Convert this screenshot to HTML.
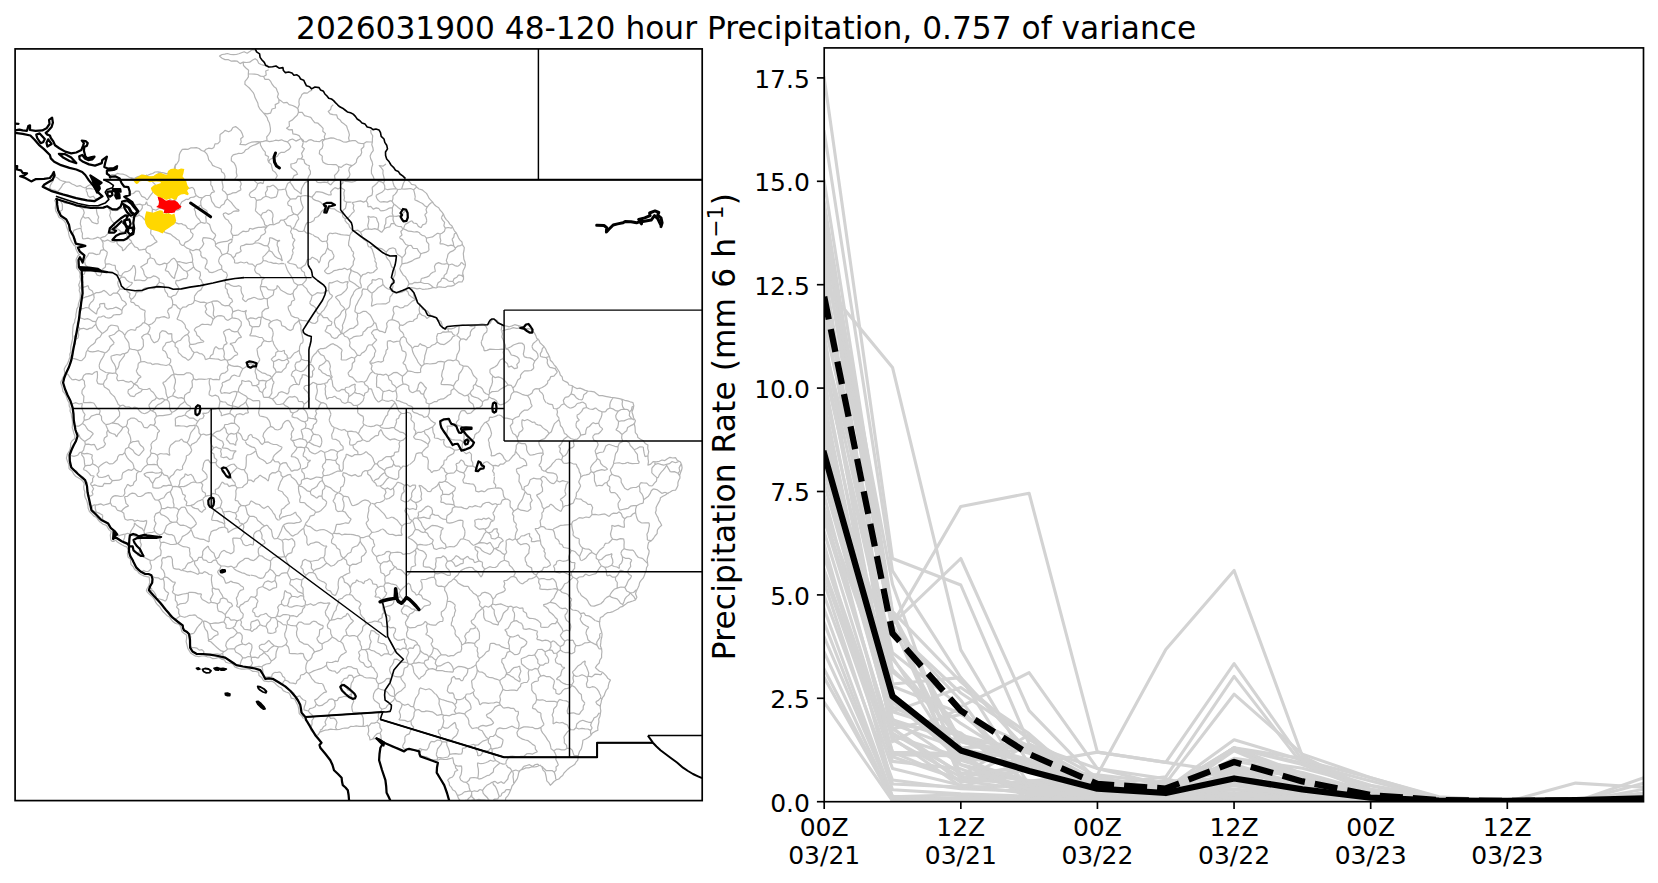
<!DOCTYPE html>
<html lang="en"><head><meta charset="utf-8"><title>Precipitation</title>
<style>html,body{margin:0;padding:0;background:#fff}body{width:1658px;height:883px;overflow:hidden}</style></head>
<body>
<svg width="1658" height="883" viewBox="0 0 1658 883" style="display:block;font-family:'DejaVu Sans','Liberation Sans',sans-serif">
<defs><clipPath id="cpL"><rect x="15.1" y="48.9" width="687.1" height="751.7"/></clipPath><clipPath id="cpR"><rect x="824.2" y="47.9" width="819.3" height="753.8"/></clipPath></defs>
<rect width="1658" height="883" fill="#fff"/>
<g clip-path="url(#cpL)">
<path d="M62.3 210.0 62.4 207.1 62.3 204.2 60.9 201.5 60.3 200.5M74.7 205.9 74.6 204.8M59.0 212.1 62.3 210.0M190.0 344.2 189.2 346.4M190.0 344.2 189.0 340.9 189.1 337.4 187.6 334.2M178.3 351.4 177.8 348.5 175.1 346.4 175.2 343.2M187.6 334.2 184.8 335.6 182.5 337.6 180.6 340.2 177.6 341.2 175.2 343.2M241.6 337.3 238.8 337.9 236.9 339.8 235.2 342.3 232.5 343.0 229.9 343.7M237.4 353.0 234.9 351.2 233.8 348.2 232.5 345.5 229.9 343.7M222.7 179.7 222.0 181.5 222.7 184.5 223.1 187.4 222.2 190.2M236.6 179.7 237.9 180.1 240.3 181.2M222.2 190.2 225.1 192.1 227.2 194.9M227.2 194.9 230.1 194.2 232.8 192.9 235.9 192.7 238.4 191.1 241.1 189.7M240.3 181.2 241.3 184.0 240.1 186.9 241.1 189.7M57.4 191.9 59.4 189.6 61.3 187.2 62.7 184.4 65.2 182.6 66.0 182.0M215.4 206.6 219.7 208.0M215.4 206.6 213.7 203.9 211.8 201.4 211.1 198.3 210.1 195.3M219.7 208.0 221.3 205.5 224.1 204.0 225.2 201.0 227.3 198.9M227.3 198.9 227.2 194.9M214.8 191.6 211.8 192.6 210.1 195.3M83.3 209.3 84.3 212.8 82.9 216.2M82.9 216.2 85.0 218.1 88.4 217.5 90.3 219.7 92.1 222.1 94.6 223.2 97.4 223.8M98.4 222.6 97.4 223.8M98.4 222.6 97.8 219.9 98.7 217.0 97.3 214.5 96.7 211.8 96.4 209.1M194.1 352.5 192.1 350.8 191.0 348.4 189.2 346.4M194.1 352.5 192.7 355.6 190.8 358.4 188.0 360.4M178.3 351.4 178.1 352.3M178.1 352.3 180.5 354.4 182.7 356.8 185.7 358.1 188.0 360.4M203.8 342.0 201.0 342.4 198.2 342.8 195.6 343.9 192.9 344.3 190.0 344.2M194.1 352.5 197.0 352.0 199.4 353.6 202.1 353.9M237.4 353.0 237.7 354.7M237.7 354.7 234.7 355.6 232.5 357.7 230.1 359.7 227.0 360.3M227.0 360.3 225.1 359.4M225.1 359.4 223.8 356.8 224.4 353.9 224.0 351.2 223.0 348.5M227.3 343.4 224.1 345.1 223.0 348.5M629.2 463.2 632.3 463.7 635.3 463.5 638.3 463.5M627.9 462.3 625.2 463.4 622.3 463.7 619.4 462.8 616.5 463.0 613.7 463.5M627.9 462.3 629.2 463.2M613.7 463.5 612.3 466.9 610.2 469.9M621.1 478.7 618.4 476.3 614.9 475.7 611.9 474.2M610.2 469.9 611.9 474.2M572.4 550.5 575.3 551.8 577.3 554.2 579.5 556.4M579.5 556.4 580.7 553.7 582.0 551.0 582.5 547.9M579.2 543.2 580.5 545.8 582.5 547.9M543.7 550.9 544.8 549.6M543.7 550.9 545.3 553.1 544.8 556.2 545.9 558.6 548.3 560.4 549.8 562.6 550.6 565.1M559.7 560.2 556.9 561.3 555.9 564.4 553.4 565.7M225.2 287.7 227.2 289.6 227.3 292.6 228.6 294.9 229.2 297.5 231.7 299.1 232.7 301.6M217.3 300.8 219.8 302.4 221.8 304.6 224.6 305.8M224.6 305.8 229.0 305.4M232.7 301.6 230.5 303.1 229.0 305.4M109.9 210.1 112.5 209.8 115.4 210.6 118.0 210.1 120.5 208.6 123.1 207.7 125.8 207.7M109.9 210.1 110.6 212.6 109.6 215.5 110.7 218.0 111.5 220.5M112.2 221.1 111.5 220.5M126.9 212.4 125.8 207.7M131.7 179.4 132.0 177.2M108.4 208.0 109.9 210.1M108.4 208.0 109.1 207.4M432.7 426.9 430.2 428.0 427.8 429.4 425.1 430.0M432.7 426.9 432.8 429.7 433.2 432.5 434.6 435.1 434.4 438.0M425.1 430.0 424.3 431.0M424.3 431.0 425.1 433.8 427.4 435.6 429.0 437.9 430.1 440.4M223.0 213.9 223.9 216.4 225.4 218.7 228.1 220.2 229.3 222.6 231.3 224.6 231.8 227.4M223.0 213.9 225.5 212.8 228.5 214.4 231.1 213.3 233.5 211.4 236.2 210.9 239.0 211.2M227.3 198.9 229.3 200.6 231.3 202.4 232.9 204.6 234.5 206.7 236.3 208.7 238.9 209.9M238.9 209.9 239.0 211.2M255.4 266.9 257.0 264.5 259.8 263.9 262.1 262.5M255.4 266.9 254.6 270.0 256.1 272.9M256.1 272.9 259.1 274.2 261.2 277.2 264.6 277.7M248.3 263.9 252.4 264.1 255.4 266.9M206.9 222.8 209.6 224.5 210.5 227.6 211.5 230.5 213.4 232.8 215.8 234.8M231.8 227.4 230.8 232.1M83.3 209.3 80.7 207.5 78.0 205.8 74.7 205.9M82.9 216.2 80.8 220.0M80.8 220.0 80.3 223.9 81.5 227.6M73.8 230.4 77.3 229.0 81.0 228.2M72.8 235.0 73.0 233.1 73.8 230.4M214.8 191.6 212.8 189.6 212.4 186.8 210.7 184.7 210.9 181.6 209.5 179.7M210.1 195.3 205.8 195.5M96.4 209.1 97.7 207.8M112.2 221.1 113.9 223.2 114.7 225.7 115.6 228.2M97.5 237.1 100.1 238.2M100.1 238.2 102.5 237.1 105.2 236.4 107.1 234.4 109.0 232.6 110.6 230.1 113.1 229.1 115.6 228.2M113.7 242.1 116.7 240.5M116.7 240.5 117.2 243.6 119.4 245.8 122.1 247.7 122.6 250.9M101.6 240.1 100.1 238.2M101.6 240.1 104.5 241.2 107.8 239.9 110.7 241.6 113.7 242.1M115.6 228.2 118.6 229.5 121.0 231.8M131.6 242.5 133.2 244.6 134.8 246.9 137.6 247.8 139.1 250.1M131.6 242.5 129.1 244.3 126.9 246.6 125.1 249.1 122.6 250.9M143.5 346.2 141.3 349.4 137.7 350.6M143.5 346.2 143.3 343.1 143.2 339.9 141.4 337.2M137.7 350.6 135.1 349.7 132.3 349.5 129.6 348.6M129.6 348.6 129.1 345.8 128.8 342.9M117.6 282.6 119.3 279.6 121.5 276.9M115.6 269.6 117.9 271.5 118.5 274.9 121.4 276.3M133.5 265.3 132.1 267.8 130.3 269.9 127.9 271.3 124.8 271.9 122.7 273.6 121.4 276.3M115.2 265.4 115.6 269.6M120.0 288.9 118.4 285.9 117.6 282.6M120.0 288.9 123.1 289.1 126.2 288.8M121.5 276.9 124.7 277.4 126.8 280.2 129.4 282.0 132.6 282.6M132.6 282.6 130.8 285.1 128.5 286.9 126.2 288.8M162.5 349.9 163.1 347.2 165.0 345.1 166.2 342.6M162.5 349.9 165.3 351.5 166.8 354.2 167.6 357.5 170.6 359.0M175.2 343.2 172.3 340.8M166.2 342.6 169.4 342.2 172.3 340.8M154.0 342.9 157.7 341.2 159.6 337.7M154.0 342.9 152.3 340.6 150.9 338.2 150.1 335.3 147.5 333.6M147.5 333.6 149.3 330.6M159.6 337.7 159.7 333.3M141.4 337.2 144.1 334.8 147.5 333.6M221.0 360.5 218.3 359.1 215.4 359.0 212.5 358.7 209.7 358.3M209.7 358.3 205.4 359.6M225.1 359.4 221.0 360.5M215.7 346.6 219.0 348.9 223.0 348.5M215.7 346.6 214.2 348.8 213.5 351.4 213.0 354.1 210.6 355.8 209.7 358.3M202.1 353.9 204.5 356.3 205.4 359.6M678.0 473.3 680.2 476.6M678.0 473.3 679.8 471.0 679.1 467.9 680.4 465.4 681.0 464.2M670.4 471.9 674.4 471.6 678.0 473.3M677.9 460.5 678.4 461.6M497.3 505.8 495.5 508.1 494.4 510.8 492.8 513.2M494.0 520.5 494.6 516.7 492.8 513.2M376.9 339.9 374.4 342.4 371.9 345.0M387.4 341.2 387.3 345.0 387.8 348.8M387.8 348.8 386.0 350.5M371.9 345.0 374.1 347.9 375.9 351.0M632.9 406.2 632.0 407.0 631.5 409.9 629.7 411.9M629.7 411.9 629.3 415.6 631.7 418.6M631.7 418.6 633.8 420.1M629.2 442.8 626.4 440.9 623.0 441.5M634.4 423.3 633.0 424.6 630.2 425.9 627.6 427.5 626.7 430.8 624.3 432.6 622.0 434.5M623.0 441.5 621.6 438.1 622.0 434.5M636.5 505.7 633.5 505.6 630.6 506.2 628.2 508.3 625.4 508.9 622.5 509.5 619.7 510.2M620.5 499.5 618.0 503.5M618.0 503.5 618.3 507.0 619.7 510.2M627.7 490.0 624.7 488.3 623.0 485.4M614.9 492.6 617.1 494.6 618.7 497.2 620.5 499.5M639.4 462.4 637.9 460.1 637.6 457.3 637.4 454.4 635.6 452.2 634.1 449.8M645.0 456.6 644.2 453.4 643.6 450.2 643.3 447.0M643.3 447.0 639.9 446.8 637.1 448.5 634.1 449.7M638.3 463.5 639.4 462.4M629.2 442.8 630.3 445.5 632.3 447.5 634.1 449.7M645.0 456.6 648.0 455.7M668.6 493.7 664.9 492.2M492.9 465.7 490.0 463.7 487.2 461.5M492.9 465.7 495.5 465.4 498.2 466.2 500.5 464.0 503.2 464.2M491.0 455.8 494.3 455.7 497.0 453.9 500.1 453.1M500.1 453.1 502.6 455.5 504.2 458.6 506.5 461.1M503.2 464.2 506.5 461.1M489.9 369.5 490.0 373.1M467.8 366.4 469.6 368.4 471.4 370.4 472.3 373.1 473.5 375.5 475.5 377.4 477.3 379.5M580.7 485.7 578.6 481.9M578.6 481.9 580.6 477.4M593.5 472.6 594.5 475.2 594.4 478.1 594.5 481.0 595.6 483.6 596.4 486.3M593.5 472.6 591.2 471.6M591.2 471.6 589.1 474.1 586.1 474.9 583.0 475.5 580.6 477.4M607.7 469.3 605.0 470.3 601.8 469.7 599.0 470.4 596.2 471.2 593.5 472.6M611.9 474.2 609.5 476.4 609.2 479.8 607.1 482.2M596.4 486.3 599.0 485.3 602.3 485.6 604.4 483.3 607.1 482.2M623.0 485.4 621.2 482.3 621.1 478.7M614.9 492.6 610.7 492.6M610.7 492.6 609.6 490.0 610.0 487.0 607.4 485.0 607.1 482.2M607.0 575.9 610.0 575.2 612.6 577.2 615.5 577.2M615.5 577.2 615.5 580.0 617.3 582.5 617.2 585.3 617.2 588.1M617.2 588.1 614.2 589.3 612.2 591.5 610.4 594.2M647.9 563.4 645.9 561.9M651.5 540.5 650.8 540.5 647.4 540.1M649.1 522.8 649.4 525.7 648.7 528.6 648.3 531.5 646.9 534.2 647.3 537.2 647.4 540.1M596.0 573.6 597.6 570.9 599.3 568.2 601.3 565.8M607.0 575.9 606.4 573.0 606.2 570.0 604.8 567.4M604.8 567.4 601.3 565.8M636.7 505.8 635.6 509.1 635.6 512.6M635.6 512.6 632.8 514.0 630.6 516.5 627.2 516.8 624.7 518.8M624.7 518.8 622.4 516.8 621.4 513.8 619.1 511.8M607.7 469.3 605.6 467.2 602.9 465.7 600.8 463.5 599.9 460.2 597.3 458.6M591.2 471.6 590.4 468.0M590.4 468.0 591.8 465.4 593.6 463.1 595.8 461.1 597.3 458.6M170.6 359.0 170.7 362.0 169.0 364.5M169.0 364.5 166.2 365.5 163.4 365.0 160.6 364.6 157.9 363.9 155.1 363.9 152.3 364.7M152.3 364.7 151.0 363.2M137.7 350.6 138.5 353.4 140.0 356.0 140.6 358.8 140.8 361.8M151.0 363.2 147.6 363.0 144.3 361.5 140.8 361.8M600.9 696.1 599.7 693.7 598.6 691.1 597.0 688.9 594.9 687.1M397.5 482.1 395.6 485.2 393.2 487.9M380.1 486.0 382.9 484.4 384.8 481.8 386.7 479.3 389.2 477.3M380.1 486.0 382.3 488.1 385.0 489.3M396.5 479.7 392.8 478.6 389.2 477.3M393.2 487.9 390.7 489.7 387.6 487.9 385.0 489.3M390.8 552.8 389.2 556.5 389.8 560.4M390.8 552.8 394.1 552.5 397.5 552.2 400.9 552.5M400.9 552.5 403.3 554.5M395.5 566.7 394.7 566.7M389.8 560.4 391.8 562.2 392.8 564.8 394.7 566.7M529.7 547.4 529.0 550.1 528.9 553.0 526.8 555.3 525.1 557.7 525.3 560.7M526.7 563.1 525.3 560.7M528.7 545.0 526.3 543.5 523.6 543.9 520.8 544.8 518.4 543.1M528.7 545.0 529.7 547.4M543.6 567.3 542.5 569.9 540.2 571.4 537.7 572.7 536.4 575.1M526.6 564.8 528.9 566.5 531.6 567.9 532.1 571.4 533.8 573.7 536.4 575.1M526.6 564.8 526.7 563.1M543.6 567.3 547.3 567.1 550.6 565.1M522.5 584.0 524.6 582.3 527.0 581.0 528.9 578.8 531.8 578.6 534.3 577.5 536.6 576.1M522.5 584.0 519.8 582.7 517.8 580.6 516.2 577.8 513.6 576.4M536.4 575.1 536.6 576.1M513.6 576.4 515.4 572.7M515.4 572.7 513.7 570.0 511.9 567.4 509.4 565.2 508.7 561.9M203.8 342.0 203.6 341.0M232.2 317.8 231.9 314.8 232.8 311.9M232.2 317.8 227.7 320.4M232.8 311.9 231.9 308.1 229.0 305.4M221.2 315.7 223.9 316.5 225.4 319.0 227.7 320.4M241.3 321.8 241.2 325.4 239.3 328.3 237.7 331.3M241.3 321.8 238.8 319.3 235.6 318.3 232.2 317.8M237.7 331.3 234.8 331.8 232.0 331.2 229.5 329.1 226.5 329.8M227.3 343.4 225.7 340.8 225.6 337.7 224.5 334.9 223.3 332.1M237.7 331.3 239.5 334.4 241.6 337.3M226.5 329.8 223.3 332.1M241.4 287.1 241.0 290.2 241.7 293.1 243.5 296.0 242.4 299.0M241.4 287.1 239.0 285.7 236.2 286.3 233.5 286.3 231.0 285.4 228.7 283.7 226.0 283.8M225.2 287.7 225.6 284.1M186.8 271.5 189.3 270.3 191.5 268.7 193.6 266.9M186.8 271.5 183.9 270.3 181.8 268.1 179.8 265.8 177.5 263.9M192.4 262.1 189.3 262.5 186.2 263.4 183.1 262.7 180.0 261.7 176.9 261.8M177.5 263.9 176.9 261.8M192.7 262.3 193.6 266.9M189.9 249.3 192.9 250.7 196.1 249.4 199.1 249.9M189.9 249.3 190.0 251.9 191.7 254.3 192.1 256.8 192.7 259.4 192.4 262.1M199.1 249.9 200.9 252.2 200.8 255.2 202.4 257.6M207.0 210.8 207.2 213.8 205.7 216.7 206.1 219.7 206.2 222.7M137.8 182.0 140.5 180.5 141.8 177.7 143.7 175.4 143.8 175.4M137.8 182.0 134.6 181.1 131.7 179.4M129.7 194.2 130.4 194.2 133.4 193.5 135.8 191.2 138.9 191.0M128.5 202.9 129.3 202.9 131.7 204.3 134.3 205.0 137.0 204.6 139.8 204.1 142.3 205.1M146.8 199.9 144.9 197.6 141.8 196.4 140.3 193.7 138.9 191.0M142.3 205.1 145.3 204.5 146.5 201.7M131.6 242.5 131.5 241.2M121.0 231.8 124.9 231.8M124.9 231.8 126.7 234.0 127.4 237.0 129.3 239.2 131.5 241.2M324.9 331.3 327.7 332.7 330.3 334.2 331.8 337.1 334.5 338.6M317.9 350.1 320.4 348.7 323.3 348.6 326.0 347.8 328.4 346.1 330.7 344.4 333.4 343.7M371.9 293.2 369.5 291.5 367.5 289.5M371.9 293.2 374.2 291.6 376.2 289.6 378.2 287.5 380.7 286.2 383.0 284.5M383.0 284.5 382.4 279.3M382.4 279.3 378.9 278.5 375.5 280.2 372.0 279.7M372.0 279.7 372.0 282.7 369.8 284.6 367.9 286.6 367.5 289.5M404.1 306.2 407.5 305.6 409.9 303.4 412.3 301.1 415.3 299.8M415.3 299.8 413.3 297.9 410.9 296.4 408.8 294.7 407.9 291.7 405.7 290.1M401.2 292.5 405.7 290.1M393.2 292.6 395.9 292.6 398.6 292.7 401.2 292.5M393.2 292.6 392.8 291.8M399.6 268.1 400.5 270.6 401.9 272.9 403.3 275.1 405.5 276.8 406.7 279.1 408.2 281.3 409.0 283.9M409.0 283.9 407.4 287.0 405.7 290.1M394.5 268.9 395.3 271.9 395.0 274.7 393.6 277.5 392.6 280.3 392.2 283.1 393.0 286.1 392.4 288.9 392.8 291.8M452.0 239.3 453.2 242.5 453.7 245.8M452.0 239.3 453.8 237.1 454.3 234.1 456.2 232.7M462.4 244.4 460.6 245.6 457.6 246.2 455.4 248.1M455.4 248.1 453.7 245.8M445.3 228.1 448.1 227.5 451.3 228.1 452.5 226.9M445.3 228.1 443.9 225.7 444.6 222.4 442.6 220.2 441.3 217.7M441.3 217.7 443.2 214.2M441.9 233.2 444.5 231.2 445.3 228.1M228.5 364.4 227.0 360.3M228.5 364.4 231.3 365.6 234.2 366.4 237.4 366.1 240.3 366.9 242.9 368.7M242.9 368.7 245.8 367.0 248.1 364.5M228.5 364.4 227.3 367.3 228.0 370.4M221.5 373.6 225.1 372.8 228.0 370.4M238.3 391.6 236.9 391.9M238.3 391.6 238.6 388.7 239.7 386.0 241.8 383.5 241.6 380.4M236.9 391.9 234.9 391.4M239.5 376.5 236.9 376.0 234.3 375.0 231.7 376.1M231.7 376.1 229.6 379.6M242.9 368.7 241.5 371.2 240.4 373.8 239.5 376.5M409.0 283.9 412.0 283.9 414.7 282.3 417.7 282.7 420.6 282.2M420.6 282.2 421.3 278.5M400.0 267.7 402.0 263.8M402.0 263.8 404.6 263.3 407.3 262.9 409.7 261.9 412.2 260.9 414.4 259.2 416.9 258.4 419.5 257.7M419.9 233.8 422.1 235.3 424.7 236.0 426.4 238.2M411.3 245.4 413.0 248.3 417.1 248.5 418.7 251.4 420.9 253.8M420.9 253.8 423.6 252.8 426.5 252.1 429.0 250.4M429.0 250.4 428.7 247.3 428.8 244.1 426.5 241.3 426.4 238.2M441.9 233.2 440.1 234.0M453.7 245.8 451.0 245.2 448.0 245.9 445.4 244.7 442.7 243.8 439.8 243.8M439.8 243.8 440.8 240.6 440.0 237.3 440.1 234.0M421.1 227.7 422.5 224.9 425.7 223.7 426.8 220.7M419.6 232.7 419.9 233.8M426.4 238.2 429.4 237.5 432.5 236.9 435.0 235.1 437.4 233.2M437.4 233.2 440.1 234.0M415.1 434.7 413.4 437.0M415.1 434.7 417.8 432.4 421.3 432.3 424.3 431.0M430.1 440.4 428.0 444.4M428.0 444.4 425.9 442.6 423.5 441.3 421.1 440.0 418.3 439.5 415.4 439.1 413.4 437.0M444.1 444.6 443.6 441.9 444.5 439.4M444.1 444.6 446.3 446.8 449.5 447.1 452.2 448.5 454.6 450.2M454.6 450.2 457.3 450.0 459.8 449.1 462.4 448.9M446.5 436.8 449.3 437.6 451.7 439.6 454.6 439.9 457.5 440.0 460.5 440.2 462.9 441.9M462.4 448.9 462.1 445.4 462.9 441.9M264.6 277.7 261.9 280.0 261.6 283.5 260.3 286.4M232.8 311.9 235.5 310.9 238.2 310.0 241.1 311.0 244.0 311.7 246.6 310.2M246.6 310.2 245.3 313.0 246.1 315.9 246.5 318.7M263.2 260.5 265.8 260.8 268.3 262.0 271.0 262.4 273.5 263.4 276.2 263.2 278.8 264.0 281.5 263.4 284.2 263.6M263.2 260.5 262.7 257.1M262.7 257.1 265.0 255.1 267.0 252.8 269.0 250.6M269.0 250.6 271.7 251.7 273.4 254.2 275.2 256.6 277.5 258.1 280.5 259.0 282.4 261.1M262.1 262.5 263.2 260.5M248.3 263.9 247.2 262.0M215.8 234.8 214.8 237.4 213.1 239.7M204.9 223.3 206.2 222.7M213.1 239.7 209.9 238.3 206.5 237.9 203.1 237.7M82.6 274.6 81.9 275.2M82.6 274.6 84.3 274.1M82.4 287.2 83.0 287.3 85.5 286.7 88.0 285.5M81.0 228.2 81.4 230.9 82.5 233.4 82.2 236.2 82.7 238.8M97.5 237.1 95.8 238.2M82.7 238.8 85.3 238.6 87.9 238.1 90.6 239.0 93.2 238.9 95.8 238.2M53.7 177.3 53.4 180.4 51.7 183.0 50.2 185.6 49.7 188.6M43.8 185.8 45.2 186.7 48.2 188.7M48.2 188.7 49.7 188.6M57.4 191.9 55.1 190.2 52.2 189.9 49.7 188.6M124.6 355.4 122.9 357.7 121.1 360.0 119.4 362.4 118.9 365.4 117.9 368.2 115.9 370.3M115.9 370.3 115.7 372.7M129.6 348.6 127.8 352.1 124.4 353.9M124.4 353.9 124.6 355.4M140.8 361.8 138.2 363.6M124.4 353.9 122.9 353.5M115.9 370.3 115.7 367.2 114.5 364.4 112.7 361.9 111.3 359.2 110.9 356.2M122.9 353.5 120.1 355.2 116.8 354.5 113.8 355.3 110.9 356.2M119.0 330.2 116.6 332.0 114.5 334.2 111.7 335.2 108.8 336.1M119.0 330.2 122.4 332.2 124.8 335.3M124.7 337.1 124.8 335.3M108.8 336.1 110.7 338.5 112.6 340.6 114.3 343.1M124.7 337.1 126.9 339.9 128.8 342.9M114.2 343.4 112.1 345.0 110.2 346.8 109.1 349.5 107.3 351.4 105.1 353.0M119.0 330.2 117.8 326.2M102.4 333.5 104.9 331.7 107.3 329.8 108.7 326.7 111.3 325.0M117.8 326.2 114.5 325.5 111.3 325.0M120.0 288.9 117.0 292.8M109.6 295.3 106.9 292.6 103.8 290.3M109.6 295.3 110.5 295.5M117.0 292.8 113.3 293.1 110.5 295.5M116.0 307.1 113.2 308.3 110.2 308.7 107.3 309.3M104.6 303.3 104.8 306.9 107.3 309.3M95.9 321.7 95.9 324.2M95.9 321.7 98.1 317.2M95.9 324.2 96.8 326.9 98.1 329.4 100.2 331.4 102.1 333.5M108.7 318.1 105.9 317.5 103.6 315.8M98.1 317.2 101.0 317.0 103.6 315.8M186.6 278.6 183.9 278.6 181.3 279.6 178.8 280.6 176.0 280.3M176.0 280.3 175.6 283.1 177.2 285.5 178.8 287.8 178.2 290.7M186.8 271.5 187.9 275.1 186.6 278.6M174.5 278.7 174.9 275.7 175.8 272.8 176.9 269.9 177.7 267.0 177.5 263.9M203.6 341.0 200.9 339.6 199.4 337.0 196.9 335.2 196.1 332.1 194.1 330.0M201.8 324.2 204.9 324.5 208.0 324.4 211.0 325.3M201.8 324.2 199.0 326.3 195.8 327.6M194.1 330.0 195.8 327.6M171.0 297.3 173.1 295.6 175.7 295.0M171.0 297.3 167.9 296.5M175.7 295.0 178.2 290.7M167.9 296.5 167.4 293.9 165.5 291.7 164.6 289.2 164.2 286.5 163.9 283.8M156.4 276.7 153.3 275.9 150.6 277.7 147.7 277.9M147.7 277.9 145.4 276.3 144.1 274.0 143.6 271.1 142.4 268.7 140.5 266.8M140.5 266.8 142.3 266.1M165.1 270.5 168.3 271.6 170.1 274.3 172.0 276.8 174.5 278.7M163.9 283.8 159.3 282.3M159.3 282.3 159.1 278.8 156.4 276.7M134.6 266.3 133.5 265.3M139.1 250.1 142.3 249.7 145.5 249.1M145.5 249.1 146.5 252.3 150.0 254.2 150.3 257.8M150.3 257.8 147.8 259.4 147.3 262.9 144.7 264.5 142.3 266.1M154.3 289.0 155.9 286.7 157.5 284.4 159.3 282.3M154.3 289.0 151.7 288.0 148.9 288.4 146.4 287.5M147.7 277.9 145.2 280.6M134.6 266.3 135.5 269.2 135.6 272.1 135.3 274.9 134.5 277.8 134.4 280.7M145.2 280.6 142.5 280.7 139.8 280.0 137.1 280.2 134.4 280.7M146.4 287.5 143.4 288.9 141.8 291.9M141.8 291.9 139.2 291.4M126.2 288.8 127.3 291.5 130.0 293.5 129.4 297.0 131.2 299.4M139.2 291.4 136.2 292.4 135.3 295.4 133.5 297.7 131.2 299.4M289.4 396.6 291.9 397.2M297.5 384.4 293.6 384.5 290.4 386.5M297.5 384.4 299.2 385.0M291.9 397.2 295.1 396.4M290.4 386.5 289.1 388.9 289.0 391.7 287.6 394.1M317.9 350.1 319.2 352.6 320.8 354.6 323.8 355.7 324.9 358.2 326.3 360.4M326.3 360.4 324.6 362.7 322.2 364.5 319.5 365.9 318.5 368.9M314.6 369.0 313.1 366.3 310.9 364.3M317.8 350.1 316.3 352.7 314.0 354.8 312.2 357.2 311.4 360.2 310.6 363.1M314.6 369.0 312.4 371.3 312.7 374.4 312.1 377.2M302.3 374.5 305.6 375.1 308.6 377.0 312.1 377.2M310.9 364.3 307.7 365.4 305.9 368.2 303.8 370.6 300.8 371.8M300.8 343.6 299.6 346.8 299.4 350.2M299.4 350.2 297.0 351.8 294.3 353.0 292.4 355.4 290.5 357.8 287.4 358.4M287.4 358.4 287.0 355.4 284.5 353.3 284.4 350.3M278.4 351.0 275.9 352.5 275.5 355.8 273.1 357.3 271.1 359.3M278.4 351.0 281.5 351.5 284.4 350.3M271.1 359.3 273.5 361.7M273.5 361.7 276.1 360.6 278.8 359.3 281.8 360.6 284.7 360.3 287.2 359.0M278.4 351.0 276.6 348.7 275.0 346.2 273.6 343.7 272.9 340.8M281.7 325.6 284.9 326.7 287.5 329.2 290.6 330.6M273.2 332.6 273.0 335.3 272.1 337.9 272.4 340.7M302.8 342.7 303.2 339.8 302.5 337.0 302.0 334.1 301.3 331.3 300.8 328.5 301.0 325.6 299.5 322.9 299.2 320.0M315.2 323.5 312.4 323.2 309.9 321.9 307.4 321.0 304.7 320.6 302.0 320.3 299.3 319.9M310.6 363.1 308.0 360.6 304.5 360.4 301.4 359.3M301.4 359.3 301.1 356.2 299.6 353.4 299.4 350.2M300.8 343.6 302.8 342.7M290.6 330.6 293.0 329.0 293.7 326.1 295.1 323.7 297.4 322.1 299.2 320.0M642.5 558.4 645.9 561.9M515.2 538.7 512.6 540.2 509.5 538.9 506.8 540.0M515.2 538.7 515.3 535.8 516.0 532.8 517.4 529.9 515.8 526.8 516.4 523.9M516.4 523.9 514.1 521.8M506.0 540.5 506.3 543.5 506.1 546.5 505.8 549.5 506.8 552.4M506.0 540.5 506.8 540.0M516.6 539.9 518.4 543.1M516.6 539.9 515.2 538.7M512.2 513.6 513.8 516.1 513.5 519.1 514.1 521.8M512.2 513.6 513.6 511.2M513.6 511.2 517.8 508.5M527.5 511.5 524.2 510.6 520.8 510.2 517.8 508.5M386.6 518.3 389.4 518.0 392.0 517.0M392.3 517.1 394.7 518.4 397.0 519.9 398.6 522.0 400.2 524.2 402.0 526.1M382.3 528.8 384.9 530.5 386.9 532.9 389.5 534.5M389.5 534.5 392.7 534.4 395.8 535.6 399.0 535.1 402.2 535.3M402.0 526.1 401.3 529.2 401.2 532.2 402.2 535.3M404.7 511.2 406.9 513.3 408.5 515.8 409.4 518.9 412.0 520.6M402.0 526.1 404.2 524.1 407.1 523.5 410.1 523.1 412.0 520.6M488.5 532.9 491.7 532.0 494.0 529.2 497.4 528.7M488.5 532.9 490.8 535.1 491.2 538.3M491.2 538.3 494.9 539.0 498.2 537.0M497.4 528.7 496.9 531.6 498.7 534.2 498.2 537.0M503.5 540.8 501.3 538.3 498.2 537.0M497.0 504.6 495.6 503.5M497.0 504.6 500.7 504.0 502.2 500.1 505.6 498.9M505.6 498.9 503.8 496.6 503.2 493.8 502.9 490.8 501.2 488.4M501.2 488.4 498.4 487.9 495.5 488.2M497.3 505.8 497.0 504.6M480.9 507.1 482.8 504.1 486.0 502.5M486.0 502.5 489.3 502.4 492.3 504.6 495.6 503.5M508.2 499.4 510.3 501.3 510.0 504.3 510.3 507.0 512.4 508.9 513.6 511.2M508.2 499.4 505.6 498.9M483.4 518.1 485.9 519.1 488.9 517.9 491.1 519.9 493.6 520.7M494.5 476.5 494.2 479.4 493.7 482.4 495.8 485.1 495.3 488.0M492.9 465.7 493.7 468.2 492.5 471.0 494.2 473.4 494.0 476.0M446.8 426.1 447.8 428.8 447.1 431.4 446.8 434.1 446.5 436.8M432.7 426.9 435.7 423.4M434.4 438.0 437.8 438.3 441.0 440.0 444.5 439.4M458.4 380.0 458.6 376.9 459.1 373.9 461.1 371.5 462.7 368.8 463.2 365.8M458.4 380.0 455.9 381.6M447.9 360.0 444.6 362.2M447.9 360.0 450.6 360.1 453.3 360.8 456.0 359.8M444.6 362.2 443.9 365.7 443.5 369.1M463.2 365.8 459.9 364.5 458.6 361.2M456.0 359.8 458.6 361.2M386.0 350.5 385.9 353.3 384.6 355.7 383.5 358.3 383.5 361.0M586.9 427.6 585.9 430.8 585.6 434.1M575.9 424.4 576.8 421.6 579.4 420.2M575.9 424.4 576.4 427.4 578.6 429.7 579.9 432.3 580.8 435.2M580.8 435.2 585.6 434.1M586.9 427.6 589.4 426.5 591.1 424.5 592.9 422.6M592.6 436.7 594.8 434.2 598.4 433.7 600.8 431.5 602.8 428.9M592.9 422.6 595.7 423.7 598.6 423.1M602.8 428.9 600.0 426.6 598.6 423.1M618.1 448.5 617.9 446.8M618.1 448.5 617.4 451.2 615.6 453.6 615.0 456.4 614.6 459.3 613.6 462.0M617.9 446.8 614.8 446.3 611.8 445.3 608.8 444.2M603.4 452.0 604.7 449.1 605.8 446.0 608.8 444.2M623.0 441.5 619.4 443.1 617.9 446.8M613.7 463.5 613.6 462.0M597.3 458.6 596.0 454.1M596.0 454.1 599.5 452.5 603.4 452.0M597.1 441.6 598.2 444.8 596.8 447.8 595.1 450.8 596.0 454.1M655.2 464.3 658.0 463.5 660.8 464.4 663.6 465.2 666.4 464.3M655.2 464.3 651.9 468.0M651.9 468.0 651.8 472.9M666.6 465.3 665.0 467.9 663.2 470.2 661.1 472.4 659.3 474.8 658.2 477.6M651.8 472.9 654.3 475.4 656.9 477.6M658.2 477.6 656.9 477.6M654.7 462.7 655.2 464.3M670.4 471.9 668.5 468.6 666.6 465.3M678.4 461.6 675.5 462.7 672.1 461.5 669.4 463.7 666.4 464.4M664.9 492.2 662.1 493.4M636.7 505.8 639.8 504.0 643.2 503.2M635.6 512.6 636.2 515.4 636.9 518.1 638.1 520.8M638.1 520.8 641.6 523.0M649.1 522.8 645.4 522.8 641.6 523.0M492.8 375.9 492.2 378.8 492.5 381.9 491.7 384.9 490.4 387.7 489.4 390.6 489.5 393.6M492.8 375.9 495.2 377.7 498.3 376.9 500.9 377.8 503.3 379.1M489.5 393.6 491.8 391.7 495.0 391.5 498.1 391.1 500.4 389.3 503.0 387.7 505.6 386.4 508.1 384.8M503.3 379.1 505.8 381.9 508.1 384.8M489.9 369.5 492.4 368.1 495.1 366.8 497.3 365.0 498.8 362.3 500.4 359.8 503.2 358.6M503.2 358.6 504.8 361.5 507.5 363.8 508.4 367.1M490.0 373.1 492.8 375.9M477.3 379.5 475.3 384.3M489.5 393.6 488.8 394.8M488.8 394.8 486.0 393.8 483.8 392.0 482.5 389.0 480.4 387.0 477.5 386.1 475.3 384.3M463.2 365.8 467.8 366.4M473.2 385.7 475.3 384.3M591.1 504.4 592.7 507.7 591.7 511.2 592.0 514.7M604.9 513.9 601.7 514.4 598.5 515.0 595.2 514.3 592.0 514.7M619.1 511.8 616.8 513.4 613.6 513.1 611.1 514.3 609.1 516.5M609.1 516.5 604.9 513.9M580.7 485.7 579.5 488.2 578.3 490.6 576.4 492.8 576.3 495.8 575.4 498.4M575.4 498.4 578.1 499.0 581.1 499.1 583.3 501.3 585.8 502.3 588.0 504.4 591.1 504.4M579.4 420.2 577.5 418.0 576.8 415.3M574.1 439.5 570.7 438.5 568.0 436.3M574.1 439.5 577.1 439.2 579.1 437.4 580.8 435.2M568.0 436.3 566.1 434.1M589.0 575.7 592.5 574.5 596.0 573.6M604.2 599.6 606.7 597.4 609.7 595.9M609.7 595.9 610.4 594.2M631.8 560.1 628.9 558.3 625.4 558.3 622.4 556.8M631.8 560.1 630.3 563.0 630.7 566.5 628.8 569.1 627.4 572.0M622.4 556.8 622.6 560.0 621.6 562.8 619.2 565.3 619.4 568.5M627.4 572.0 623.8 571.3 620.3 570.1M642.5 558.4 638.4 557.5M631.6 575.8 629.1 574.4 627.4 572.0M615.5 577.2 617.6 575.2 619.0 572.6 620.3 570.1M631.6 575.8 630.5 578.3 628.5 580.2 627.3 582.7 626.4 585.2 624.8 587.4M624.8 587.4 620.9 587.0 617.2 588.1M611.7 565.3 608.3 566.8 604.8 567.4M611.7 565.3 614.2 566.5 617.0 567.0 619.4 568.5M638.4 557.5 636.3 555.2 634.9 552.5 633.0 550.1M620.8 553.2 622.4 556.8M620.8 553.2 622.0 550.6 624.1 548.6M624.1 548.6 626.9 549.7 629.9 550.2 633.0 550.1M596.3 555.0 596.2 558.2 598.6 560.1M596.3 555.0 597.8 552.6 599.5 550.3 601.7 548.5 604.0 546.8M598.6 560.1 601.6 559.5 603.8 557.2 606.3 555.3 609.3 554.7 612.1 553.6M598.6 561.5 598.6 560.1M598.6 561.5 601.3 565.8M611.7 565.3 612.9 562.4 612.6 559.5 611.3 556.5 612.1 553.6M585.3 660.9 582.7 662.2 580.8 664.3 578.2 665.7 576.3 667.8 574.5 670.1 572.4 671.9M585.3 660.9 584.8 664.2 586.5 667.0 587.6 669.9 588.7 672.9 588.2 676.1M587.1 677.2 588.2 676.1M587.1 677.2 584.5 675.8 582.0 674.7 579.0 676.0 576.1 676.4 573.7 674.7M573.7 674.7 572.4 671.9M556.1 582.6 556.6 586.3 557.9 589.7M556.1 582.6 554.6 580.3 552.5 578.4M552.5 578.4 549.8 579.6 547.1 579.7 544.4 578.7 541.7 578.6 539.0 579.1M557.8 589.8 555.3 588.6 552.6 589.0 550.0 589.3 547.4 589.6 544.8 589.4 542.2 589.3 539.6 588.8M539.0 579.1 538.6 582.4 540.3 585.5 539.6 588.8M554.7 571.4 554.6 568.4 553.4 565.7M536.6 576.1 539.0 579.1M589.0 575.7 585.6 574.0M579.3 592.9 577.9 590.2 577.1 587.5 577.1 584.6 578.0 581.5 576.5 579.0M576.5 579.0 579.3 577.0 583.1 576.6 585.6 574.0M571.8 599.2 569.5 597.3 568.0 594.5 565.2 593.3 562.2 592.5 560.1 590.3M560.1 590.3 562.0 588.5 563.4 586.1 564.7 583.8 567.4 582.8 569.2 580.8 571.3 579.1 573.1 577.2M576.5 579.0 573.1 577.2M592.0 552.4 589.5 553.6 587.7 555.6 586.0 557.9 583.8 559.5 581.3 560.7M592.0 552.4 596.3 555.0M591.3 550.8 588.6 549.1 585.4 549.0 582.5 547.9M591.3 550.8 592.0 552.4M579.5 556.4 580.6 560.5M595.7 620.7 598.7 621.6 600.5 621.0M603.7 601.0 600.8 603.8 597.0 605.1M584.0 612.8 585.5 615.4 588.6 615.9 591.1 617.1 593.3 619.0 595.4 620.8M591.1 606.0 594.2 606.1 597.0 605.1M591.1 606.0 589.2 603.9 587.9 601.2 586.2 598.9 583.7 597.2 581.3 595.5 579.9 592.9M604.2 599.6 603.7 601.0M584.0 612.8 580.5 613.6M571.8 599.2 570.5 602.1 571.0 605.3 570.2 608.3M580.5 613.6 578.4 611.3 575.7 610.3 572.6 610.0 570.2 608.3M624.7 518.8 624.0 521.7 624.3 524.6 624.4 527.5M624.1 548.6 624.0 545.4 624.2 542.1 623.7 538.8M623.7 538.8 620.3 538.6 616.9 539.9 613.5 539.4M603.9 546.3 605.2 543.4 608.6 543.0 610.6 541.0 612.6 538.9M613.5 539.4 612.6 538.9M574.9 498.7 573.3 503.1M573.3 503.1 570.7 504.1 568.1 505.4 565.2 505.6 562.9 507.6M566.0 494.6 563.3 497.3 560.1 499.5M560.1 499.5 562.3 501.7 562.8 504.6 562.9 507.6M560.9 511.6 562.9 507.6M560.9 511.6 558.2 509.9 555.4 508.2 553.2 505.8 550.6 504.0M579.1 517.6 582.6 518.2 586.0 517.0 589.4 517.7M579.1 517.6 576.2 519.9 572.8 521.2M571.7 523.8 572.8 521.2M571.7 523.8 572.0 526.6 572.5 529.5 573.3 532.3 573.0 535.3M579.2 538.7 575.8 537.6 573.0 535.3M592.0 514.7 589.4 517.7M553.2 529.0 555.7 527.7 558.2 526.6 560.7 525.3 563.6 525.2 566.3 524.9 569.1 524.6 571.7 523.8M559.5 542.4 558.2 539.9 555.5 538.0 554.8 535.1 554.2 532.1 552.8 529.6M571.2 550.7 569.3 548.5 566.4 548.0 563.5 547.5 562.0 544.5 559.3 543.7M571.2 550.7 572.4 550.5M559.3 543.7 559.5 542.4M579.2 543.2 579.2 538.7M574.1 439.5 573.4 442.6 574.3 445.7M568.0 436.3 565.7 437.8 563.5 439.5 562.2 442.1 560.7 444.5 558.6 446.3M574.3 445.7 572.5 447.7 569.6 448.4 568.1 450.7 567.0 453.4 565.3 455.5 562.7 456.6M562.7 456.6 561.6 454.1 559.7 451.8 560.4 448.5 558.6 446.3M564.5 433.6 566.1 434.1M580.6 477.4 580.7 474.4 579.3 471.9 578.8 469.2 577.1 466.7 576.3 464.1M592.6 436.7 593.8 440.1 597.1 441.6M566.0 494.6 564.8 491.0M564.8 491.0 565.6 487.9 566.2 484.6 568.5 482.1M522.2 489.5 521.5 486.6 520.4 483.9 518.9 481.4 519.2 478.2 519.3 475.2 517.2 472.8 516.3 470.0M508.7 460.9 506.5 461.1M516.8 468.7 516.3 470.0M99.9 337.2 102.1 333.5M104.7 353.0 103.8 352.3M138.2 363.6 137.9 367.5 136.2 371.0M572.3 750.1 573.1 752.9 574.2 755.7M579.0 755.5 577.0 755.5 574.2 755.7M581.3 694.4 578.7 692.4 576.8 689.7 574.8 687.1 571.9 685.5M587.0 687.1 586.4 683.8 587.7 680.5 587.1 677.2M573.7 674.7 572.9 678.0 573.7 681.7 571.8 684.8M591.0 734.8 590.6 733.1 590.6 730.4M590.6 730.4 587.9 729.0 584.9 728.9 582.0 728.3 578.8 729.0 576.0 727.8M576.0 727.8 573.6 730.0M600.9 696.1 600.5 698.2M602.7 699.2 600.5 698.2M600.9 674.9 598.4 674.3M600.9 674.9 602.0 673.1M587.0 687.1 589.6 687.7 592.2 686.7 594.9 687.1M588.2 676.1 591.9 676.9 594.9 674.2 598.4 674.3M601.3 648.7 599.2 649.0M538.2 764.2 535.3 764.5 532.7 766.5 529.5 764.7 526.7 765.5 523.8 766.3M537.5 751.8 535.0 752.7 532.6 754.1 529.8 753.6 527.2 753.5M527.2 753.5 523.9 756.3M457.0 795.4 459.2 795.2 461.9 794.0 464.4 791.9 467.3 791.4 470.2 790.8M467.3 800.6 468.2 798.8 470.4 796.9 471.6 794.2M471.6 794.2 471.7 791.7M470.2 790.8 471.7 791.7M474.7 800.6 474.2 798.9 472.0 797.0 471.6 794.2M487.7 800.6 488.5 799.4M488.5 799.4 486.9 797.2 484.9 795.3 483.1 793.2 482.6 790.3M482.6 790.3 479.8 789.5M479.8 789.5 477.5 791.5 474.4 790.8 471.7 791.7M556.8 779.5 555.8 779.3M385.9 499.2 388.9 498.5 391.3 496.8 393.7 495.0M385.2 499.1 384.2 495.8 386.0 492.5 385.0 489.3M393.2 487.9 394.0 491.4 393.7 495.0M374.5 504.1 377.0 502.5 380.2 502.3 382.9 501.1 385.2 499.1M374.5 504.1 375.7 506.6 378.1 508.1 380.0 509.9 381.9 511.8 383.8 513.7 385.4 515.9 386.6 518.3M397.5 482.1 401.1 483.3 404.4 485.3M404.4 485.3 403.4 488.2 404.3 491.5 401.9 494.0 401.2 496.9 400.9 500.0M400.9 500.0 405.0 502.0M404.7 511.2 406.2 507.7M376.5 556.6 373.9 554.1 371.9 551.0M376.5 556.6 379.0 555.4 381.8 555.0 384.4 554.0 386.4 551.6 389.3 551.4M371.9 551.0 372.6 547.8 374.9 545.6M390.8 552.8 389.3 551.4M376.8 559.5 378.3 562.2 380.8 564.0M376.8 559.5 376.5 556.6M389.8 560.4 386.9 561.9 383.5 561.9 380.8 564.0M369.0 535.9 370.6 538.3 373.2 540.0 373.7 543.0 374.9 545.6M369.0 535.9 371.9 532.4M371.9 532.4 375.4 532.0 378.7 531.1 381.7 529.3M394.7 566.7 393.0 569.2 390.2 570.7 389.6 573.9M380.8 564.0 380.0 566.9 380.6 569.8 381.0 572.8M389.6 573.9 385.2 576.4M381.0 572.8 383.7 573.8 385.2 576.4M506.8 552.4 504.8 554.6M503.5 540.8 501.0 542.2 499.3 544.4 498.2 547.4 495.2 548.4M504.8 554.6 502.2 553.4 500.2 551.2 497.5 550.1 495.2 548.4M508.7 561.9 504.4 560.3M504.8 554.6 504.2 557.4 504.4 560.3M490.1 542.3 492.0 545.5 494.0 548.6M494.0 548.6 495.2 548.4M513.2 607.6 510.7 606.1M513.2 607.6 516.4 606.8 519.6 608.3 522.9 607.8M513.6 576.4 510.9 576.9 508.8 578.8 506.6 580.5 503.7 580.7M503.7 580.7 504.8 583.6 503.8 586.8 505.6 589.5M455.5 566.6 458.0 565.4 460.4 563.9 463.2 563.4M453.7 578.8 455.5 576.8 457.7 575.2 459.1 572.7 460.9 570.6 463.3 569.3 465.8 568.1M455.5 566.6 453.8 563.2 451.2 560.6M451.2 560.6 453.9 558.5 456.0 555.6M456.0 555.6 458.4 556.8 460.5 558.8 463.3 559.3M463.2 563.4 463.3 559.3M470.8 543.1 472.8 545.0M472.8 545.0 474.0 545.3M474.0 545.3 477.8 543.4M477.8 543.4 480.0 541.5 481.6 539.0 483.0 536.5 484.3 533.8 486.3 531.7M478.9 529.3 484.0 528.7M486.3 531.7 484.8 529.1M484.0 528.7 484.8 529.1M460.7 539.2 463.2 538.8M460.7 539.2 458.7 542.0 456.8 545.0 453.8 546.9M463.2 538.8 466.0 539.8 468.8 540.7 470.8 543.1M463.3 559.3 467.5 556.2M490.1 542.3 487.2 543.9 484.0 542.8 480.8 542.6 477.8 543.4M474.9 546.3 477.7 547.1 480.3 548.3 482.2 550.8 484.6 552.2 487.3 553.2 489.9 554.5M489.9 554.5 492.5 551.9 494.0 548.6M488.5 532.9 486.3 531.7M493.6 520.7 490.7 522.0 489.6 525.3 487.7 527.8 484.8 529.1M482.1 519.7 483.4 518.1M490.6 594.8 487.8 593.1 484.5 592.2M505.6 589.5 503.8 591.6 501.3 592.6 498.7 593.5 496.4 594.8 495.0 597.4 493.0 599.1M493.0 599.1 490.6 594.8M205.1 311.9 206.7 309.2 205.0 305.8 207.1 303.2M205.1 311.9 206.8 314.2 208.9 315.9 211.5 317.2 213.1 319.5M215.0 317.5 213.1 319.5M215.0 317.5 213.3 315.2 213.4 312.4 213.8 309.6 213.5 306.9 212.7 304.4 211.7 301.8M211.7 301.8 207.1 303.2M211.0 325.3 212.2 322.4 213.1 319.5M221.2 315.7 217.9 315.8 215.0 317.5M212.5 301.2 211.7 301.8M212.5 301.2 217.3 300.8M194.4 296.4 194.5 300.2M194.5 300.2 193.4 303.0 190.8 304.5M188.7 304.7 190.8 304.5M172.7 304.4 176.0 305.1 177.9 307.8 180.5 309.6M172.7 304.4 172.5 300.7 171.0 297.3M188.7 304.7 186.3 306.8 182.8 307.2 180.5 309.6M194.5 300.2 197.5 301.3 200.6 302.4 204.0 302.1 207.1 303.2M247.2 262.0 244.1 263.0 240.8 262.0 237.7 263.1 234.5 263.0M226.0 283.8 224.7 280.9 226.3 278.2 227.4 275.4 226.4 272.6M204.1 284.7 202.3 282.8 201.3 280.1 199.1 278.5M199.1 278.5 200.5 275.3 200.1 271.9M212.2 272.6 209.3 272.1 207.6 269.5 205.0 268.4M194.4 296.4 196.1 293.9 197.9 291.5 200.9 289.9 202.3 287.2 204.1 284.7M221.7 269.1 223.6 271.5 226.4 272.6M221.7 269.1 218.4 270.0 215.4 271.5 212.2 272.6M193.6 266.9 195.2 269.2 197.4 270.8 200.1 271.9M202.4 257.6 205.2 258.1 207.1 260.3M207.1 260.3 206.9 263.1 205.5 265.7 205.0 268.4M205.8 195.5 202.2 197.9M207.0 210.8 204.7 209.2 202.1 207.8 200.9 205.0M202.2 197.9 200.7 201.3 200.9 205.0M151.3 177.7 153.9 176.6 156.6 175.7 158.4 173.4 159.1 172.2M151.3 177.7 151.4 180.7 153.5 182.9M153.5 182.9 155.6 184.9M159.8 185.8 162.7 184.6 164.5 182.0 166.3 179.5 169.0 178.0M169.6 175.6 169.0 178.0M146.4 174.6 147.6 176.7 151.3 177.7M147.9 199.2 146.8 199.9M147.9 199.2 149.4 196.9 151.0 194.7 152.7 192.6 153.7 190.0 155.0 187.6 155.6 184.9M176.0 174.3 174.9 173.9 172.3 174.9 169.6 175.6M428.2 283.5 430.5 285.1 432.6 286.7 433.2 288.0M437.1 287.8 437.0 285.6 438.1 282.8 440.8 280.9 441.8 278.2M428.2 283.5 424.3 283.5 420.6 282.2M421.3 278.5 423.9 277.9 426.5 277.1 428.9 276.1 430.7 273.8 432.9 272.3 435.4 271.5M435.4 271.5 434.4 266.5M455.4 248.1 455.3 249.1M415.3 299.8 416.6 300.0M376.9 339.9 374.5 338.1 373.3 335.1 371.2 333.1M371.2 333.1 373.6 330.1 377.4 329.3M377.4 329.3 379.7 331.2 382.6 331.7 385.3 332.9M403.8 307.3 400.4 308.0 397.1 306.2 393.7 306.9M393.7 306.9 393.0 310.1 394.1 313.5 392.8 316.5 392.0 319.7M395.6 320.7 392.0 319.7M374.1 322.6 375.7 323.0M374.1 322.6 372.9 320.0 371.6 317.4 370.2 315.0 368.0 313.1 365.8 311.3M364.3 331.5 366.1 329.5 367.8 327.5 370.8 326.9 372.8 325.1 374.1 322.6M377.4 329.3 376.6 326.1 375.7 323.0M363.3 331.6 364.3 331.5M358.0 324.6 357.7 321.8 356.9 319.0 357.6 316.1 357.3 313.3M357.3 313.3 360.3 313.1 362.9 311.4 365.8 311.3M385.3 332.9 386.0 329.8 387.1 326.7 386.6 323.3 388.6 320.5M404.1 306.2 403.8 307.3M420.1 305.1 419.7 305.9M395.6 320.7 398.5 322.1 399.9 324.9M388.6 320.5 392.0 319.7M400.3 330.7 399.1 327.9 399.9 324.9M399.9 324.9 402.7 325.4 405.1 324.0 407.3 322.2 409.8 321.4 412.5 321.5M419.7 305.9 419.1 309.6 419.8 313.3M419.8 313.3 417.7 315.1 417.1 318.2 414.4 319.5 412.7 321.6M392.8 291.8 390.5 289.7 387.5 288.7 385.0 286.9 383.0 284.5M576.8 415.3 579.5 413.7 581.7 411.4 583.3 408.4 586.6 407.5M570.3 408.3 572.9 407.4 575.3 405.9 577.2 403.5 580.0 402.9 582.6 402.0M582.6 402.0 585.7 403.9 586.6 407.5M605.4 411.9 601.9 411.8M605.4 411.9 607.2 409.4 610.0 408.0M601.9 411.8 598.5 410.4 595.7 407.9M610.0 408.0 609.8 405.2 610.3 402.5 611.5 400.0 613.1 398.0M598.6 423.1 599.7 420.3 601.0 417.7 601.9 414.9 601.9 411.8M595.7 407.9 592.8 409.4 589.5 409.0M589.5 409.0 586.6 407.5M564.2 403.8 561.3 405.0 559.4 407.5 556.8 408.9M564.2 403.8 563.3 400.4 565.2 397.4M556.8 408.9 553.6 408.5 552.5 404.7 549.5 404.2 546.9 402.9M503.2 358.6 504.0 355.6 503.1 352.2 504.7 349.3M508.4 367.1 511.6 366.2 514.5 368.7 517.6 367.8M505.3 348.7 508.2 349.6 509.8 352.1 511.3 355.0 514.3 355.6 517.0 356.7 519.1 358.7M519.1 358.7 519.2 361.8 516.8 364.6 517.6 367.8M505.4 348.3 508.3 348.0 511.0 346.8 513.4 345.0 516.2 344.0 518.9 343.1 521.9 343.0M524.3 356.9 523.3 354.0 524.0 351.0 524.5 348.1 524.3 345.2M521.9 343.0 524.3 345.2M259.9 359.6 258.6 357.2 257.7 354.6 257.4 351.8 256.9 349.1M256.9 349.1 258.8 347.1 261.3 345.5 262.3 342.7 264.2 340.6M264.2 340.6 266.8 341.3 269.5 341.7M248.1 364.5 251.6 363.7 254.9 365.3M254.9 365.3 258.0 363.0 259.9 359.6M272.4 340.7 269.5 341.7M255.6 367.5 255.1 372.1M241.6 380.4 245.3 381.5 249.0 380.8M234.9 391.4 232.2 392.0 229.6 393.4 226.8 392.9 224.0 392.7 221.4 393.5M229.6 379.6 227.0 380.6 224.6 381.9 222.0 382.8M221.4 393.5 220.3 390.7 221.3 388.1 222.5 385.5 222.0 382.8M196.1 379.9 193.6 378.7M196.1 379.9 198.8 379.2 201.6 379.2 204.4 379.4 207.2 379.0 209.9 378.5M193.6 378.7 192.8 375.0 189.7 372.8M221.5 373.6 219.8 376.5 219.6 379.8M210.1 378.3 213.1 379.7 216.4 379.4 219.6 379.8M319.0 263.1 320.2 260.4 320.7 257.4 322.6 255.1 325.2 253.2 326.3 250.4 327.5 247.7M319.0 263.1 317.5 260.1 314.8 258.6 312.1 257.1M327.5 247.7 327.6 244.2 326.6 241.0M326.6 241.0 322.5 241.7M334.1 255.8 333.1 258.8 329.9 260.4 328.5 263.0 328.5 266.6 326.3 268.8 324.3 271.1M334.1 255.8 332.9 253.4 331.8 251.0 329.1 249.8 327.5 247.7M273.2 332.6 272.0 329.0 268.9 326.7M268.9 326.7 268.9 323.7 271.1 321.7M271.1 321.7 273.4 320.5M281.7 325.6 280.9 321.4M280.9 321.4 277.3 319.7 273.4 320.5M299.3 319.9 298.2 318.0M298.2 318.0 294.6 317.4 291.3 315.8M312.1 257.1 310.5 259.2 307.3 259.7 306.3 262.4 305.1 265.0 302.8 266.5 300.8 268.2M306.5 277.5 304.7 275.5 304.4 272.4 301.9 270.7 300.8 268.2M293.2 253.2 292.0 255.6 291.3 258.4 289.6 260.5 287.3 262.2M300.8 268.2 297.7 267.9 295.8 264.8 293.0 264.0 290.0 263.5 287.3 262.2M402.0 263.8 401.9 260.7 402.1 257.7M411.3 245.4 408.7 245.5M419.5 257.7 420.9 253.8M402.1 257.7 404.1 255.6 405.6 253.3 405.3 250.0 406.7 247.6 408.7 245.5M349.7 444.8 352.9 445.1M352.2 456.6 354.8 454.6 358.0 454.3M352.2 456.6 349.2 455.4 346.3 454.0M352.9 445.1 353.4 447.8 355.3 449.8 357.7 451.5 358.0 454.3M396.5 479.7 398.8 477.3 398.7 474.0 398.8 470.8 401.0 468.4M389.2 477.3 386.3 475.5 385.0 472.4M384.6 470.4 385.0 472.4M384.6 470.4 386.3 468.1 389.1 467.3 392.1 466.6 393.6 464.0M401.0 468.4 399.1 466.0 395.6 466.2 393.6 464.0M416.2 453.6 415.3 457.0 414.3 460.4 411.6 462.9M411.6 462.9 409.6 464.6M401.0 468.4 403.1 466.0 406.6 466.5 409.0 464.6M393.6 464.0 393.4 461.3 391.4 459.2 391.0 456.6M398.6 451.6 394.6 452.4M391.0 456.6 393.9 455.4 394.6 452.4M431.6 472.8 430.4 470.5 428.0 468.7 428.0 465.8M428.3 446.6 425.7 448.3 423.6 450.5 421.8 452.9M421.8 452.9 423.2 456.2 427.1 457.4 428.4 460.7M428.0 444.4 428.3 446.6M416.2 453.6 419.0 452.8 421.8 452.9M428.0 465.8 428.4 460.7M259.1 326.7 255.7 326.6 252.4 326.9M249.6 335.6 251.2 332.9 251.7 329.8 252.4 326.9M249.6 335.6 252.8 335.8 256.0 336.2 259.0 337.3 262.2 337.5M271.1 321.7 269.0 320.0 266.4 319.4 264.1 318.2 262.0 316.6M262.0 316.6 261.4 317.2M261.4 317.2 260.7 320.4 260.5 323.7 259.1 326.7M261.4 317.2 258.6 317.3 256.0 319.0 253.0 318.2 250.1 317.9 247.5 319.5M247.5 319.5 249.2 321.9 249.7 325.1 252.4 326.9M246.5 318.7 247.5 319.5M264.2 340.6 262.2 337.5M254.2 297.3 257.5 298.8 261.0 299.4M254.2 297.3 251.1 298.4 248.0 299.4 245.6 301.8M264.4 298.3 262.7 295.5 261.9 292.5 260.6 289.7 260.2 286.4M264.4 298.3 261.0 299.4M242.4 299.0 245.6 301.8M262.0 312.0 262.0 316.6M249.7 228.2 252.6 229.1 255.4 228.1 258.2 227.3 261.1 227.4 263.9 226.8 266.7 227.2M261.2 217.3 262.9 219.4 264.1 221.9 264.7 224.8 267.3 226.3M266.7 227.2 267.3 226.3M248.5 231.2 249.7 228.2M265.8 232.4 263.8 234.3 261.2 235.5 259.9 238.4 257.9 240.3 255.2 241.5M265.8 232.4 264.8 229.5 266.7 227.2M248.5 231.2 245.9 231.7 242.9 231.2 240.5 232.9 238.2 234.9 235.6 235.4 232.7 235.4M232.7 235.4 230.8 232.1M255.3 210.6 258.0 213.4 261.0 215.8M261.0 215.8 261.2 217.3M269.5 237.7 269.6 240.6 268.8 243.3 267.6 245.9M269.5 237.7 272.2 238.1 274.7 239.4 277.2 240.7 280.1 240.4M280.1 240.4 277.4 242.0 277.1 245.3M267.6 245.9 269.3 248.2M255.2 241.5 255.1 242.8M255.1 242.8 258.4 243.0 261.4 244.1 264.3 245.7 267.6 245.9M293.2 253.2 292.3 250.2M282.4 261.1 281.7 258.4 281.1 255.7 279.6 253.3 278.4 250.7 278.3 247.8 277.1 245.3M269.0 250.6 269.3 248.2M240.3 181.2 241.3 179.7M103.8 290.3 101.5 291.9 98.9 292.6 96.0 292.7 93.7 294.3M88.0 285.5 89.1 288.9 92.3 290.9 93.5 294.1M93.5 294.1 90.8 295.4 88.0 296.4 85.1 297.2 82.4 298.4 81.8 298.5M115.2 265.4 112.1 265.0 109.0 263.8 105.7 264.2M100.2 276.0 101.5 273.8 101.5 270.9 103.1 268.7 105.4 267.0 105.7 264.2M97.7 199.2 95.3 198.9 93.3 196.2 89.9 197.4 87.7 195.5M97.3 190.9 94.7 189.0 92.0 188.9 89.3 188.3 86.5 188.9M87.7 195.5 87.3 192.7 85.9 190.3M85.9 190.3 86.5 188.9M86.4 187.3 86.5 188.9M172.3 340.8 171.8 337.2 171.8 333.6M159.7 333.3 162.1 330.7M171.8 333.6 168.2 333.8 165.5 331.3 162.1 330.7M149.3 330.6 150.1 327.7 148.4 325.1M148.4 325.1 144.4 322.6M144.4 322.6 142.8 322.9M142.8 322.9 141.3 325.1 139.1 326.6 136.4 327.6 135.5 330.4M124.8 335.3 126.3 332.7 128.3 330.7 131.1 329.5M131.1 329.5 135.5 330.4M172.7 304.4 171.8 307.4 168.8 308.9 167.4 311.5M130.7 302.2 133.7 302.7 135.6 305.2 138.4 305.9M126.7 304.3 124.5 305.9 122.8 307.9 121.9 310.5M138.4 305.9 140.2 308.5M122.0 313.5 121.9 310.5M131.2 299.4 130.7 302.2M117.0 292.8 119.4 294.7 120.8 297.5 122.1 300.3 125.0 301.8 126.7 304.3M116.0 307.1 119.1 308.6 121.9 310.5M145.3 310.6 142.7 309.6 140.2 308.5M144.4 322.6 145.1 319.7 144.8 316.6 144.7 313.5 145.3 310.6M108.7 318.1 111.4 317.4 113.6 315.0 116.5 314.7 119.5 314.7 122.0 313.5M342.2 349.8 339.6 347.7 337.0 345.8 333.9 344.4M342.2 349.8 341.3 353.2 341.5 356.6 341.2 360.0M326.3 360.4 328.5 361.1M333.9 344.4 333.4 343.7M255.6 367.5 257.5 369.7 259.7 371.3 262.0 372.8 264.8 373.3 267.1 374.8 269.8 375.5 271.8 377.6M273.5 361.7 273.6 364.4 273.4 367.2 275.3 369.5 276.2 372.1M276.2 372.1 273.9 374.7 271.8 377.6M266.4 381.2 262.8 380.4 259.1 380.9M266.4 381.2 269.4 379.8 271.8 377.7M255.1 372.1 256.4 375.0 256.7 378.4 259.1 380.9M281.6 391.6 284.6 392.8 287.6 394.1M303.6 387.7 305.0 389.9 307.1 391.7 308.5 394.0 308.4 396.9 309.7 399.2M303.6 387.7 305.5 385.5 308.7 385.4 311.0 383.9 313.2 382.3M316.9 384.1 316.6 387.1 317.4 390.3 317.0 393.3 315.9 396.2 315.6 399.2M316.9 384.1 313.2 382.3M295.1 396.4 297.4 398.3 298.6 401.4 302.4 401.6 304.1 404.2M304.1 404.2 307.1 401.9 309.7 399.2M299.2 385.0 299.7 382.3 300.3 379.6 302.0 377.3 302.3 374.5M324.3 383.5 325.8 386.0 325.1 388.8 325.5 391.4 325.3 394.1 326.3 396.7 326.9 399.3M324.3 383.5 320.6 384.4 316.9 384.1M321.4 402.7 318.4 401.1 315.6 399.2M321.4 402.7 324.0 402.9M531.4 683.8 534.5 681.7 538.3 681.0M527.3 682.3 528.9 679.3 528.6 676.0 528.2 672.7 529.1 669.6M538.3 681.0 538.3 677.9 540.7 676.1M540.7 676.1 539.1 672.7 537.8 669.2M537.8 669.2 534.9 668.4 532.1 670.1 529.1 669.6M549.6 676.5 552.2 678.4 554.5 680.6M565.0 667.7 562.3 669.4 561.3 672.3 560.7 675.4 558.2 677.2 556.3 679.5M565.0 667.7 562.3 667.0 560.8 664.4 558.1 663.8 555.8 662.5M571.8 684.8 568.9 684.7 566.1 684.4 563.6 683.4 561.2 682.0 559.1 679.9 556.3 679.5M558.8 694.4 561.1 693.0 562.6 690.6 564.7 688.9 567.4 688.3 570.1 687.6 571.9 685.5M558.8 694.4 556.0 693.3 555.7 689.8 553.1 688.4M553.1 688.4 553.4 685.7 554.1 683.2 554.5 680.6M346.3 454.0 345.8 456.9 344.2 459.6 343.2 462.4 343.2 465.5 343.3 468.6 341.9 471.4M322.2 467.0 323.1 464.4 325.3 462.5 325.8 459.7M322.2 467.0 324.0 469.7 322.6 472.9 323.5 475.7M340.9 471.1 337.8 471.0 335.0 472.2 332.3 473.6 329.5 474.8 326.5 475.3 323.5 475.7M340.9 471.1 339.2 468.6 339.2 465.3 336.5 463.2 335.7 460.3M325.8 459.7 329.2 459.5 332.4 460.1 335.7 460.3M343.3 449.6 340.3 450.4 337.7 452.0M340.9 471.1 341.9 471.4M337.7 452.0 336.9 454.7 337.6 457.8 335.7 460.3M315.4 410.4 318.5 408.7 319.4 405.3 321.4 402.7M304.1 404.2 303.0 408.5M305.7 411.1 303.0 408.5M303.0 408.5 299.3 408.8 296.8 411.5 293.6 412.7M365.0 499.9 368.4 500.8 370.9 503.4M376.8 485.9 375.6 483.3 373.3 481.6M374.5 504.1 371.6 503.2M380.1 486.0 376.8 485.9M385.0 472.4 382.5 474.0 380.3 476.1 378.5 478.6 375.5 479.6 373.3 481.6M527.5 511.5 531.1 508.7M550.6 504.0 548.9 506.4 546.2 507.4 543.9 508.9M543.9 508.9 543.2 511.8M552.8 529.6 552.0 529.7M543.2 511.8 541.8 512.7M541.8 512.7 542.1 515.5 541.8 518.2 540.1 520.9 540.5 523.6 540.8 526.4M552.0 529.7 549.0 529.3 546.1 529.0 543.7 526.8 540.8 526.4M465.0 531.4 464.2 528.8 462.7 526.2 462.9 523.4 463.1 520.6M474.6 520.2 475.2 523.2 474.9 526.2M463.2 538.8 464.7 535.2 465.0 531.4M446.9 522.6 449.7 523.1 452.4 522.7 455.0 521.7 457.6 520.7 460.3 520.2 463.1 520.6M478.9 529.3 474.9 526.2M482.1 519.7 478.3 519.0 474.6 520.2M443.5 528.4 441.2 530.6 441.0 533.7 440.1 536.4M453.8 546.9 449.9 546.5 446.2 547.5M446.2 547.5 445.5 544.3 442.7 542.2 440.8 539.6 440.1 536.4M425.5 530.0 424.7 531.9M425.5 530.0 428.7 527.7 431.8 525.4M424.7 531.9 427.5 533.2 428.7 536.2 430.8 538.3 433.4 539.9M443.5 528.4 440.7 527.4 437.9 526.2 434.9 525.6 431.8 525.4M403.3 554.5 406.4 553.7 409.8 553.6 412.6 551.9 415.3 549.9M411.3 567.0 415.8 565.5M415.3 549.9 416.1 553.0 415.0 556.2 415.1 559.3 415.0 562.4 415.8 565.5M446.2 547.5 444.8 548.9M432.0 543.3 433.4 539.9M432.0 543.3 433.2 545.7 433.7 548.4M444.8 548.9 442.1 547.8 439.3 548.3 436.4 549.5 433.7 548.4M417.2 545.1 420.1 544.3 423.2 544.9 426.2 545.1 429.1 544.5 432.0 543.3M417.2 545.1 416.9 548.0M426.6 555.3 424.8 552.6 422.4 550.8 419.2 550.0 416.9 548.0M426.6 555.3 425.8 558.1 423.9 560.5 423.3 563.4 423.4 566.5M416.9 548.0 415.3 549.9M423.5 532.6 420.7 531.6 418.3 529.8 415.4 529.3M415.4 529.3 413.9 531.7 412.6 534.3 410.2 535.9 407.8 537.4M416.8 544.0 414.8 542.0 412.7 540.1 410.2 538.8 407.8 537.4M424.7 531.9 423.5 532.6M417.2 545.1 416.8 544.0M425.5 530.0 423.6 527.8 422.0 525.3 421.0 522.4 419.1 520.2 417.3 517.9M417.3 517.9 414.4 518.2 412.6 520.6M412.6 520.6 413.7 523.4 414.5 526.4 415.4 529.3M410.4 499.2 412.9 501.2 415.7 502.6M410.4 499.2 411.8 496.5 411.6 493.2 412.9 490.5 415.3 488.1 415.7 485.1M415.7 502.6 418.9 501.6 421.8 499.6M421.8 499.6 421.0 496.8 421.6 493.7 420.8 490.9 420.4 488.0 418.8 485.4M416.1 509.8 412.9 508.5 409.3 509.3 406.2 507.7M416.1 509.8 416.9 506.2 415.7 502.6M405.0 502.0 408.1 501.5 410.4 499.2M404.4 485.3 407.2 484.6 410.0 486.7 412.8 485.1 415.7 485.1M430.6 491.6 427.7 491.3 425.8 489.3 423.6 487.7 421.5 485.9 418.8 485.4M431.6 472.8 433.6 470.9 436.7 470.7 439.3 469.7 440.9 467.2M440.9 467.2 443.7 464.3 444.2 460.3M454.6 450.2 453.5 453.5 450.4 455.1 447.5 456.9 446.3 460.0M446.3 460.0 444.4 460.1M440.7 502.3 443.4 502.4 445.9 504.1 448.6 504.1 451.3 504.3 454.0 504.8M447.1 515.4 449.7 513.7 451.9 511.8 452.4 508.2 455.1 506.6M455.1 506.6 454.0 504.8M446.9 522.6 446.4 519.5M447.1 515.4 446.4 519.5M455.1 506.6 458.1 507.1 461.2 507.1 464.1 508.4 467.2 508.8M480.9 507.1 478.0 506.5 475.2 505.6 472.2 507.0 469.4 506.4M467.2 508.8 469.4 506.4M481.2 341.8 481.7 344.9 483.6 347.6 484.2 350.8M456.0 359.8 456.6 357.2 457.1 354.6 458.5 352.2 459.5 349.8 459.5 347.0 459.3 344.3 459.4 341.6 460.8 339.2M466.4 340.1 463.7 338.8 460.8 339.2M487.3 329.3 486.6 332.0 484.1 333.9 482.9 336.4 482.5 339.3 481.2 341.8M504.7 349.3 501.8 349.1 498.8 349.5 495.9 349.5 492.9 349.3 489.9 349.1 487.1 350.4 484.2 350.8M501.6 331.0 502.5 333.8 501.8 337.0 503.2 339.7 504.1 342.6 505.4 345.3 505.4 348.3M459.2 326.0 458.9 329.3 458.5 332.6 456.6 335.4M447.6 328.5 447.9 328.9 448.6 331.7M448.6 331.7 451.5 331.8 453.1 334.5 455.5 335.5M466.4 340.1 468.0 337.6 470.2 335.5 470.4 332.1 471.9 329.6 474.7 327.8 475.3 324.9M460.8 339.2 458.9 337.1 456.6 335.4M444.3 344.6 446.6 343.0 449.0 341.3 451.2 339.4 452.7 336.7 455.5 335.5M387.4 341.2 390.5 340.7 393.6 342.2 396.7 341.3 399.8 341.0M402.0 350.6 401.5 347.3 400.1 344.3 399.8 341.0M386.1 374.0 388.3 376.1M388.3 376.1 391.0 374.6 393.5 372.7 396.7 372.3M395.2 429.3 397.8 430.6 400.2 432.2 403.3 432.7 405.6 434.6M391.5 439.4 394.6 438.9 397.4 440.0 400.2 441.0M400.2 441.0 403.0 440.2 405.0 438.3 406.9 436.4M405.6 434.6 406.9 436.4M381.0 427.7 383.6 428.1 386.3 428.4 389.0 428.4 391.7 427.7 394.4 427.7M394.4 427.7 395.2 429.3M390.1 440.1 387.8 438.4 385.5 436.7 383.5 434.7 382.3 432.0 381.0 429.4M390.1 440.1 391.5 439.4M396.6 421.8 395.6 424.8 394.4 427.7M398.6 451.6 398.9 448.9 399.6 446.3 399.0 443.5 400.2 441.0M358.3 433.7 359.5 431.2 360.6 428.7 362.6 426.8 363.9 424.5M358.3 433.7 360.7 436.6 362.8 439.8M365.9 441.0 362.8 439.8M363.9 424.5 367.2 426.0 370.8 426.6M386.1 374.0 383.3 375.1 380.5 374.3 377.7 374.2M383.5 361.0 381.0 362.1 378.2 361.5 375.6 362.3 373.0 363.2 370.2 363.1M377.7 374.2 374.9 373.5 372.9 371.6M372.9 371.6 371.2 369.0 372.1 365.6 370.2 363.1M375.9 351.0 374.6 353.2 374.4 356.1 372.8 358.3 371.4 360.5 369.5 362.5M370.2 363.1 369.5 362.5M371.9 345.0 368.6 344.9M368.6 344.9 367.0 347.1 366.1 349.9 364.2 351.9 361.6 353.3 360.2 355.7M362.5 335.1 359.8 336.0 356.9 336.2 354.1 336.6 351.6 338.2 349.1 339.5M349.1 339.5 350.1 342.5 349.5 345.8 351.5 348.5M351.5 348.5 354.4 350.5M363.3 331.6 362.5 335.1M343.2 333.7 345.5 331.9 347.9 330.2 350.3 328.6 353.4 328.2 355.6 326.2 358.0 324.6M343.2 333.7 344.6 336.2 347.5 337.2 349.1 339.5M357.4 355.2 360.2 355.7M357.4 355.2 355.9 352.8 354.4 350.5M334.5 338.6 337.2 337.6 338.9 335.2 341.2 333.7M343.2 333.7 342.1 333.5M341.2 333.7 342.1 333.5M354.6 358.2 351.7 357.3 349.1 358.5 346.6 359.8 343.9 360.0 341.2 360.0M354.6 358.2 357.4 355.2M615.8 429.8 617.7 427.4 618.3 424.5 618.6 421.5M616.1 418.5 618.6 421.5M622.0 434.5 619.2 431.8 615.8 429.8M631.7 418.6 629.0 418.8 626.5 419.7 624.0 420.9 621.2 420.9 618.6 421.5M610.0 408.0 612.8 408.8 615.4 410.6 618.3 411.1M618.3 411.1 616.9 413.3 615.7 415.7 616.1 418.5M629.7 411.9 627.6 409.5 624.4 409.1M618.3 411.1 621.2 409.5 624.4 409.1M652.3 486.0 649.2 485.7 646.8 483.2 643.7 483.0 640.6 482.7M653.5 488.8 651.3 490.8 650.1 493.7 648.4 496.2 646.0 498.0 643.6 499.8M643.6 499.8 643.2 496.8 642.0 494.1 639.9 491.7 639.9 488.6 639.2 485.8M639.2 485.8 640.6 482.7M656.9 477.6 656.5 481.0 654.2 483.4 652.3 486.0M662.1 493.4 659.5 491.5 656.8 489.6 653.5 488.8M643.2 503.2 643.6 499.8M627.7 490.0 630.3 488.2 633.3 487.5 636.5 487.3 639.2 485.8M556.8 415.2 559.1 418.1M558.9 419.7 559.1 418.1M558.9 419.7 556.7 421.6 554.5 423.6 553.3 426.2 552.3 429.0 551.4 431.8 549.0 433.6M549.0 433.6 547.4 430.7M556.8 408.9 557.5 412.0 556.8 415.2M564.2 403.8 567.0 406.4 570.3 408.3M564.5 433.6 563.6 430.7 562.5 427.9 560.4 425.5 560.0 422.5 558.9 419.7M535.2 423.7 534.9 422.0M535.2 423.7 537.8 424.9 540.7 425.4 542.7 427.6 545.0 429.4 547.4 430.7M523.2 429.0 522.1 426.0 521.8 422.8 522.1 419.6M523.2 429.0 521.5 431.1 519.2 432.6 518.5 435.4 517.1 437.6M511.2 429.1 513.0 433.6M511.2 429.1 510.2 425.8 512.8 423.0 512.6 419.8M512.6 419.8 515.6 417.5 519.2 416.4M517.1 437.6 515.6 435.1 513.0 433.6M534.9 422.0 532.2 422.3 529.8 420.8 527.4 419.5 524.5 420.7 522.1 419.6M498.5 414.8 501.3 415.8 503.7 418.1 506.8 418.2 509.8 418.8 512.6 419.8M510.3 398.8 508.2 400.9 505.8 402.7 503.2 404.1 500.3 404.9M519.7 414.3 519.2 416.4M532.2 406.0 530.0 408.1 527.8 410.1 524.2 410.2 521.8 412.0 519.7 414.3M571.7 575.6 571.2 572.7 573.0 570.4 574.7 568.1 574.6 565.2 575.1 562.6M571.7 575.6 567.7 574.2M575.1 562.6 571.4 562.4 568.7 559.9M568.7 559.9 565.8 560.9 562.7 561.3M573.1 577.2 571.7 575.6M560.1 590.3 557.9 589.7M554.7 571.4 557.2 572.4 559.7 573.0 562.6 571.8 565.1 572.7 567.5 574.0M559.7 560.2 562.7 561.3M571.2 550.7 569.7 553.6 568.6 556.6 568.7 559.9M571.3 654.0 574.8 652.0M600.8 633.2 599.5 634.4M599.2 649.0 597.0 645.1M599.5 634.4 599.9 637.3 598.3 639.7 596.7 642.2 597.0 645.1M575.8 645.4 574.7 648.6 574.8 652.0M575.8 645.4 579.0 645.6 581.9 644.7 584.6 642.9 587.7 642.6 590.7 642.0M597.0 645.1 593.8 643.6 590.7 642.0M555.8 662.5 555.3 659.3 557.2 656.3 556.9 653.0M571.3 654.0 568.8 652.3 565.6 652.7 562.8 651.8 560.4 650.0M556.9 653.0 560.4 650.0M580.5 613.6 581.5 616.1 580.1 618.9 581.1 621.4M581.1 621.4 583.2 624.0 586.0 625.7 588.9 627.2M590.7 642.0 587.9 639.7 587.2 636.3 585.9 633.3M588.9 627.2 586.7 629.9 585.9 633.3M611.7 525.2 612.0 528.2 611.2 531.1 610.5 534.0 611.2 537.0M624.4 527.5 621.2 526.6 618.2 525.4 614.7 526.4 611.7 525.2M612.6 538.9 611.2 537.0M556.8 480.4 554.0 483.7M556.8 480.4 559.5 482.0 562.7 480.6 565.6 481.5 568.5 482.1M622.7 604.5 623.9 601.9 624.8 599.2 626.4 596.9 628.7 595.1 630.3 592.8M622.7 604.5 623.3 605.6M630.3 592.8 632.1 594.9 634.1 596.9 635.3 599.3 635.4 599.8M622.0 606.9 623.3 605.6M624.8 587.4 626.7 591.0 630.3 592.8M609.7 595.9 611.8 597.4 614.4 598.2 617.1 598.9 618.9 600.9 620.4 603.3 622.7 604.5M637.5 589.8 635.9 590.1 633.6 592.5 630.3 592.8M79.1 317.4 81.4 318.2 84.2 319.3 87.5 318.6 90.3 319.7 92.9 321.4 95.9 321.7M95.9 324.2 94.0 325.9 92.1 327.8 89.4 328.4 87.1 329.6M87.1 329.6 83.6 328.3 80.0 328.8M77.8 325.8 80.0 328.8M99.9 337.2 98.0 338.0M136.2 371.0 138.1 374.4 141.2 376.7M83.6 375.5 86.1 373.8 89.0 373.6 92.2 374.4 94.6 372.3 97.3 371.3M83.6 375.5 82.3 379.0M82.3 379.0 84.4 381.1 84.5 383.9 85.2 386.4M98.0 383.7 96.8 380.7 97.4 377.6 97.5 374.4 97.3 371.3M134.1 384.1 137.0 382.1 138.5 378.8 141.2 376.7M134.0 384.1 131.3 381.1M66.1 373.2 68.1 374.5 70.0 377.4 72.3 379.9M82.3 379.0 79.1 380.6 75.6 379.3 72.3 379.9M581.3 694.4 581.8 699.5M559.6 699.4 562.8 700.5 566.2 700.9 569.2 702.5M460.7 780.1 459.7 777.2 461.1 774.5 461.6 771.6 461.8 768.8 461.5 765.9M458.1 766.2 461.5 765.9M470.2 777.9 468.8 780.6 466.3 782.4M466.3 782.4 463.3 781.8 460.7 780.1M466.3 782.4 468.7 784.7 469.2 787.9 470.2 790.8M511.9 770.8 510.1 773.2 508.5 775.8 507.8 779.0 505.7 781.3 503.7 783.6M511.9 770.8 510.3 768.4 507.7 767.1 506.2 764.7M503.7 783.6 501.1 781.7 497.6 783.4 495.0 781.3M493.0 800.6 494.4 799.1 497.7 799.0 499.2 796.3M499.2 796.3 498.3 793.8 497.5 791.3 496.5 788.8 495.4 786.5 493.4 784.5 492.7 781.9M482.6 790.3 484.5 787.6 486.8 785.3 489.7 783.7 492.4 781.9M488.8 775.6 487.9 775.2M487.9 775.2 485.0 776.8 482.0 778.3 478.7 779.1M470.2 777.9 474.0 777.5 477.8 778.1M477.8 778.1 478.7 779.1M461.6 754.0 458.6 754.2 455.6 753.6 452.6 753.9 449.7 754.3M449.7 754.3 448.1 757.0M458.1 766.2 455.8 765.4M499.2 796.3 501.0 796.0M495.0 781.3 492.7 781.9M501.0 796.0 501.9 793.2 504.7 791.9 506.1 789.6M554.3 772.2 555.4 775.7 555.8 779.3M554.3 772.2 552.1 770.6 549.3 770.5 546.4 770.7 544.3 768.8 542.3 766.7 541.0 766.5M538.2 764.2 538.9 765.6M523.8 766.3 521.8 769.1 520.4 770.2M520.3 770.3 519.0 771.2M519.0 771.2 519.4 771.9M558.4 765.1 556.0 766.9 556.2 770.1 554.3 772.2M558.4 765.1 557.3 762.3 555.8 759.5 556.3 756.2 555.2 753.4 553.7 750.7M550.8 748.5 553.7 750.7M374.8 597.0 378.8 597.1 381.7 600.0M374.8 597.0 376.2 594.4 375.4 591.4 376.4 588.8M381.7 600.0 383.5 597.8 385.5 595.8 386.9 593.3M386.9 593.3 384.8 591.3 384.7 588.5 383.8 586.0M383.8 586.0 380.6 586.3 377.7 587.6M376.4 588.8 377.7 587.6M369.4 578.6 371.8 580.6 372.8 583.8 376.6 584.5 377.7 587.6M385.2 576.4 384.7 579.7 385.3 583.1M385.3 583.1 383.8 586.0M366.5 551.6 364.4 554.7 361.4 556.8M361.4 556.8 361.5 561.8M382.6 608.1 383.2 605.3 381.5 602.7 381.7 600.0M504.4 560.3 500.9 561.7 498.2 564.4M497.7 566.0 498.2 564.4M498.5 622.7 496.7 620.6 495.9 618.0 494.8 615.6 494.2 612.9 494.2 610.0 492.2 607.9 491.0 605.5M498.5 622.7 500.2 620.7 501.6 618.4 502.5 615.8 503.4 613.2 505.5 611.3 507.7 609.6 508.5 606.9M508.5 606.9 505.9 606.0 503.4 605.0 500.8 603.9 498.0 604.3 495.2 604.8 492.6 604.0M491.0 605.5 492.6 604.0M510.7 606.1 508.5 606.9M493.0 599.1 492.6 604.0M479.3 605.4 480.1 602.1 478.4 599.3 477.6 596.4M479.3 605.4 482.5 608.0M477.6 596.4 480.2 595.5 481.9 593.1 484.5 592.2M482.7 608.1 485.1 606.0 488.5 607.2 491.0 605.5M477.6 596.4 475.8 594.5 473.4 593.2 471.8 591.1 469.8 589.4M468.2 586.4 469.8 589.4M453.7 578.8 456.4 580.6 458.4 583.3 461.3 584.9 464.2 586.4M468.2 586.4 464.2 586.4M455.3 605.1 454.6 607.7 455.6 610.5 454.6 613.0 454.3 615.6 452.5 617.9 452.4 620.6 451.4 623.0 451.3 625.7M453.1 626.1 451.3 625.7M466.4 633.1 468.9 631.7 470.5 628.9 473.6 628.6 476.2 627.4M471.0 620.7 472.0 623.5 474.4 625.2 476.2 627.4M482.5 608.0 480.4 610.0 478.2 611.8 476.2 613.8 475.2 616.8 473.7 619.3 471.0 620.7M452.5 602.5 455.3 605.1M479.3 632.3 476.9 627.7M485.5 620.5 488.1 621.3 490.7 622.2 492.9 623.9 495.6 624.3 498.2 625.1M482.7 608.1 483.8 611.1 483.6 614.4 484.0 617.6 485.5 620.5M498.5 622.7 498.2 625.1M513.2 607.6 512.7 610.3 514.4 613.0 514.6 615.7 514.2 618.4 513.8 621.1M504.7 629.7 507.9 628.5 509.6 625.7 511.1 622.7 513.8 621.1M233.1 257.8 230.7 254.7 226.9 253.3M233.1 257.8 235.1 256.2 236.2 253.4 239.0 252.6 241.3 251.2M226.9 253.3 228.3 250.6 228.4 247.3 228.7 244.1 231.7 242.0 232.3 238.9M240.7 246.0 240.4 248.7 241.3 251.2M234.5 263.0 234.6 260.2 233.1 257.8M255.0 242.9 252.3 244.2 249.4 244.4 246.3 244.1 243.6 245.4 240.7 246.0M232.7 235.4 232.6 238.5M213.1 239.7 215.1 241.7 215.6 244.6M215.6 244.6 218.1 242.8 221.0 242.2 223.9 241.7 226.9 241.4 229.5 239.9 232.3 238.9M218.5 260.9 219.7 257.4 222.3 254.9M222.3 254.9 221.0 252.3 219.8 249.6 217.5 247.8 215.3 245.9M221.7 269.1 221.7 265.9 219.5 263.6 218.5 260.9M226.9 253.3 222.3 254.9M215.6 244.6 215.3 245.9M199.1 249.9 202.1 246.6M203.1 237.7 202.4 240.6 203.8 243.8 202.1 246.6M159.8 185.8 161.4 188.7 163.7 191.3 164.4 194.7M169.0 178.0 171.1 179.9 171.3 182.9 172.4 185.4 174.7 187.1 176.2 189.4M176.2 189.4 173.8 191.9 170.7 192.9 167.4 193.5 164.4 194.7M162.3 198.2 164.3 195.5M186.6 199.0 188.2 199.6M188.2 199.6 190.5 197.5 193.7 197.2 196.2 195.4M182.3 189.2 185.7 188.4 189.2 188.4 192.5 187.3M192.5 187.3 194.4 189.7 195.0 192.7 196.2 195.4M202.2 197.9 198.9 197.3 196.2 195.4M200.9 205.0 198.8 206.6 196.1 207.4 194.0 209.0M183.9 179.7 184.0 180.8 183.4 183.6 181.7 186.3 182.3 189.2M176.2 189.4 178.7 190.2M174.1 258.0 171.4 259.5 169.4 262.0 167.0 263.9M167.0 263.9 164.4 263.1 161.7 264.4 159.0 264.8 156.4 263.6M156.4 263.6 154.2 259.0M165.1 270.5 166.5 267.3 167.0 263.9M176.9 261.8 174.1 258.0M150.3 257.8 154.2 259.0M145.5 249.1 147.6 246.4M169.2 212.0 171.9 211.2 174.7 210.4 177.6 210.2 180.3 208.9M169.2 212.0 169.3 209.1 171.2 206.7 172.5 204.0 172.5 201.1M172.5 201.1 175.7 200.2M180.4 204.2 180.3 208.9M178.7 190.2 178.0 192.7 177.0 195.1 176.3 197.7 175.7 200.2M164.3 195.5 167.6 196.5 169.7 199.3 172.5 201.1M186.6 199.0 184.3 200.4 181.9 201.8 180.4 204.2M194.0 209.0 195.4 211.5 195.7 214.7 197.1 217.3 199.2 219.5 200.8 222.0M204.9 223.3 201.3 222.3M162.3 198.2 163.3 200.8 162.9 203.4 162.6 206.1 162.7 208.7M146.5 201.7 147.5 205.0 150.9 206.2 152.4 209.0M152.4 209.0 155.9 210.2 159.3 208.2 162.7 208.7M168.2 212.8 169.2 212.0M162.7 208.7 165.2 210.3 166.8 212.8M487.3 329.3 485.9 326.2 483.9 324.8M501.1 330.5 501.9 326.3M501.9 326.3 501.2 323.8M372.1 293.8 371.8 296.9 372.3 300.1 371.7 303.3 371.4 306.4M371.4 306.4 374.1 305.0 376.9 304.0 380.0 304.0 383.0 303.8 386.0 303.8 388.7 302.2M389.9 297.2 389.5 301.6M389.5 301.6 388.7 302.2M393.2 292.6 391.7 295.1 389.9 297.2M345.8 290.4 347.4 287.7 347.1 284.4 348.3 281.6M345.8 290.4 343.4 292.5 341.1 294.6 337.9 295.5 335.3 297.2M348.3 281.6 345.6 281.8 342.9 283.0 340.1 282.3 337.2 280.7 334.5 281.8 331.8 282.9 329.0 282.7M329.0 282.7 328.9 286.6 328.7 290.4M328.7 290.4 329.8 293.7 332.7 295.7M362.9 288.8 362.0 291.3 362.1 294.2 360.9 296.7 359.5 299.0 358.1 301.4 357.0 303.9 355.6 306.2 355.3 309.0 354.7 311.6M361.2 287.9 360.0 287.9M360.0 287.9 356.5 289.2 353.9 291.9M353.9 291.9 353.1 294.4 351.6 296.7 350.5 299.1 350.2 301.8 350.0 304.6 349.2 307.1 347.2 309.2M357.3 313.3 354.7 311.6M367.5 289.5 362.9 288.8M361.0 276.8 360.1 279.6 360.1 282.3 361.2 285.1 361.2 287.9M361.0 276.8 359.4 274.4 357.3 272.8 354.6 271.9 352.0 270.8 350.3 268.7M350.3 268.7 351.0 271.8 349.6 274.8 349.0 277.8 349.4 280.9M349.4 280.9 352.2 282.3 355.0 284.0 357.4 286.1 360.0 287.9M346.1 309.1 347.2 309.2M345.0 308.8 343.0 306.6 340.6 304.6 339.4 301.7 337.4 299.4 335.3 297.2M342.1 333.5 341.8 330.7 342.8 328.1 342.4 325.2 343.7 322.6 344.6 320.0 345.5 317.4 346.0 314.7 345.5 311.8 346.1 309.1M448.6 281.1 452.9 281.5M454.6 284.0 452.9 281.5M441.8 278.2 443.8 278.3M443.8 278.3 446.5 279.3 448.6 281.1M435.8 263.9 438.6 262.6 441.6 263.9 444.5 264.1 447.4 263.5M447.9 254.4 447.4 257.4 446.3 260.4 447.4 263.5M443.8 278.3 444.2 275.4 446.6 273.3 447.3 270.5 448.3 267.9 448.8 265.0M434.4 266.5 435.8 263.9M448.8 265.0 447.4 263.5M455.3 249.1 452.8 250.9 450.0 252.1 447.9 254.4M437.6 319.3 437.0 319.1 435.2 316.9M434.3 316.3 431.4 315.8M431.4 315.8 429.0 316.9 427.0 318.6M437.8 333.5 440.6 333.5 443.1 331.8 445.9 332.2 448.6 331.7M419.8 313.3 422.1 315.3 425.1 316.2 427.0 318.6M402.1 257.7 400.1 255.9 397.6 254.5 396.2 252.2 395.5 249.0 393.0 247.7M408.7 245.5 405.8 244.5 404.1 242.2 402.6 239.6 400.0 238.4M377.5 268.6 376.1 266.2 376.3 263.2 374.7 260.9M377.5 268.6 375.3 270.5 373.2 272.5 370.1 273.1M368.1 272.2 370.1 273.1M361.0 276.8 362.9 274.5 365.8 273.8 368.1 272.2M375.3 259.4 374.3 256.9 373.8 254.2 372.9 251.7 372.1 249.2 370.3 247.0M370.3 247.0 373.0 245.8M373.0 245.8 375.3 247.7 378.5 248.0 381.4 248.6 383.9 250.3 386.2 252.1M386.2 252.1 386.0 256.4M393.9 268.8 391.6 266.8 390.6 263.9 389.6 261.1 387.5 258.9 386.0 256.4M374.7 260.9 375.3 259.4M389.0 248.9 386.2 252.1M389.0 248.9 393.0 247.7M421.1 227.7 418.4 226.4 416.8 223.7 413.6 223.0 411.6 220.7M419.6 232.7 417.0 231.6 414.1 232.0 411.4 231.4 408.5 231.2 406.0 229.9 403.4 228.9M403.4 228.9 405.1 224.4M411.6 220.7 408.4 222.6 405.1 224.4M624.4 409.1 622.7 406.8 622.1 404.1 622.5 401.1 621.7 400.0M535.3 388.7 533.2 390.2 532.1 392.9 530.0 394.5 527.5 395.6M527.5 395.6 524.7 395.1 522.0 394.3 519.4 393.0 516.8 391.9 513.9 391.7M520.5 378.1 517.8 380.0 516.5 382.9 515.2 385.8 512.9 388.0M512.9 388.0 513.9 391.7M532.2 406.0 530.9 403.5 530.4 400.6 529.2 398.0 527.5 395.6M546.3 403.0 544.8 400.8 543.6 398.4 543.4 395.5 542.1 393.2 539.8 391.4 539.0 388.8M539.0 388.8 535.3 388.7M510.3 398.8 510.7 396.0 511.8 393.6 513.9 391.7M508.1 384.8 511.2 385.3 512.9 388.0M522.0 373.1 520.5 375.4 520.5 378.1M500.3 404.9 497.9 403.5 496.4 400.8 494.2 399.1 491.4 398.3 489.0 396.9M488.8 394.8 489.0 396.9M539.0 388.8 542.2 387.5 545.1 385.7 547.7 383.3M519.5 328.1 516.5 328.3 513.3 327.6 510.4 328.8 507.4 329.3 504.5 330.3 501.6 331.0M175.4 391.0 174.0 388.3 174.5 385.4 175.4 382.5 175.4 379.6 174.3 376.9 173.7 374.2M181.1 374.5 177.5 374.7 173.9 373.9M193.6 378.7 191.9 381.1 192.3 384.1 192.3 387.0 190.4 389.3 189.9 392.1M189.7 372.8 186.7 372.8 184.1 374.6 181.1 374.5M189.9 392.1 187.6 392.9M169.0 364.5 171.4 366.2 172.2 368.8 173.2 371.3 173.9 373.9M173.7 374.2 171.2 375.4 169.3 377.5 167.3 379.4 165.4 381.5 162.7 382.6M273.2 224.7 270.0 224.6 267.3 226.3M273.2 224.7 274.1 224.8M288.0 306.5 288.6 309.8 290.2 312.7 291.3 315.8M288.0 306.5 290.9 304.9 291.8 301.2 294.9 299.8M328.7 290.4 325.9 291.1 323.4 293.0 320.4 293.1 317.2 292.7 314.7 294.5 312.1 295.8M326.9 273.7 324.3 271.1M306.5 277.5 306.0 280.4 304.2 282.4 302.2 284.4M302.2 284.4 304.3 286.6 306.6 288.6 307.9 291.5 309.9 293.7 312.1 295.8M320.2 314.4 321.7 312.0 323.8 310.1 325.2 307.7 326.8 305.3 327.5 302.4 329.0 300.1 331.2 298.1 332.7 295.7M320.2 314.4 317.7 313.1 316.3 310.8 315.6 307.9 313.7 306.1 311.1 304.9 309.6 302.8M312.1 295.8 311.2 299.4 309.6 302.8M315.2 323.5 317.7 321.0 317.8 317.1 320.2 314.5M268.8 308.2 267.6 305.2 267.4 302.0 267.3 298.8M267.3 298.8 270.2 296.9 273.2 295.1M264.4 298.3 267.3 298.8M262.0 312.0 264.9 309.2 268.8 308.2M260.3 286.4 263.2 286.6 266.1 286.8 268.3 289.6 271.1 290.0 274.0 290.1M274.0 290.1 273.2 295.1M381.0 427.7 379.7 425.9M379.7 425.9 376.7 424.7M365.9 441.0 366.5 441.6M381.0 429.4 378.9 432.1 378.4 435.4M370.8 426.6 373.9 426.1 376.7 424.7M366.5 441.6 369.2 441.1 371.2 439.0 373.4 437.4 375.5 435.8 378.4 435.4M99.6 303.9 99.9 306.8 97.9 309.0 96.9 311.6 96.6 314.3M94.2 298.2 93.0 300.7 90.7 302.7 89.3 305.1 88.8 308.0M96.6 314.3 93.9 312.3 91.3 310.3 88.8 308.0M104.6 303.3 99.6 303.9M93.7 294.3 94.2 298.2M80.5 308.3 83.0 308.7 85.9 307.5 88.8 308.0M105.7 264.2 105.2 263.5M105.2 263.5 105.0 260.5 105.9 257.7 106.9 254.9 107.3 251.9M101.6 240.1 103.1 243.1 102.9 246.5 103.8 249.6M107.3 251.9 103.8 249.6M88.8 253.2 87.6 255.9 85.7 258.2 84.5 261.0M88.8 253.2 92.7 253.1 96.4 254.6M84.5 261.0 85.4 265.0 88.5 267.7M103.8 249.6 100.8 250.4 99.6 254.0 96.4 254.6M100.2 276.0 97.2 275.2 95.7 272.6 93.5 270.7 91.2 269.1 88.8 267.7M84.3 274.1 85.4 270.3 88.5 267.7M169.4 318.1 166.8 317.8 164.2 316.6 161.6 317.0 158.9 317.8 156.3 317.7M155.0 321.1 156.3 317.7M167.4 311.5 168.9 314.6 169.4 318.1M148.4 325.1 152.0 323.7 155.0 321.1M187.7 334.1 189.4 331.8M189.4 331.8 187.5 329.8 185.6 327.9 185.1 325.0 183.5 322.9 181.6 321.0M181.6 321.0 176.9 319.2M180.5 309.6 179.5 312.9 178.4 316.1 176.9 319.2M281.4 372.4 283.3 369.9 285.8 367.8 286.7 364.5 289.1 362.2M291.1 375.5 292.6 371.8 295.9 369.7M295.9 369.7 294.9 365.5M276.2 372.1 278.8 371.8 281.4 372.4M274.2 382.4 272.6 380.3 271.8 377.7M297.5 384.4 295.7 382.3 294.7 379.6 293.6 377.1 291.1 375.5M287.2 359.0 289.1 362.2M300.8 371.8 298.3 370.8 295.9 369.7M301.4 359.3 299.6 361.7 296.2 362.4 294.9 365.5M305.9 700.7 303.1 699.8 301.2 698.0 299.5 695.7M316.3 704.1 315.1 706.8 312.6 708.0 309.8 708.7 308.3 711.0M316.3 704.1 314.4 700.1M308.3 711.0 303.9 709.9M303.9 709.9 304.3 706.8 305.5 703.8 305.9 700.7M314.4 700.1 317.2 698.9 319.3 696.7 321.4 694.6 323.8 692.7 326.8 691.9M315.4 682.5 318.8 683.4 322.3 683.5M322.5 683.7 323.9 686.4 324.9 689.4 326.8 691.9M316.3 704.1 318.8 705.9M332.4 698.9 329.2 699.3 327.1 701.9 324.5 703.5 322.0 705.4 318.8 705.9M315.4 682.5 313.5 680.4 311.6 678.3 310.3 675.8 308.6 673.5M308.6 673.5 311.1 672.2 313.6 670.9 316.3 670.0 319.0 669.1 321.7 668.3 324.1 666.9 326.5 665.2M327.4 667.6 326.5 665.2M313.9 717.9 312.4 715.2 310.1 713.3 308.3 711.0M466.4 694.0 465.3 696.5M465.3 696.5 462.8 698.7 459.8 699.7 456.5 699.7M452.8 692.8 454.0 695.1 454.4 697.9 456.5 699.7M540.7 676.1 543.7 675.4 546.6 676.7 549.6 676.5M537.8 669.2 540.2 665.1M548.4 663.0 545.5 663.3 543.1 665.2 540.2 665.1M529.1 669.6 526.4 667.9 523.9 665.8 521.5 663.7M521.2 658.8 521.5 663.7M521.2 658.8 523.8 657.8 526.4 656.8 528.9 655.3 531.9 655.5 534.6 654.8M540.2 665.1 537.8 663.1 537.8 659.8 536.1 657.3 534.6 654.8M535.1 745.7 532.5 744.4 530.4 742.4 528.1 740.7 525.3 740.0 522.5 739.1 520.0 737.8 517.7 736.1M535.1 745.7 535.4 749.1 537.5 751.8M488.5 739.5 485.6 740.2 482.8 741.1 480.4 743.0 478.1 745.0 475.0 745.2M488.5 739.5 488.3 742.6 490.5 745.0 490.9 748.0M475.0 745.2 475.0 748.1 476.6 750.6 477.6 753.2 477.8 756.0M490.9 748.0 488.7 750.3 485.6 751.1 482.7 752.3 480.8 755.1 477.8 756.0M477.8 778.1 478.3 775.0 478.5 772.0 478.3 768.9 477.6 765.9 477.5 762.8M480.5 763.7 477.5 762.8M502.0 658.9 504.9 658.0 506.3 655.4 507.2 652.4 510.0 651.3M509.2 648.6 510.0 651.3M509.2 648.6 506.4 648.5 503.9 647.6 501.3 646.6 499.1 644.8 496.3 644.6 493.9 643.3 491.1 643.3M489.1 650.6 489.6 647.3 490.1 643.9M491.1 643.3 490.1 643.9M504.7 629.7 506.6 632.0 507.4 635.1 510.2 636.7M510.2 636.7 509.1 639.6 508.3 642.5 509.3 645.6 509.2 648.6M479.3 632.3 479.5 635.8 479.3 639.2M473.5 744.3 470.6 745.2 467.9 746.3 465.2 747.8 462.3 748.4M477.4 727.6 474.8 728.0 472.2 728.6M477.8 727.8 479.4 729.8 482.2 730.8 483.5 733.1 484.9 735.4 486.4 737.6 488.6 739.1M475.0 745.2 473.5 744.3M461.6 754.0 462.5 751.3 462.3 748.4M458.4 729.9 457.6 732.9 456.3 735.6 453.8 737.4 451.9 739.6M493.8 722.8 491.5 724.7 488.8 725.4 486.1 726.2 482.9 725.4 480.2 726.2 477.8 727.8M493.8 722.8 492.1 720.6 490.3 718.5 487.5 717.4 486.2 714.8M464.6 713.9 466.1 716.2 468.0 718.3 468.8 721.0 468.9 724.0 470.4 726.4 472.2 728.6M464.6 713.9 466.4 711.7 468.9 710.3 471.2 708.7M471.2 708.7 470.8 705.9 469.9 703.3 468.2 701.2 465.8 699.3 465.3 696.5M473.2 692.3 473.8 695.2 475.5 697.5 478.0 699.4 479.1 702.0 479.8 704.9M473.2 692.3 470.0 694.0 466.4 694.0M517.5 654.5 514.5 654.6 512.4 652.7 510.0 651.3M502.0 658.9 501.7 662.1 503.5 664.7 504.3 667.6 505.8 670.3 506.6 673.2M519.7 666.0 516.9 667.2 513.8 667.7 511.5 669.8 509.5 672.3 506.6 673.2M517.7 736.1 516.9 732.5 518.7 729.2M518.7 729.2 521.2 727.9 523.8 726.9 526.7 726.8M526.7 726.8 529.6 727.2 532.5 727.3 535.1 728.7 538.1 728.6M316.3 419.7 317.1 420.5M316.3 419.7 313.6 418.6 310.7 418.4 307.9 417.6M317.1 420.5 315.9 423.0 313.5 424.9 313.0 427.9 311.3 430.2M307.9 417.6 307.5 420.5 304.9 421.8M304.9 421.8 306.1 424.8 305.3 428.0M305.3 428.0 308.5 428.6 311.3 430.2M315.4 410.4 316.7 413.4 314.9 416.7 316.3 419.7M305.7 411.1 307.3 414.2 307.9 417.6M313.5 434.1 316.2 434.6 319.0 435.0M313.5 434.1 311.3 430.2M293.6 412.7 293.1 413.3M304.9 421.8 302.1 421.2 299.5 419.8 297.2 418.0 294.4 417.6 291.7 416.6M293.1 413.3 291.7 416.6M289.4 396.6 287.1 398.7 285.2 401.2 283.2 403.6M293.1 413.3 290.5 411.9 289.7 408.8 287.8 406.8 285.1 405.6 283.2 403.6M370.9 503.4 368.7 507.5M368.7 507.5 368.8 510.7 368.0 513.8 367.5 517.0 368.6 520.2M371.9 532.4 370.4 530.0 368.3 528.0 367.1 525.5 366.0 522.9M368.6 520.2 366.0 522.9M534.9 528.5 536.4 530.8 537.8 533.1 539.5 535.3 539.7 538.1 540.6 540.7M529.7 533.3 529.5 536.2 531.8 538.7 531.2 541.7M531.2 541.7 534.3 541.7 537.4 540.8 540.5 540.8M540.8 526.4 538.2 528.4 534.9 528.5M516.6 539.9 519.2 538.5 521.2 536.0 524.3 535.6 526.9 534.2 529.7 533.3M544.8 549.6 542.6 547.0 540.9 544.3 540.5 540.8M428.4 505.9 425.5 507.1 423.4 509.3 421.1 511.4 418.1 512.3M428.4 505.9 431.5 507.9M431.5 507.9 432.5 510.8 432.2 513.9M417.5 517.6 418.6 515.1 418.1 512.3M417.5 517.6 420.6 517.9 423.8 517.1 426.8 518.1 429.9 518.7M429.9 518.7 430.2 515.9 432.2 513.9M440.7 502.3 441.4 499.2 440.8 496.1M446.4 519.5 443.3 519.2 440.5 517.8 438.2 515.3 435.0 515.1 432.2 513.9M443.3 555.7 441.1 557.6 438.4 557.6 435.8 558.1M443.3 555.7 446.0 558.0 447.4 561.3M445.6 564.7 447.4 561.3M435.9 567.1 435.5 564.1 436.2 561.1 435.8 558.1M451.2 560.6 447.4 561.3M450.5 575.4 447.3 575.3 444.4 573.8 441.4 572.8 438.1 573.8 435.0 573.4M450.5 575.4 450.2 572.3 448.8 569.7 446.5 567.6 445.6 564.7M435.0 573.4 434.0 569.8M434.0 569.8 435.9 567.1M434.0 569.8 431.4 568.5 429.0 567.0 426.0 567.2 423.4 566.5M440.9 467.2 443.9 468.5 445.0 471.8 447.6 473.5M447.6 473.5 450.9 473.2 454.1 472.9M454.1 472.9 456.6 469.9M456.6 469.9 456.8 466.8 455.9 463.9M464.0 452.1 462.4 448.9M461.0 459.8 459.1 462.7 455.9 463.9M473.5 484.2 475.6 487.4 475.7 491.2M475.7 491.2 478.6 491.9 481.6 490.9 484.5 491.9M484.5 491.9 487.6 489.2M463.6 482.8 466.9 483.4 470.2 483.9 473.5 484.2M495.3 488.0 491.4 488.5 487.6 489.2M400.3 330.7 402.6 332.4 403.9 335.1M402.0 350.6 405.7 352.0M399.8 341.0 401.1 338.1 403.7 336.5M412.3 348.6 410.9 346.0 408.5 344.0 406.7 341.7 406.1 338.4 403.7 336.5M403.9 335.1 403.7 336.5M405.7 352.0 406.2 354.9 405.5 357.7 404.8 360.4M402.8 363.2 404.8 360.4M412.1 348.9 412.7 351.8 413.9 354.5 415.3 357.0 416.8 359.5 418.0 362.1 419.8 364.5M388.9 379.4 391.4 381.0 392.2 384.1 394.7 385.7 396.5 388.0M379.3 387.6 381.2 389.6 383.2 391.6M383.2 391.6 386.3 391.0 389.4 390.2 392.7 391.8 395.8 390.5M395.8 390.5 396.5 388.0M388.3 376.1 388.9 379.4M377.7 374.2 376.6 377.4 376.7 380.6 376.5 383.9 376.7 387.1M376.7 387.1 379.3 387.6M378.4 402.2 376.3 399.9 374.6 397.4 373.5 394.6 372.4 391.8 371.5 388.9M378.4 402.2 382.2 399.7M382.2 399.7 382.3 397.0 382.6 394.3 383.2 391.6M394.9 402.4 396.5 405.1 397.5 408.2 398.8 411.1 401.4 413.3M394.9 402.4 393.1 405.0 391.0 407.5 389.2 410.1 387.6 412.9M387.6 412.9 387.9 414.5M396.1 419.6 398.6 418.2 399.5 415.3 401.4 413.3M396.6 421.8 396.1 419.6M379.7 425.9 382.4 424.4 383.3 421.6 384.5 419.0 385.8 416.5 387.9 414.5M395.0 402.0 392.0 400.2 388.5 401.3 385.3 400.8 382.2 399.7M395.8 390.5 396.7 393.7 397.0 397.0M397.0 397.0 396.1 400.4M440.9 384.3 441.6 381.6 443.0 378.9 441.6 375.9 442.0 373.2 442.6 370.4M443.5 369.1 442.6 370.4M455.9 381.6 453.5 385.9M453.5 385.9 450.5 384.9 447.3 384.7 444.1 384.6 440.9 384.3M498.2 415.0 495.5 416.4 492.7 417.3 489.6 417.2M489.6 417.2 488.9 420.4 486.0 422.1M486.0 422.1 488.0 424.1 489.2 426.4 490.3 428.8 491.0 431.4 491.6 434.0M491.0 455.8 491.5 453.0 490.8 450.2 489.8 447.6 489.2 444.9 489.2 442.0M454.0 388.4 451.1 390.5 450.9 394.1M454.0 388.4 456.5 390.6 458.8 392.9 461.8 394.2 464.5 396.0M446.8 426.1 449.9 426.2 452.9 425.8 455.8 424.3M455.8 424.3 456.9 421.6 458.9 419.4 458.8 416.2 459.8 413.5 461.1 410.9M455.8 424.3 458.5 425.6 461.6 426.3 463.5 428.9M463.0 441.9 464.0 438.7 464.1 435.4 463.6 432.2 463.5 428.9M470.8 413.1 467.3 413.6 464.6 410.5 461.1 410.9M559.6 699.4 557.4 702.4M557.4 702.4 554.6 701.3 551.7 701.4 548.8 701.3 545.9 701.5M545.9 701.5 545.3 700.7M510.2 636.7 513.1 637.0 515.7 636.0 518.3 634.9M517.5 654.5 519.6 652.9 520.4 650.2 521.4 647.6 524.1 646.4 526.0 644.5 527.1 642.0M527.1 642.0 525.1 640.1 522.6 638.6 519.9 637.5 518.3 634.9M508.7 460.9 510.7 458.7 512.5 456.3 514.8 454.3 515.5 451.2M516.8 468.7 519.3 468.2 521.7 467.0 524.0 465.5 526.8 465.7M526.8 465.7 526.5 463.0M526.5 463.0 525.2 460.5 523.1 458.7 520.2 457.8 518.9 455.3 517.1 453.4 515.5 451.2M515.5 451.2 516.2 448.3 516.2 445.3M517.1 437.6 518.4 442.6M516.2 445.3 518.4 442.6M556.8 480.4 557.4 477.3 556.3 474.4M576.3 464.1 573.1 463.8 570.0 462.5 566.7 463.4 563.5 463.1M562.7 456.6 561.6 460.0M561.6 460.0 563.5 463.1M557.4 702.4 556.7 705.8M569.2 702.5 568.9 705.3 567.9 708.1 567.2 710.9 567.7 713.9M556.7 705.8 553.6 709.0M579.7 721.4 576.8 724.0 576.0 727.8M573.6 730.0 570.8 729.5M579.3 714.3 576.4 713.9 573.6 712.8 570.7 713.1 567.7 713.9M570.8 729.5 568.6 727.9 567.5 725.0 564.9 723.9 562.7 722.4M572.3 750.1 569.9 748.3 566.9 748.4M566.9 748.4 566.6 745.4 564.3 742.9 564.4 739.8 563.8 736.8M570.8 729.5 567.8 731.4 565.8 734.1 563.8 736.8M553.6 709.0 553.5 712.0 552.1 714.9 553.2 717.9 553.1 720.9 553.1 723.9M562.7 722.4 559.5 723.0 556.1 722.2 553.1 723.9M187.6 392.9 184.7 395.2 184.2 398.9M175.4 391.0 173.6 393.1 172.6 395.8M184.2 398.9 181.5 397.6 178.2 398.1 175.4 396.9 172.6 395.8M162.7 382.6 164.0 385.1 165.1 387.6 165.8 390.2 166.0 393.0 166.7 395.7 167.8 398.1M172.6 395.8 170.1 396.7 167.8 398.1M99.1 365.6 99.8 369.0M85.1 357.2 81.7 360.6M81.7 360.6 79.2 360.3 76.7 359.4 74.2 358.6 71.7 358.2M98.0 383.7 100.6 384.1 103.3 384.2M99.8 369.0 102.8 370.7 105.9 372.5 109.5 372.8M103.3 384.2 104.5 381.1 106.7 378.6 107.1 375.1 109.5 372.8M131.3 381.1 128.6 382.2 125.9 381.7 123.2 380.3 120.5 380.5 117.8 380.8M117.8 380.8 116.7 378.2 117.6 375.1 115.6 372.8M99.1 365.6 99.8 362.9 100.9 360.4 102.4 358.1 103.8 355.7 104.7 353.0M115.6 372.8 112.5 373.4 109.5 372.8M85.2 386.4 82.1 390.3M593.7 718.1 596.9 716.5 598.8 713.4 599.6 713.0M600.2 706.9 600.1 706.0 597.1 704.3 595.7 701.7M600.5 698.2 598.4 700.4 595.7 701.7M581.8 699.5 584.9 703.2M579.3 714.3 581.0 711.7 583.1 709.4 583.3 706.1 584.9 703.4M591.7 722.1 593.7 719.2M591.7 722.1 590.6 725.2 592.2 728.0M579.7 721.4 582.8 720.3 585.7 721.4 588.7 722.3 591.7 722.1M593.7 718.1 593.7 719.2M590.6 730.4 592.2 728.0M512.5 771.1 513.4 773.9 513.0 776.9 513.5 779.8 513.6 782.8 513.7 782.9M506.1 789.6 508.8 789.7 510.3 789.8M519.0 771.2 515.8 770.0 512.5 771.1M415.1 610.1 414.7 609.0M415.1 610.1 412.8 612.6 409.5 614.2 408.2 617.6M414.7 609.0 411.8 609.1 409.6 607.3 407.3 605.9 404.5 605.7M408.2 617.6 406.2 614.8 402.7 613.7 401.1 610.6M401.1 610.6 402.7 608.1 404.5 605.7M404.5 605.7 402.9 602.7 402.6 599.1 400.5 596.3M396.3 585.0 398.2 588.0 400.6 590.6M400.6 590.6 402.4 588.6 404.4 586.8 406.6 585.2 408.2 583.0M385.3 583.1 388.1 582.9 390.8 583.8 393.6 584.3 396.3 585.0M395.5 598.3 398.2 598.0 400.5 596.3M400.5 596.3 399.0 593.4 400.6 590.6M416.3 595.2 414.9 592.7 412.2 590.9 411.0 588.2 410.4 585.0 408.2 583.0M395.5 566.7 397.2 569.1 400.5 569.6 402.8 571.3 404.7 573.5 406.7 575.6M411.3 567.0 410.7 570.2 409.6 573.3 407.1 575.6M361.5 561.8 358.7 563.0 355.9 564.4 352.5 564.2 349.9 566.1M349.9 566.1 349.3 569.5 350.0 572.8M349.9 566.1 347.1 564.1 346.4 560.2 343.4 558.3M340.8 576.8 342.2 576.7M342.2 576.7 344.7 575.1 347.2 573.8 350.0 572.8M331.0 566.2 333.9 565.3 336.1 563.4 338.1 561.0 341.0 560.0 343.4 558.3M351.1 552.2 348.0 553.5 345.9 556.2 343.4 558.2M366.5 551.6 365.1 548.9 363.7 546.3 361.7 544.0 360.2 541.3M351.1 552.2 351.2 550.8M351.2 550.8 352.2 548.1 354.5 546.7 357.4 545.8 358.9 543.6 360.2 541.3M369.0 535.9 366.1 536.5 363.2 537.7 360.2 537.3M360.2 541.3 360.2 537.3M360.2 537.3 358.5 535.8M343.4 558.2 341.2 556.0 340.3 553.0 339.7 549.7 336.9 547.9 335.5 545.1M358.5 535.8 355.8 535.3 353.1 534.7 350.4 534.4M292.0 538.5 288.8 539.8 285.2 539.0 281.9 540.2M292.0 538.5 294.6 541.6 294.9 545.6M281.9 540.2 283.0 542.8 283.0 545.6 283.0 548.4 283.2 551.2 284.0 553.9 284.6 556.6M284.6 556.6 285.6 557.0M285.6 557.0 288.1 553.9 291.8 552.6M294.9 545.6 292.6 548.7 291.8 552.6M292.7 536.2 295.0 534.7 297.7 533.7 299.5 531.6 301.6 529.8 303.7 528.1M303.7 528.1 304.2 531.0 304.6 533.9 306.6 536.5 307.0 539.5 306.8 542.6 307.9 545.4M305.0 559.2 302.5 561.3 302.1 564.6 300.5 567.2M285.6 557.0 286.2 559.7 287.2 562.4 288.8 564.8 289.5 567.5M250.1 575.6 247.2 574.9 244.7 573.4 241.8 572.8 239.1 571.6 236.4 570.5 234.0 568.7M230.7 581.1 233.1 582.4 236.0 582.8 238.7 583.6 240.8 585.7 243.3 587.0M557.8 619.8 555.6 617.8 553.8 615.5 551.7 613.5 549.3 611.8 548.1 608.9 545.7 607.1 543.1 605.6M550.1 602.3 552.9 602.9 555.6 603.6 557.7 605.6 559.8 607.7 562.4 608.6 565.6 608.2 567.8 610.1M550.1 602.3 546.7 603.9 543.1 604.8M567.8 610.1 566.8 613.0 564.8 615.4M557.8 589.8 556.5 592.4 555.1 595.0 553.9 597.8 551.8 599.9 550.1 602.3M575.8 645.4 574.1 642.9 573.1 640.1M560.4 650.0 560.2 646.6M560.2 646.6 563.6 644.8 564.8 641.1M564.8 641.1 567.4 639.8 570.3 640.4 573.1 640.1M481.0 577.1 479.2 574.4 477.5 571.6 474.5 569.9 472.4 567.5M481.0 577.1 482.6 574.6 483.2 571.6 484.7 569.1M484.7 569.1 482.3 566.1 482.5 562.2M474.6 562.7 479.1 560.9M479.1 560.9 482.5 562.2M466.0 568.2 469.1 567.3 472.4 567.5M497.7 566.0 495.3 567.5 492.6 567.5 489.7 566.7 487.2 568.0 484.7 569.1M467.5 556.2 469.5 558.7 473.1 559.6 474.6 562.7M474.9 546.3 475.3 549.4 477.9 551.8 477.1 555.2 477.6 558.2 479.1 560.9M447.2 601.5 446.6 604.5 446.0 607.5 444.2 610.0 441.3 612.0 441.3 615.3M430.8 602.8 430.0 604.8M452.5 602.5 450.0 601.4 447.2 601.5M442.9 621.3 443.1 618.0 441.3 615.3M453.6 578.8 451.5 580.9 448.8 582.5 447.0 585.0 444.8 587.1M444.8 587.1 444.6 590.1 446.3 592.8 447.2 595.6 447.7 598.4 447.1 601.5M442.9 621.3 440.1 621.5 437.8 622.9 435.8 625.1 433.0 625.2M433.0 625.2 430.1 624.6 427.5 623.5M427.5 623.5 425.2 621.3M416.7 610.7 419.8 610.6 422.1 608.6 424.3 606.2 427.1 605.5 430.0 604.8M416.7 610.7 415.1 610.1M418.5 594.3 416.3 595.2M418.5 594.3 421.4 595.4 422.8 598.6 425.7 599.6 428.4 601.0 430.8 602.8M434.1 577.1 431.4 577.4 428.8 578.1 426.2 579.3 423.5 579.5 420.8 579.9M434.1 577.1 435.9 580.6 435.9 584.4M422.3 588.5 422.1 585.7 421.8 583.0 420.4 580.5M435.0 573.4 434.1 577.1M444.8 587.1 441.9 586.2 438.6 586.4 435.9 584.4M418.5 594.3 419.9 591.1 422.3 588.5M152.4 209.0 152.2 212.0 151.9 215.0 150.9 217.9 150.0 220.7M166.8 212.8 165.3 214.6M165.3 214.6 162.4 215.5 160.7 218.8 157.4 219.2 154.1 219.5 152.0 221.9M150.0 220.7 152.0 221.9M168.2 212.8 169.1 216.0 171.2 218.2 173.6 220.2 175.5 222.6M175.5 222.6 178.7 223.9 182.1 223.5M501.9 326.3 502.9 325.0M519.5 328.1 518.8 326.0M321.4 314.8 323.4 317.6 327.3 317.6 329.3 320.4 332.1 322.1M341.6 311.5 340.3 314.5 338.0 316.7 335.2 318.6 334.3 321.8M320.2 314.5 321.4 314.8M345.0 308.8 341.6 311.5M324.9 331.3 326.4 328.7 327.4 325.8 331.2 325.1 332.1 322.1M341.2 333.7 340.1 331.2 338.5 328.9 336.0 327.2 335.0 324.6 334.3 321.8M458.6 274.8 461.6 275.5M461.6 275.5 463.1 274.5M464.6 264.9 463.7 264.4 461.4 262.3M461.4 262.3 459.9 264.7 457.7 266.4M452.9 281.5 454.1 278.6 456.9 277.2 458.6 274.8M462.8 277.0 461.6 275.5M448.8 265.0 452.0 264.0 454.8 265.6 457.7 266.4M394.0 204.3 392.1 201.4M392.1 201.4 392.9 198.9 393.0 196.0 395.1 194.1 396.8 192.0 397.7 189.5M401.5 189.1 397.7 189.5M394.3 204.3 396.4 205.9 398.4 207.7 400.5 209.3 403.1 210.0 405.6 210.9M394.0 204.3 392.4 207.7M405.6 210.9 402.9 212.9 402.5 216.3M402.5 216.3 399.4 215.7 396.3 216.4 393.2 216.0M393.2 216.0 392.2 213.3 392.5 210.5 392.4 207.7M368.6 228.8 365.5 229.1 363.0 230.7 360.5 232.3M368.6 228.8 367.7 225.7 368.5 222.4 368.9 219.2 367.7 216.1M354.6 230.6 357.9 230.2 360.5 232.3M370.3 247.0 368.5 246.9M385.8 179.7 384.7 180.3 383.5 183.2M383.5 183.2 381.2 181.8 378.7 181.2M378.7 181.2 377.6 179.7M384.8 188.8 384.7 185.8 383.5 183.2M384.8 188.8 387.7 189.7 390.6 189.1 393.5 188.9 396.3 188.7M392.5 179.7 392.5 180.2 393.2 183.3 394.2 186.2 396.3 188.7M414.6 199.7 417.3 200.9 419.9 202.3 422.5 203.5 424.6 205.7 427.2 207.1M424.7 214.7 426.9 212.6 426.0 209.5 427.2 207.1M413.6 189.7 414.6 193.4 415.3 197.2M413.6 189.7 410.7 188.5 407.6 188.8 404.6 189.2 401.6 189.0M415.3 197.2 414.6 199.7M433.3 202.2 430.8 203.0 428.9 204.8 427.2 207.1M426.8 220.7 426.1 217.6 424.7 214.7M405.0 179.7 404.8 180.7 403.4 183.3 402.5 186.2 401.6 189.0M397.7 189.5 396.3 188.7M582.2 399.9 583.2 397.4 583.8 394.7 586.3 393.1 587.7 390.9M582.2 399.9 578.9 399.5 576.2 397.7 574.1 394.8 571.0 393.9M571.0 393.9 572.0 390.3 572.4 386.4M565.2 397.4 568.6 396.6 571.0 393.9M531.9 346.5 533.2 343.5 535.8 341.4 538.1 339.1 538.4 338.7M156.5 397.4 155.0 395.0 153.4 392.5 151.0 390.7 149.5 388.2M156.5 397.4 154.9 399.6 152.2 400.8 150.5 402.9 148.8 405.1M147.3 389.5 149.5 388.2M134.1 384.1 137.2 385.4 139.2 388.3 142.5 389.3M142.5 389.3 147.3 389.5M273.2 224.7 272.7 221.9 272.3 219.2 273.0 216.4 272.9 213.7M274.1 224.8 276.4 223.5 279.0 222.6 280.8 220.2 283.7 220.2M287.5 202.6 288.2 205.2 291.3 206.5 291.7 209.3 292.3 211.9 294.1 213.9M283.8 219.9 286.6 218.7 288.5 216.2 291.4 215.2 294.1 213.9M302.5 231.5 299.0 231.4 296.0 229.3 292.6 228.7M295.1 239.8 292.6 237.8 292.2 234.5 290.4 232.1M290.4 232.1 291.8 229.0M292.3 250.2 294.0 247.9 292.7 244.7 293.5 242.1 295.1 239.8M283.7 220.2 285.3 222.8 287.0 225.3 290.5 226.1 291.8 229.0M298.9 218.9 297.1 221.2 295.8 223.8 294.7 226.6 292.6 228.7M298.9 218.9 297.5 215.1M297.5 215.1 294.1 213.9M304.0 230.5 306.2 232.8 309.3 233.2 312.0 234.5M304.0 230.5 304.7 227.8 305.6 225.1 307.0 222.6M307.0 222.6 310.8 222.3 314.1 220.4M302.5 231.5 304.0 230.5M322.5 241.7 320.0 239.9 317.9 237.5 314.8 236.4 312.5 234.4M277.2 285.4 279.1 287.3 280.5 289.8 282.9 291.2 285.3 292.5 287.6 293.9M293.9 282.4 297.8 285.1M297.8 285.1 296.6 288.0 294.1 290.2 293.0 293.3M287.6 293.9 290.4 294.5 293.0 293.3M284.9 263.6 286.0 266.4 287.0 269.2 288.3 271.9 290.0 274.4 291.6 276.9 293.0 279.5 293.9 282.4M274.0 290.1 276.7 288.5 277.2 285.4M302.2 284.4 297.8 285.1M294.9 299.8 293.6 296.6 293.0 293.3M352.9 445.1 355.5 444.0 357.4 441.6 360.4 441.2 362.8 439.8M358.0 454.3 360.6 454.7M360.6 454.7 363.6 453.5 366.3 451.6M343.1 472.6 346.1 473.3 348.8 474.9 351.6 475.9 355.1 474.6 357.8 476.6M357.8 476.6 361.2 475.7 362.6 472.3 365.3 470.6M372.7 481.3 371.6 478.6 370.2 476.0 367.7 474.0 367.7 470.8M365.3 470.6 367.7 470.8M272.9 213.7 271.1 211.1 268.1 209.8M261.0 215.8 262.6 213.0 266.0 212.2 267.9 209.8M317.3 182.3 315.4 179.7M317.3 182.3 320.8 182.6 324.2 182.2 327.7 182.6M328.2 179.7 328.2 179.8 327.7 182.6M342.9 179.9 343.0 182.7 340.7 184.7 340.6 187.5M340.6 187.5 338.1 188.9 335.0 187.6 332.7 189.5M337.1 179.7 337.1 179.8 334.3 181.0 332.4 182.9 330.6 185.0M331.4 194.8 330.6 191.8 332.7 189.5M331.4 194.8 328.2 194.8 325.3 193.6 322.4 192.4 319.3 191.9 316.2 191.6M330.6 185.0 327.7 182.6M363.9 424.5 362.9 422.9M363.2 416.4 363.6 419.7 362.9 422.9M324.0 402.9 326.4 404.6 327.2 407.3 329.0 409.3 330.1 411.7 331.0 414.3M329.1 420.2 329.9 417.2 331.0 414.3M327.4 667.6 329.2 669.9 331.9 670.9 335.0 671.2 336.8 673.5M338.1 661.7 335.2 661.2 332.4 662.4 329.6 662.5 326.7 662.0M326.7 662.0 326.5 665.2M336.8 673.5 339.0 671.8 340.7 669.6 343.1 668.2M427.5 623.5 426.4 626.1 427.1 629.1 427.4 632.0 425.6 634.5M425.6 634.5 428.2 635.5 430.3 637.3 432.5 638.9M425.2 621.3 423.3 623.8 420.7 625.2 417.5 625.6 415.2 627.5M408.2 617.6 406.8 619.9 405.4 622.3 405.9 625.2M405.9 625.2 407.1 626.4M415.2 627.5 412.4 627.6 409.7 627.8 407.1 626.4M464.6 713.9 461.8 713.3 459.0 712.8 456.1 713.6M456.5 699.7 456.6 702.6 454.7 704.7M454.7 704.7 456.1 707.5 454.3 710.9 456.1 713.6M458.4 729.9 456.2 727.9 455.9 725.0 454.9 722.3M455.1 714.4 456.1 713.6M452.8 692.8 449.6 693.2 447.2 691.1M438.8 698.3 441.4 699.5 444.2 700.2 446.9 701.1 449.7 701.9 452.5 702.5 454.7 704.7M438.8 698.3 436.2 694.3M436.0 669.9 436.4 670.6M436.0 669.9 432.5 668.6 428.8 669.2M419.2 679.3 421.0 677.1 423.5 675.7 425.3 673.6 426.4 670.8 428.8 669.2M420.0 687.9 422.9 688.8 425.8 689.8 429.1 688.8 431.9 690.3M436.2 694.3 434.8 693.7M447.2 691.1 447.7 688.5 448.3 685.9 450.3 683.7 451.4 681.3 451.3 678.5M434.8 693.7 431.9 690.3M405.4 686.7 405.0 683.9 403.1 681.7 401.4 679.5 400.7 676.8M419.2 679.3 417.4 677.0 415.5 674.9 413.9 672.5 413.4 669.5 412.9 666.6 411.2 664.3M411.2 664.3 408.6 663.9M400.7 676.8 403.1 674.7 403.7 671.5 404.3 668.3 407.5 666.7 408.6 663.9M332.4 698.9 334.6 700.8M334.6 700.8 335.3 705.4M329.0 712.9 331.0 710.3 333.9 708.4 335.3 705.4M334.6 700.8 337.3 700.3 339.0 697.7 341.7 697.2 344.3 696.3 347.3 696.7 349.4 694.9 351.7 693.5M351.7 693.5 351.0 696.2 352.9 698.8 353.7 701.5 352.4 704.2 351.8 707.0 352.1 709.7 352.8 712.4M319.1 733.2 320.2 730.9M321.7 731.9 320.2 730.9M509.6 756.4 507.8 758.6 506.2 761.0 505.8 764.0M505.8 764.0 502.9 764.1 500.1 763.0M500.1 763.0 495.7 760.5M495.7 760.5 494.0 757.9 493.3 755.0 492.2 752.2 492.0 749.1M501.1 746.9 498.1 747.8 495.0 748.4 492.0 749.1M523.9 756.3 521.0 756.4 518.2 757.2 515.3 756.5 512.5 756.1 509.6 756.4M503.1 739.7 502.5 743.5 501.1 746.9M488.8 775.6 491.0 773.8 493.3 772.0 493.7 768.6 495.7 766.6 497.8 764.7 500.1 763.0M480.5 763.7 483.1 763.5 485.6 762.7 488.0 761.8 490.4 760.2 493.3 761.3 495.7 760.5M490.9 748.0 492.0 749.1M495.4 734.4 493.4 736.3 490.2 736.5 488.6 739.1M495.4 734.4 497.7 736.6 500.5 738.0 503.1 739.7M479.3 639.2 476.7 641.0 474.6 643.3M489.1 650.6 486.2 652.0 484.3 654.6 482.0 656.7 479.4 658.4M474.6 643.3 475.1 645.9 477.6 647.9 477.1 650.8 478.0 653.3 477.7 656.2 479.4 658.4M466.4 633.1 464.7 636.3 466.2 640.0 464.9 643.3M474.6 643.3 471.4 642.8 468.2 642.6 464.9 643.3M446.3 654.9 448.4 656.4M448.4 656.4 450.9 655.6 453.7 655.6 455.8 653.7 458.1 652.3 460.7 651.9M460.7 651.9 461.7 648.8 461.4 645.5M453.1 626.1 454.2 628.4 455.3 630.8 455.0 633.8 456.3 636.1 458.7 637.9 459.8 640.3 461.3 642.5 461.6 645.3M464.9 643.3 461.6 645.3M474.6 690.5 472.4 687.6 472.0 684.2 471.5 680.7M471.5 680.7 474.5 678.5M499.5 703.0 496.7 702.0 493.9 702.9 491.1 703.0 488.3 703.4 485.5 702.8 482.7 702.8M499.5 703.0 500.5 699.6 499.7 696.2M500.4 704.9 499.5 703.0M500.4 704.9 497.5 705.7 494.9 707.1 493.2 709.8 491.2 711.9 488.7 713.4 486.2 714.8M479.8 704.9 482.7 702.8M474.6 690.5 473.2 692.3M502.9 689.4 502.1 686.3 500.4 683.5 499.7 680.5M502.9 689.4 505.7 690.5 508.6 690.3 511.5 690.0 514.3 690.2 517.2 690.7M517.2 690.7 518.5 688.4 520.5 686.5 521.0 683.7M499.7 680.5 502.1 678.6 504.8 677.0 506.3 674.1M506.3 674.1 508.9 674.8 511.1 676.2 513.4 677.4 515.3 679.3 517.6 680.5 519.8 681.9M494.2 678.7 497.0 679.3 499.7 680.5M499.7 696.2 501.3 692.8 502.9 689.4M500.4 704.9 503.5 708.1M503.5 708.1 508.3 707.4M519.7 666.0 520.0 668.7 520.9 671.3 519.8 674.0 518.8 676.6 520.2 679.2 519.8 681.9M506.6 673.2 506.3 674.1M527.3 682.3 524.1 682.5 521.0 683.7M512.0 726.1 509.1 727.2 506.2 728.5 503.1 728.7 499.7 727.9 496.9 729.4M518.3 728.7 519.1 725.9 518.9 723.0 517.3 720.0 517.0 717.1 518.3 714.3 518.5 711.4M518.3 728.7 515.0 727.7 512.0 726.1M518.5 711.4 515.7 711.1 513.8 708.4 510.9 708.4 508.3 707.4M495.4 734.4 496.9 729.4M343.5 496.2 341.3 494.1 338.5 492.7M343.5 496.2 348.4 496.9M338.5 492.7 340.5 490.7 340.6 487.6 343.1 486.0 344.1 483.4M323.5 475.7 322.1 477.8M322.1 477.8 322.4 480.5M338.1 492.8 335.2 491.8 332.7 489.9 330.4 487.8 327.6 486.6 324.9 485.2M343.1 472.6 342.6 475.4 344.6 477.9 344.6 480.6 344.1 483.4M324.9 485.2 323.5 482.9 322.4 480.5M334.2 427.5 331.7 425.7 330.3 423.0 329.1 420.2M334.2 427.5 333.3 431.2 331.6 434.7M324.6 452.5 328.0 451.2 331.1 449.6M324.6 452.5 320.9 450.5M320.1 447.1 321.2 444.7 321.9 442.1M325.8 459.7 325.0 456.1 324.6 452.5M337.7 452.0 334.6 450.2 331.1 449.6M314.9 454.0 318.0 452.5 320.9 450.5M313.5 434.1 311.6 436.6 311.1 439.8 308.8 441.9M308.8 441.9 311.4 443.6 314.2 445.1 317.2 446.0 320.1 447.1M319.3 435.2 321.4 438.4 321.9 442.1M332.2 439.0 331.6 434.7M339.4 441.4 340.6 444.2 343.0 446.4 343.3 449.6M339.4 441.4 336.1 439.4 332.2 439.0M332.9 501.1 335.0 503.3 335.6 506.3 335.9 509.3 337.7 511.7M323.3 508.2 325.7 505.6 326.8 502.2M338.1 492.8 335.4 495.0 334.7 498.3 332.9 501.1M324.9 485.2 324.8 488.1 322.5 490.4 322.4 493.3 321.9 496.0M326.8 502.2 325.1 500.2 322.6 498.8 321.9 496.0M322.4 480.5 319.8 481.8 318.2 484.0 316.8 486.6 314.5 488.1 311.8 489.2 310.3 491.6M310.9 494.5 310.3 491.6M310.9 494.5 314.0 496.1 316.7 498.2M316.7 498.2 318.9 496.2 321.9 496.0M281.6 391.6 278.8 392.7 277.3 395.6 275.0 397.4 272.4 399.0M283.2 403.6 279.9 404.5 276.4 404.4M276.4 404.4 274.5 401.6 272.4 399.0M274.2 382.4 272.9 384.8 272.4 387.4 271.7 390.0 271.9 392.9 270.6 395.3 268.7 397.4M272.4 399.0 268.7 397.4M238.4 407.6 240.7 405.5 243.5 404.0 245.8 401.9M240.1 413.6 243.4 414.9M245.8 401.9 246.8 404.6 248.2 407.2 247.6 410.3 248.5 413.0M243.4 414.9 245.6 413.1 248.5 413.0M304.5 502.6 306.6 505.0 309.2 506.9 311.7 509.0 314.5 510.5M323.3 508.2 321.1 510.4 318.5 511.9 315.5 512.3M314.5 510.5 315.5 512.3M298.7 485.8 301.9 486.6 304.6 488.5 307.1 490.8 310.3 491.6M304.5 502.6 299.9 502.4M298.5 486.0 298.5 488.8 298.8 491.5 299.5 494.2 300.7 496.8 299.7 499.6 299.9 502.4M298.7 485.5 297.4 483.1 296.0 480.6 293.9 478.8 291.5 477.1 290.5 474.4M290.5 474.4 287.9 474.9 285.5 476.1 283.1 477.2M282.4 491.7 278.1 490.2M278.1 490.2 278.5 487.4 279.6 484.8 280.4 482.1 281.8 479.7 283.1 477.2M82.1 390.3 81.9 393.5 83.9 396.4 83.7 399.5 83.4 402.7M72.3 404.0 70.9 401.5M72.3 404.0 75.6 402.6 79.1 404.0 82.5 403.4M452.1 492.5 454.6 490.6 455.6 487.6M452.1 492.5 449.2 494.6 445.9 494.3 442.6 494.3M455.6 487.6 453.0 486.0 450.3 484.4 447.8 482.4 444.9 481.3M442.6 494.3 442.5 491.2 440.5 488.8 439.5 486.0 438.8 483.1M444.9 481.3 442.0 482.4 438.9 482.2M438.9 482.2 438.8 483.1M454.0 504.8 453.7 501.7 452.5 498.7 453.3 495.5 452.1 492.5M440.8 496.1 442.6 494.3M447.6 473.5 445.6 475.7 446.2 478.9 444.9 481.3M430.6 491.6 432.2 489.0 434.9 487.5 437.2 485.7 438.8 483.1M464.9 474.8 463.6 472.8M463.6 472.8 465.4 470.7 466.4 468.2 468.0 466.1M468.0 466.1 472.8 465.9M472.8 465.9 475.6 467.8 478.5 469.8M463.6 482.8 462.8 480.0 464.3 477.5 464.9 474.8M456.6 469.9 459.9 471.9 463.6 472.8M461.0 459.8 463.6 461.6 464.9 464.8 468.0 466.1M464.0 452.1 466.2 453.8 469.4 452.2 471.5 454.3M471.5 454.3 471.4 457.2 471.4 460.2 472.8 462.9 472.8 465.9M486.8 461.5 483.9 462.8 482.1 465.2 481.0 468.1 478.5 469.8M420.0 343.5 422.2 345.2 425.0 345.9 427.2 347.6M427.2 347.6 429.7 347.4M429.7 347.4 432.0 345.3 434.9 344.2 437.2 342.1M437.2 342.1 436.5 337.3M412.3 348.6 414.5 346.3 418.2 346.3 420.0 343.5M424.1 364.2 421.7 366.3M424.1 364.2 423.8 361.3 424.6 358.6 424.8 355.8 425.7 353.1 426.4 350.4 427.2 347.6M421.7 366.3 419.8 364.5M437.8 333.5 436.5 337.3M424.1 364.2 426.9 363.5 429.9 364.0 432.8 363.6 435.7 363.4 438.3 361.6 441.1 361.3M444.6 362.2 441.1 361.3M444.3 344.6 440.5 344.2 437.2 342.1M402.8 363.2 405.5 365.1 406.4 368.2 407.8 370.9M421.7 366.3 420.5 369.3 420.7 372.5M407.8 370.9 411.0 371.3 414.2 372.3 417.4 372.6 420.7 372.5M396.7 372.3 399.6 374.3 402.5 376.2M407.8 370.9 405.4 373.8 402.5 376.2M396.5 388.0 399.7 385.8 403.1 383.9M402.5 376.2 402.3 380.1 403.1 383.9M396.1 400.4 398.8 400.8 401.2 401.9 403.6 402.8 406.2 403.5 408.2 405.4 410.8 406.1 413.0 407.5M488.5 441.3 488.5 439.0M472.4 440.2 474.2 437.9 474.9 434.8 477.2 432.8M478.2 432.7 477.2 432.8M491.6 434.0 490.5 436.8 488.5 439.0M489.2 442.0 488.5 441.3M486.0 422.1 484.7 422.6M484.7 422.6 482.9 425.0 481.1 427.4 480.0 430.3 478.2 432.7M463.0 441.9 466.2 441.7 469.3 440.8 472.4 440.2M479.8 407.5 476.8 407.8 474.4 409.5M479.8 407.5 482.2 405.2 482.6 401.9M474.4 409.5 473.8 406.9 473.1 404.3 470.6 402.6 468.8 400.5 469.0 397.4 467.7 395.1M482.6 401.9 480.3 399.8 477.8 398.0 474.6 397.2 471.8 395.9 470.0 393.1M470.0 393.1 467.7 395.1M470.8 413.1 474.4 409.5M489.0 396.9 487.7 399.7 484.7 400.1 482.6 401.9M464.5 396.0 467.7 395.1M473.2 385.7 473.5 388.7 471.4 390.8 470.0 393.1M454.0 388.4 453.5 385.9M536.6 699.6 535.8 694.5M536.6 699.6 535.6 702.7 533.1 705.1 532.4 708.3M533.5 692.8 535.8 694.5M545.3 700.7 542.5 699.8 539.5 700.1 536.6 699.6M540.9 713.0 537.8 711.9 535.5 709.2 532.4 708.3M531.4 683.8 531.8 686.9 531.8 690.1 533.5 692.8M538.2 620.6 540.8 623.3 540.7 627.1M538.2 620.6 535.6 619.2 532.7 618.5 529.6 618.4 527.0 616.6M537.7 631.3 534.9 630.4 532.0 629.5 529.2 628.7 526.1 629.4 523.2 628.9M521.6 623.4 522.9 626.0 523.2 628.9M522.9 607.8 523.3 611.2 526.5 613.3 527.0 616.6M513.8 621.1 516.8 620.7 519.1 622.5 521.6 623.4M557.0 621.1 558.7 623.6 560.4 626.1 562.1 628.6 563.1 631.5M557.0 621.1 555.5 623.6 552.2 623.5 550.0 625.0 548.3 627.2M560.2 635.4 563.1 631.5M557.8 619.8 557.0 621.1M540.7 627.1 544.5 627.4 548.3 627.2M560.2 646.6 557.9 644.8 555.8 642.5 553.3 640.8M564.8 641.1 562.2 638.5 560.2 635.4M550.8 642.5 548.2 640.7 545.4 640.2 542.2 640.9 539.5 639.9 536.7 639.3M550.8 642.5 551.0 646.4 549.3 649.9M549.3 649.9 545.1 651.7M545.1 651.7 541.9 649.3 537.8 649.5M553.3 640.8 550.8 642.5M537.7 631.3 536.7 633.9 537.6 636.7 536.7 639.3M556.9 653.0 553.8 653.4 552.1 650.4 549.3 649.9M548.4 663.0 548.7 659.9 547.5 657.1 545.3 654.7 545.1 651.7M534.6 654.8 536.3 652.2 537.8 649.5M525.2 443.6 526.6 446.4 526.6 449.7 527.8 452.5 529.8 455.1M529.8 455.1 532.5 454.8 535.1 454.3 537.7 453.5 540.3 453.2 543.0 453.2M543.0 453.2 542.7 450.0 540.9 447.3 539.3 444.6 538.7 441.4M518.4 442.6 521.7 443.6 525.2 443.6M549.0 433.6 546.8 436.0 544.7 438.6 541.4 439.7 538.7 441.4M538.8 465.4 540.9 467.0 541.8 469.8 544.2 471.2M538.8 465.4 540.7 462.8 541.5 459.8 541.5 456.4 543.6 453.9M556.1 459.5 554.5 461.6 552.6 463.4 551.1 465.7 549.2 467.5 547.1 469.1 545.3 471.0M544.2 471.2 545.3 471.0M543.0 453.2 543.6 453.9M556.3 474.4 553.6 473.2 550.7 472.8 547.7 472.7 545.3 471.0M561.6 460.0 558.9 459.0 556.1 459.5M554.0 483.7 552.0 483.4M552.0 483.4 549.5 481.9 547.5 479.9 545.7 477.5 543.0 476.2M550.9 747.6 550.3 744.8 549.3 742.1 547.5 739.9 546.1 737.4 544.5 735.1 542.6 732.9 541.2 730.4 540.9 727.4M540.9 727.4 544.1 724.5M566.9 748.4 564.5 749.9 561.7 749.9 558.9 749.1 556.2 749.2 553.7 750.7M550.8 748.5 550.9 747.6M538.1 728.6 540.9 727.4M540.9 713.0 540.9 716.1 541.6 719.0 542.8 721.8 544.1 724.5M103.8 352.3 101.1 351.7 98.4 350.7 95.6 351.4 92.7 351.9 90.0 351.7 87.4 350.3M85.1 357.2 85.8 354.6 86.2 352.0M86.2 352.0 87.4 350.3M98.0 338.0 96.0 339.8 95.1 342.5 93.1 344.3 90.8 345.8 88.9 347.7 87.4 349.9M80.0 328.8 78.1 331.7 78.7 335.1 78.0 338.2M74.0 456.4 70.4 455.5 69.6 455.6M103.3 384.2 104.4 387.0 106.9 388.5 109.2 390.3 110.4 392.9M311.2 726.8 310.5 727.3M313.9 717.9 311.9 720.5 312.1 723.8 311.2 726.8M424.7 711.6 426.2 710.9M426.2 710.9 429.3 711.3 432.3 711.8 434.8 713.6 437.3 715.4M438.8 698.3 439.3 700.9 438.9 703.8 439.9 706.4 440.8 709.0 441.6 711.6 441.9 714.3M437.3 715.4 441.9 714.3M455.1 714.4 452.2 714.4 449.4 715.8 446.4 715.3 443.5 715.1M443.5 715.1 441.9 714.3M390.0 616.4 386.8 614.7 384.0 612.4M393.3 603.6 390.9 605.4 388.1 606.1 385.3 607.0 382.6 608.1M382.6 608.1 384.0 612.4M395.5 598.3 394.0 600.8 393.3 603.6M377.8 621.6 374.6 621.0 371.6 622.1 368.5 622.7M377.8 621.6 379.2 619.2 382.1 617.8 382.2 614.5 384.0 612.4M342.2 576.7 343.8 579.1 344.4 582.1 347.3 583.5 349.2 585.5 350.3 588.2M350.3 588.2 351.1 585.5 352.6 583.4 355.6 582.3 356.6 579.8M369.4 578.6 367.4 580.2 364.7 581.2 363.7 583.9M356.6 579.8 358.8 581.5 361.6 582.0 363.7 583.9M305.4 524.6 307.5 526.1 310.3 526.6 312.3 528.2 314.3 529.9 316.7 531.0M305.4 524.6 305.3 523.7M305.3 523.7 307.3 521.5 309.0 519.0 310.3 516.1 313.9 515.2 315.4 512.5M323.7 529.5 320.1 529.8 316.7 531.0M305.0 559.2 307.4 560.6 310.1 561.4M310.1 561.4 311.5 564.5 311.3 568.1 313.7 570.8M300.5 567.2 303.0 569.4 303.6 572.9 305.9 575.3M313.7 570.8 312.9 572.4M312.9 572.4 308.9 572.7 305.9 575.3M313.7 570.8 316.2 569.1 319.3 568.4 321.9 566.9 324.4 565.0 326.7 563.0M331.0 566.2 328.9 564.5 326.7 563.0M324.0 582.0 322.7 581.7M312.9 572.4 315.2 573.9 316.4 576.6 317.8 579.1 320.2 580.5 322.7 581.7M277.0 556.6 273.1 557.8 270.5 560.9M270.5 560.9 267.6 559.8 264.8 558.2 262.3 556.2 259.1 555.5M265.1 543.2 262.5 544.5 260.4 546.6 258.4 548.6M258.4 548.6 258.2 552.1 259.1 555.5M281.9 540.2 277.3 538.3M284.6 556.6 280.8 557.1 277.0 556.6M277.3 538.3 274.3 539.0M289.5 567.5 288.4 570.2 287.3 572.8M287.3 572.8 284.4 572.9 281.6 573.4 279.1 575.8 276.1 575.3M270.5 560.9 270.7 563.7 270.4 566.4 270.0 569.2M270.0 569.2 272.5 570.7 274.4 573.0 276.1 575.3M307.7 644.4 310.2 646.7 312.9 648.9 314.5 652.0M317.2 639.6 319.0 642.4 322.0 644.0M314.5 652.0 317.2 651.1 319.9 650.3 322.4 649.0M322.4 649.0 322.0 644.0M309.6 660.0 311.7 657.6 312.5 654.4 314.5 652.0M217.4 571.6 218.8 574.2 221.0 576.1 223.6 577.8 224.7 580.5 225.7 583.3M218.6 589.0 215.7 589.1 212.9 587.9M212.9 587.9 212.2 585.3 211.7 582.7 211.4 580.1 211.5 577.4 212.2 574.8M217.4 603.9 214.4 602.8 211.3 602.3M217.4 603.9 219.8 602.2 220.4 599.0 223.3 597.9M218.6 589.0 220.1 592.0 222.0 594.8 223.3 597.9M211.3 602.3 210.3 599.4 211.8 596.6 213.1 593.9 212.2 591.0 212.3 588.1M570.9 627.0 569.8 631.0M564.8 615.4 565.4 618.1 566.6 620.4 568.9 622.1 570.4 624.3 570.9 627.0M563.1 631.5 566.4 630.1 569.8 631.0M147.8 220.9 144.5 219.6 142.2 216.8 139.1 215.3M139.1 215.3 136.7 216.4 134.1 217.1 131.5 217.3M142.3 205.1 142.3 207.9 140.9 210.2 138.7 212.4 139.1 215.3M150.0 220.7 147.8 220.9M126.9 212.4 129.3 214.8 131.5 217.3M152.4 222.6 151.5 225.4 151.3 228.3 150.8 231.2 150.7 234.1M165.0 232.7 163.3 230.2M150.7 234.1 153.2 236.3 154.8 239.4 157.3 241.6M152.0 221.9 152.4 222.6M165.3 214.6 164.8 217.2 164.7 219.8 165.2 222.5 165.2 225.1 163.8 227.6 163.3 230.2M147.6 246.4 150.3 245.9 152.6 244.4 154.9 242.9 157.3 241.6M190.5 229.3 187.5 228.2 185.6 225.3 182.4 224.5M190.5 229.3 190.7 231.9 193.1 234.1 192.5 236.9M192.5 236.9 190.5 239.2 188.1 241.1 185.1 242.4 183.7 245.4M179.2 240.5 179.9 243.3 181.9 245.4M183.7 245.4 181.9 245.4M201.3 222.3 198.3 223.7 196.0 225.9 193.9 228.6 190.5 229.3M182.1 223.5 182.4 224.5M165.4 232.7 168.1 233.4 170.7 234.1 172.7 236.0 174.9 237.5 176.9 239.3 179.2 240.5M189.9 249.3 186.5 247.9 183.7 245.4M375.9 195.6 376.8 198.2 378.2 200.4 380.4 202.1M375.9 195.6 378.8 193.8 381.9 192.3 384.4 189.8M380.4 202.1 383.8 201.6 387.3 202.1 390.5 200.6M392.1 201.4 390.5 200.6M380.4 210.8 383.6 210.7 386.5 209.8 389.3 208.1 392.4 207.7M380.4 210.8 379.1 208.7M384.8 188.8 384.4 189.8M328.1 207.7 331.0 208.6 334.3 208.8 336.8 210.7 339.6 212.2 342.4 213.4M342.4 213.4 342.8 216.7 345.2 218.9M345.2 218.9 345.0 220.7M345.2 218.9 348.2 217.8 350.3 215.5 352.2 213.1 354.5 211.2M354.6 230.6 353.5 230.8M345.0 220.7 346.7 222.7 348.8 224.4 349.6 227.2 351.5 229.1 353.5 230.8M327.9 207.9 326.8 208.0M314.7 217.8 317.8 216.7 320.1 214.5 321.5 211.4 324.0 209.5 326.8 208.0M314.7 217.8 314.1 220.4M353.8 252.5 352.9 255.6 354.7 258.8 353.3 261.8 353.2 264.9M353.2 264.9 350.2 268.6M326.9 273.7 329.6 273.6 332.0 272.2 334.2 270.6 336.8 270.1 339.4 269.4 342.1 269.3 344.5 268.1M350.2 268.6 347.3 269.8 344.5 268.1M372.8 458.0 373.7 460.9 375.0 463.7M386.5 456.6 384.0 458.3 381.8 460.2 378.8 461.2 377.1 463.9M377.1 463.9 375.0 463.7M366.3 451.6 368.3 453.8 370.9 455.5 372.8 458.0M367.7 470.8 371.0 469.4 373.0 466.5 375.0 463.7M391.0 456.6 386.5 456.6M384.6 470.4 381.9 468.4 379.0 466.7 377.1 463.9M378.7 181.2 376.7 183.5 374.5 185.5 372.1 187.5M372.1 187.5 372.6 191.3 372.1 195.1M340.6 187.5 344.8 190.0M344.8 190.0 343.9 192.5 344.0 195.2 344.5 197.9 343.8 200.4M342.9 179.9 345.6 181.4 348.7 181.6 351.7 182.1M342.4 213.4 343.0 210.4 345.5 208.2 346.1 205.2 346.7 202.2M346.7 202.2 343.8 200.4M351.7 182.1 354.6 181.5 357.2 180.0M276.3 196.9 273.6 197.6 270.9 198.2M285.4 189.0 286.6 186.3 287.6 183.5M285.4 189.0 281.7 189.6 278.1 189.9M278.1 189.9 275.7 187.2 273.0 184.9M287.5 202.6 290.5 199.2M290.5 199.2 288.5 197.0 286.9 194.6 286.4 191.7 285.4 189.0M276.3 196.9 277.5 193.4 278.1 189.9M313.1 199.1 311.9 197.1M311.9 197.1 308.5 196.1 305.2 195.5 301.6 196.0M302.2 209.9 303.2 207.2 301.9 204.6 301.2 202.0 300.5 199.4 300.8 196.7M300.8 196.7 301.6 196.0M326.8 208.0 325.0 205.7 322.7 204.4 320.8 202.3 318.4 201.1 315.6 200.4 313.1 199.1M316.2 191.6 314.2 194.5 311.9 197.1M290.5 199.2 293.1 198.9 295.8 198.9 297.9 196.1 300.8 196.7M297.5 215.1 299.9 212.5 302.2 209.9M303.3 185.5 301.8 188.2 301.1 191.1 301.4 194.2M301.4 194.2 299.3 192.4 297.1 190.7 294.6 189.1 293.2 186.7 291.6 184.3 290.0 182.0M291.3 179.7 290.0 182.0M310.0 179.7 308.0 181.1 305.0 182.6 303.3 185.5M287.6 183.5 290.0 182.0M360.1 403.7 363.0 400.9 364.2 397.1M357.6 412.6 360.1 414.9 363.2 416.4M357.6 412.6 357.8 409.0 357.2 405.4M357.2 405.4 360.1 403.7M326.9 399.3 329.2 397.5 332.2 397.5 334.7 396.1M345.1 403.5 342.1 402.3 340.2 399.3 337.1 398.2 334.7 396.1M347.7 431.6 346.2 431.0M347.7 431.6 350.8 431.1M346.2 431.0 344.5 429.4M357.2 405.4 353.6 405.5 351.0 402.9 347.9 402.0M345.1 403.5 347.9 402.0M334.2 427.5 336.8 428.3 339.2 429.5 341.7 430.3 344.5 429.4M358.3 433.7 356.1 431.9 353.4 431.7 350.8 431.1M349.7 444.8 349.6 442.1 350.2 439.3 348.7 436.9 347.7 434.3 347.7 431.6M338.1 661.7 339.0 658.1 341.1 655.1M347.9 666.5 345.9 668.2M343.1 668.2 345.9 668.2M341.1 655.1 344.0 653.5 346.6 651.7M340.9 683.3 343.5 685.1 346.2 686.7 347.6 690.0 350.8 691.2M340.7 682.8 342.6 680.8 344.3 678.5 347.5 677.9 348.7 675.1M350.8 691.2 350.6 688.4 350.9 685.7 351.4 683.1 353.1 680.7 353.7 678.1M353.7 678.1 351.9 675.4 348.7 675.1M351.7 693.4 350.8 691.2M360.1 675.1 356.7 676.2 353.7 678.1M360.1 675.1 362.7 675.8M362.7 675.8 363.6 677.0M347.9 666.5 351.1 666.8 353.9 668.4 357.1 668.9M357.1 668.9 357.9 672.3 360.1 675.1M420.2 650.1 421.9 652.3 424.1 653.8 426.9 654.6 428.7 656.7M420.2 650.1 419.9 653.2 418.2 655.6 416.6 658.1 414.5 660.3 413.6 663.1M428.7 656.7 428.3 659.7 425.0 660.6 424.0 663.1M413.6 663.1 416.2 663.1 418.8 662.4 421.4 663.0 424.0 663.1M428.8 669.2 426.2 666.3 424.0 663.1M411.2 664.3 413.6 663.1M432.5 638.9 432.6 641.7 430.9 644.0M419.7 646.5 417.6 644.5M417.6 644.5 417.2 643.0M419.7 646.5 420.2 650.1M408.6 663.9 407.9 663.2M407.9 663.2 407.2 660.5 406.3 657.9 407.5 655.2 408.7 652.4 407.5 649.8M417.6 644.5 414.8 645.4 413.1 648.4 409.7 647.9 407.5 649.8M407.1 626.4 407.9 629.9 406.5 633.3 406.8 636.7M417.2 643.0 415.0 640.8 412.0 639.9 409.1 638.8 406.8 636.7M429.1 656.6 431.5 654.2 432.8 651.2 433.4 647.9M429.1 656.6 431.9 656.9 433.9 658.7 436.0 660.3M436.0 660.3 438.1 657.0 441.2 654.6M441.2 654.6 439.4 651.8 437.3 649.2M437.3 649.2 433.4 647.9M430.9 644.0 433.4 647.9M436.0 669.9 437.1 666.2M437.1 666.2 435.2 663.5 436.0 660.3M448.5 662.1 445.6 663.0 442.9 664.4 440.2 665.9 437.1 666.2M446.3 654.9 441.2 654.6M367.7 667.6 370.9 666.3M367.7 667.6 365.1 665.9 363.4 662.9 360.3 661.8M360.3 661.8 358.7 658.8 359.8 655.2 358.4 652.1M371.6 664.7 370.6 662.2 368.4 660.2 367.9 657.5 367.7 654.6 367.0 652.0 365.3 649.7M371.6 664.7 370.9 666.3M358.4 652.1 361.4 649.6M361.4 649.6 365.3 649.7M363.6 677.0 366.6 678.0 369.8 677.9 372.9 678.2 376.0 679.0M370.9 666.3 373.7 668.1 375.2 671.0 377.2 673.5M376.0 679.0 377.4 676.4 377.2 673.5M378.1 688.3 378.4 683.8M378.1 688.3 375.3 690.5M376.0 679.0 376.7 681.6 378.4 683.8M378.1 688.3 380.5 689.3 383.2 690.0 385.8 690.7 387.8 692.6 389.6 695.0 392.0 696.2 394.7 696.7M394.9 696.4 394.4 693.7 394.5 690.9 393.7 688.4 392.0 686.1 390.5 683.7 390.1 681.1 389.9 678.3M378.4 683.8 381.5 682.9 384.3 681.3 386.6 678.7 389.9 678.3M405.4 686.7 403.3 688.6 401.3 690.7 398.8 692.1 396.5 693.8 394.9 696.4M400.7 676.8 397.7 676.9 394.8 676.3 391.9 675.3M373.2 697.9 374.5 700.5 377.0 702.2 379.3 704.0 379.7 707.3 382.0 709.2M382.0 709.2 380.6 711.7 378.5 713.6M352.8 712.4 356.0 712.3 359.2 712.5M375.3 690.5 373.6 694.0 373.2 697.9M394.8 697.8 393.6 700.3 391.5 702.1 389.3 703.7 387.3 705.6 385.9 708.0M394.8 697.8 394.7 696.7M385.9 708.0 382.0 709.2M363.0 725.8 363.4 723.7 363.3 720.8 363.2 717.9M367.9 726.8 369.2 725.6 371.3 723.1 374.5 723.1 377.1 722.0M359.2 712.5 361.9 714.7 363.2 717.9M378.5 713.6 378.2 716.2 378.9 719.0 377.0 721.4M326.4 718.9 328.8 715.7M326.4 718.9 325.0 722.0 326.1 725.3M328.8 715.7 330.5 718.3 333.8 718.0 335.9 719.8M335.9 719.8 337.0 722.5 336.2 725.2 335.5 727.9M329.0 712.9 328.8 715.7M319.9 730.2 322.2 728.9 323.6 726.5 326.1 725.3M336.7 728.9 335.5 727.9M448.5 662.1 450.9 664.2 452.6 666.9 453.5 669.9M436.4 670.6 439.2 670.7 442.0 670.5 444.7 671.4 447.5 671.7 450.3 671.8 453.1 672.1M453.5 669.9 453.1 672.1M451.3 678.5 454.0 676.2M454.0 676.2 455.7 678.9 459.4 678.6 461.3 680.9M461.3 680.9 462.9 680.4M479.4 658.4 478.6 660.7M474.5 678.5 475.8 675.7 477.0 672.8 477.2 669.7M477.2 669.7 479.1 671.9 482.3 672.2 484.7 673.7 486.4 676.2 489.0 677.4M494.2 678.7 493.3 677.9M493.3 677.9 489.0 677.4M333.7 533.1 336.5 533.6 339.3 533.4 341.9 535.0 344.8 534.2 347.5 534.4 350.3 534.4M333.7 533.1 335.2 530.3 335.7 527.2 336.6 524.3M336.6 524.3 339.7 524.3 342.7 523.7 345.6 522.8 348.7 523.3M335.5 545.1 331.5 543.0M331.5 543.0 331.6 540.0 333.3 537.3 332.4 534.3M332.4 534.3 333.7 533.1M332.4 534.3 329.6 532.4 326.8 530.7 323.7 529.5M343.4 509.1 342.2 511.0M342.2 511.0 345.2 512.1 346.9 514.7 348.7 517.2 351.2 518.9M351.9 505.2 353.2 505.7M343.5 496.2 342.6 499.4 343.8 502.7 344.1 505.9 343.4 509.1M337.7 511.7 342.2 511.0M348.4 496.9 349.6 499.7 350.6 502.5 351.9 505.2M348.7 523.3 351.2 518.9M365.0 499.9 362.5 500.7 360.3 502.2 358.2 503.9 355.7 504.9 353.2 505.7M319.5 477.4 316.4 477.0 313.5 478.4 310.6 479.4 307.4 478.2 304.4 478.9M304.4 478.9 304.5 476.2 304.0 473.6 301.9 471.5 301.7 468.8M307.5 466.4 304.9 468.3 301.7 468.8M322.1 477.8 319.5 477.4M298.7 485.5 301.2 483.8 301.5 480.3 304.4 478.9M310.7 460.3 307.9 462.8 307.5 466.4M300.4 468.2 297.8 470.1 294.4 470.1 291.5 471.4M259.6 400.7 256.5 400.6 253.3 400.9 250.5 399.3 247.6 398.1M262.5 392.8 259.5 391.1 258.6 387.7 256.3 385.6M262.5 392.8 263.7 397.4M252.2 385.6 256.3 385.6M246.2 396.1 247.6 398.1M266.4 381.2 265.4 384.1 265.8 387.5 263.5 389.9 262.5 392.8M259.1 380.9 258.8 383.9 256.3 385.6M268.7 397.4 263.7 397.4M249.0 380.8 251.5 382.6 252.2 385.6M238.3 391.6 240.9 393.2 243.5 394.7 246.2 396.1M236.9 391.9 236.5 394.8 235.4 397.6 234.4 400.3 232.5 402.8 232.6 405.9M232.6 405.9 235.5 406.5 238.4 407.6M245.8 401.9 247.6 398.1M259.6 400.7 259.8 403.7 259.6 406.8 259.1 409.9 258.6 412.9 259.7 416.0M266.6 417.5 263.1 416.7 259.7 416.0M292.7 536.2 290.3 534.4 288.4 532.2 286.2 530.2 284.6 527.8 283.5 524.9M303.7 528.1 305.4 524.6M301.6 521.2 299.1 522.4 296.5 522.7 294.0 523.4 291.2 523.1 288.5 523.1 286.0 523.7 283.5 524.9M277.3 538.3 278.9 535.8 280.1 533.1 281.3 530.4 282.2 527.6 283.5 524.9M105.8 424.6 103.4 422.5 101.6 420.0 101.5 416.4 99.3 414.2M99.3 414.2 96.5 414.4 93.9 415.2 91.3 416.1 89.4 418.7 86.9 419.7 84.2 420.3M82.5 423.6 84.0 420.5M82.5 423.6 85.0 425.2 86.6 427.8 88.4 430.3 91.1 431.8 93.4 433.7M424.2 417.5 422.3 415.4 419.5 414.7 417.2 413.3 414.3 412.7 412.2 410.9M414.3 423.1 410.8 419.6M410.8 419.6 411.6 416.4 410.4 413.3M415.1 434.7 415.9 431.7 414.0 428.9 414.3 426.0 414.3 423.1M435.7 423.4 433.2 422.1 431.0 420.5 429.4 418.3 427.7 416.2M427.7 416.2 424.2 417.5M401.4 413.3 404.4 413.5 407.4 412.3 410.4 413.3M413.0 407.5 412.2 410.9M530.1 479.8 533.4 478.2 536.9 478.8 540.4 478.6M530.1 479.8 529.2 482.7 527.8 485.3 524.3 486.8 524.0 490.0M540.4 478.6 542.3 481.6 541.3 485.2 542.5 488.3M525.2 491.7 527.3 494.2 530.5 494.7M525.2 491.7 524.0 490.0M536.4 495.1 540.1 493.4M540.1 493.4 542.5 491.4 542.5 488.3M543.0 476.2 540.4 478.6M522.2 489.5 524.0 490.0M517.8 508.5 518.1 505.8 519.3 503.4 520.9 501.3 522.5 499.1 523.3 496.6 524.2 494.2 525.2 491.7M531.1 508.7 530.4 505.9 530.2 503.1 532.2 500.3 530.6 497.5 530.5 494.7M543.9 508.9 542.2 506.9 541.8 504.1 540.8 501.7 539.6 499.3 538.0 497.3 536.4 495.1M212.2 574.8 209.3 574.5 207.1 572.7 204.6 571.6M198.1 574.5 199.3 572.8M204.6 571.6 202.2 573.4 199.3 572.8M233.6 567.8 231.4 566.1M233.6 567.8 234.0 568.7M217.4 571.6 219.8 569.2 221.1 566.0M230.7 581.1 229.0 582.4M225.7 583.3 229.0 582.4M221.1 566.0 224.5 566.0 227.9 566.8 231.4 566.1M245.1 558.3 248.1 558.3 250.6 559.9 253.4 560.7M253.4 560.7 256.6 558.4 259.1 555.5M253.3 545.2 250.6 544.3 248.0 545.3 245.4 545.6M245.1 558.3 242.9 560.3 240.2 561.7 238.0 563.8 236.5 566.7 233.6 567.8M231.2 553.9 234.0 551.5M116.6 436.9 117.8 434.4 119.8 432.2 121.6 430.0 122.9 427.4M116.6 436.9 115.0 434.4 112.1 433.5 109.4 432.4 107.9 429.7M107.9 429.7 105.8 425.1M105.8 424.6 108.8 424.2 111.6 423.0M122.9 427.4 120.3 425.8 117.8 423.8 114.7 423.3 111.6 423.0M209.9 378.5 209.2 381.2 209.3 383.9 210.1 386.7 210.3 389.4 209.3 392.0 209.0 394.7M209.0 394.7 212.0 396.2 215.4 395.1 218.3 396.5M232.5 405.9 229.9 405.4 227.4 404.4 225.5 402.0 222.7 401.8 220.1 401.2M218.3 396.5 220.1 401.2M220.1 401.2 219.4 404.6 218.9 407.9M218.9 407.9 216.2 408.8 213.4 409.3 210.5 409.6 208.4 412.5 205.7 413.3 202.6 413.1M184.2 398.9 184.8 401.4M184.8 401.4 187.1 404.5 190.5 406.5M78.0 338.2 75.3 339.2M79.1 426.1 82.5 423.6M93.4 433.7 91.5 435.9 89.7 438.3 87.2 439.7 84.8 441.4M77.6 432.5 79.1 435.0 80.2 437.8 82.4 439.7 84.8 441.4M72.3 404.0 72.0 405.7M82.5 403.4 81.8 406.3 82.1 409.1 83.2 411.8 85.0 414.5 84.0 417.5 84.2 420.3M134.0 384.1 133.0 386.6 131.1 388.5 128.4 389.8 127.8 392.6M142.5 389.3 140.9 391.7 138.3 392.9 135.8 394.3 134.3 396.7M127.8 392.6 130.3 395.9 134.3 396.7M299.5 695.7 297.1 696.9 296.3 698.0M296.0 683.9 293.1 683.1 290.1 683.0 287.7 681.0 285.0 680.2M282.6 684.8 283.1 682.1 285.0 680.2M442.4 726.6 440.9 729.2 438.1 730.4M442.4 726.6 444.9 728.2 447.8 728.1M438.1 730.4 438.6 733.0 440.5 735.2 440.4 737.9 440.6 740.5M451.6 739.7 449.0 740.7 446.6 742.1M446.6 742.1 442.1 741.7M442.1 741.7 440.6 740.5M443.5 715.1 442.9 717.9 443.8 720.9 443.2 723.8 442.4 726.6M454.9 722.3 452.5 724.2 450.1 726.1 447.8 728.1M431.3 741.3 434.4 741.8 437.4 740.0 440.6 740.5M449.7 754.3 449.3 751.2 448.3 748.2 446.9 745.2 446.6 742.1M404.8 737.2 406.4 735.0 409.2 733.9 410.3 731.3 411.7 728.9 413.9 727.4M404.8 737.2 405.0 741.8M431.3 741.3 429.4 744.1 428.6 747.5 426.6 750.2M420.1 748.3 421.5 749.4M426.6 750.2 421.5 749.4M327.0 546.2 324.0 546.0 321.5 544.6 319.2 542.7 316.4 541.9M327.0 546.2 325.2 548.7 325.1 551.8 324.9 554.8 323.8 557.6M316.4 541.9 313.6 542.9 310.6 543.5 308.2 545.6M326.7 563.0 324.8 560.5 323.8 557.6M310.1 561.4 312.8 561.0 315.6 560.5 318.3 560.1 320.6 558.0 323.3 557.5M290.8 579.7 288.9 576.4 287.3 572.8M290.8 579.7 293.6 579.7 296.4 578.5 299.1 579.4 301.9 580.0M305.9 575.3 305.6 576.3M301.9 580.0 305.6 576.3M365.8 624.5 365.1 621.6 364.3 618.7 362.0 616.4 360.3 613.8 360.3 610.6 358.8 607.9M368.5 622.7 366.5 624.4M358.8 607.9 361.2 603.8M361.2 603.8 359.0 601.5 356.0 600.1 353.9 597.7 352.0 595.1M350.3 588.2 350.9 591.5 349.4 594.5M349.4 594.5 352.0 595.1M340.8 576.8 338.9 579.1 338.3 581.9 338.1 584.7 338.5 587.8 337.7 590.4 336.7 593.1 335.3 595.6M324.0 582.0 326.4 584.1 325.7 587.5 327.3 590.0M327.3 590.0 330.5 591.1 332.3 594.2 335.3 595.6M267.8 632.8 270.7 633.4 273.5 633.0 276.2 631.6M267.8 632.8 267.6 629.5 265.9 626.5M276.2 631.6 275.6 628.8 277.7 626.3 277.5 623.6 277.4 620.8M265.9 626.5 267.2 623.2 269.9 620.9 271.4 617.7M271.4 617.7 275.5 617.7M275.5 617.7 277.4 620.8M284.9 636.8 284.7 633.7 285.8 630.9 286.6 628.0 286.6 625.0M286.6 625.0 283.1 624.6 280.5 622.2 277.4 620.8M266.0 613.2 263.5 614.5 260.5 615.0 258.3 617.0M266.0 613.2 268.3 615.9 271.4 617.7M260.1 624.7 259.3 622.0 257.7 619.6M260.1 624.7 262.9 625.9 265.9 626.5M290.8 579.7 289.6 584.4M301.9 580.0 301.6 582.8 301.2 585.7 303.1 588.3 303.1 591.1 303.1 594.0M289.6 584.4 292.0 585.7 294.1 587.6 296.2 589.4 298.0 591.6 300.7 592.6 303.1 594.0M263.3 577.8 264.9 575.6 265.9 573.0 268.2 571.4 269.9 569.2M263.3 577.8 260.5 578.4 258.1 577.6 255.7 576.1 253.2 575.5 250.6 575.1M226.7 599.1 228.1 601.9 231.4 603.2 232.7 606.2M236.4 606.3 237.5 603.8 237.0 601.0 236.3 598.1 237.8 595.7 238.5 593.0M223.3 597.9 226.7 599.1M225.2 614.6 226.8 612.2 228.5 610.0 230.0 607.5 232.7 606.2M225.2 614.6 222.1 612.2 218.3 611.2M218.3 611.2 217.4 607.6 217.4 603.9M243.6 589.5 243.3 587.0M243.6 589.5 240.4 590.3 238.5 593.0M308.6 673.5 306.5 672.1M296.0 683.9 297.0 680.7 300.0 678.5 300.6 675.0M306.5 672.1 303.9 674.3 300.6 675.0M271.6 677.0 268.5 676.8 265.4 677.1 264.1 676.7M279.8 671.8 281.6 673.7 282.6 676.2 284.8 677.8M274.6 672.4 272.3 674.2 271.6 677.0M274.6 672.4 277.2 672.5 279.8 671.8M285.0 680.2 284.8 677.8M273.8 659.5 271.3 660.9M271.3 660.9 270.2 663.3M260.1 624.7 258.1 626.4 256.4 628.5 253.9 629.6 252.2 631.7M251.3 621.8 254.6 620.9 257.7 619.6M251.3 621.8 250.6 624.6 251.1 627.5 250.1 630.1M250.1 630.1 252.2 631.7M274.3 645.8 271.4 643.3 268.9 640.3M274.3 645.8 271.7 647.1 269.4 649.1 267.4 651.5 264.1 651.9M268.9 640.3 266.8 642.3 264.6 644.1 261.5 644.4 259.1 645.8M264.1 651.9 262.2 650.1 259.7 648.7 259.1 645.8M273.8 659.5 275.9 657.4 275.9 654.5 276.3 651.8 277.3 649.3 278.4 646.8M278.4 646.8 274.3 645.8M264.1 652.5 266.1 654.4 268.4 656.2 269.7 658.7 271.3 660.9M393.2 216.0 393.0 219.8 394.3 223.4M394.3 223.4 396.0 225.5 398.5 226.5 401.5 226.7 402.9 229.3M400.0 238.4 399.6 237.1M402.9 229.3 400.8 231.5 402.0 235.0 399.6 237.1M386.0 218.0 385.8 220.7 385.8 223.5 384.5 226.1 384.3 228.8M376.4 217.8 377.3 220.7 378.6 223.5 378.5 226.5 377.8 229.6M377.8 229.6 381.7 232.4M381.7 232.4 384.3 228.8M393.2 216.0 389.4 216.2 386.0 218.0M394.3 223.4 391.2 223.7 389.7 226.9 386.8 227.5 384.3 228.8M368.6 228.8 371.6 229.4 374.8 228.6 377.8 229.6M367.7 216.1 370.5 217.2 373.6 216.8 376.4 217.8M379.1 208.7 376.3 207.9 373.2 209.1 370.7 206.4 367.7 206.9M360.5 232.3 361.7 234.8 362.1 237.7 364.1 239.8 367.0 241.4 367.6 244.2 368.5 246.9M353.5 230.8 351.2 232.8 349.8 235.6M349.8 235.6 346.9 235.2 344.0 235.0 341.1 234.7 338.3 233.9 335.5 233.0 332.5 233.7 329.6 233.0M326.6 241.0 327.6 239.9M327.6 239.9 327.5 236.1 329.6 233.0M547.7 383.3 547.6 381.3M547.6 381.3 549.6 379.5 550.7 376.7 553.9 376.2 555.6 374.2 557.4 372.2M555.4 367.7 555.1 368.7M557.4 372.2 555.1 368.7M352.1 202.7 354.9 202.0 357.7 201.4 360.5 200.9 363.6 202.1 366.3 200.8M366.3 200.8 367.8 197.2M346.7 202.2 351.5 202.2M372.1 195.1 367.8 197.2M354.5 211.2 353.2 208.5 353.8 205.2 352.1 202.7M367.7 206.9 367.9 203.7 366.3 200.8M266.0 196.3 265.4 192.9 267.4 189.7 266.8 186.3M266.0 196.3 263.2 197.5 261.0 199.6M261.0 199.6 256.4 200.3M257.7 183.6 260.5 182.6 263.2 183.6M257.7 183.6 256.8 186.5 255.4 189.0 252.9 190.7 250.3 192.4 249.1 195.1M256.4 200.3 254.7 197.5 251.1 197.4 249.1 195.1M270.9 198.2 268.5 197.0 266.0 196.3M273.0 184.9 270.1 186.6 266.8 186.3M255.3 210.6 256.0 207.2 256.1 203.7 256.4 200.3M254.5 179.7 255.0 181.4 257.7 183.6M264.6 179.7 263.7 181.0 263.2 183.6M324.3 383.5 327.1 382.6 328.7 379.8 331.2 378.4M336.6 390.8 335.0 388.5 333.0 386.4 332.5 383.7 332.2 380.9 331.2 378.4M318.5 368.9 320.7 370.3 322.3 372.7 324.7 373.8 326.9 375.3 329.7 375.9 331.3 378.2M328.5 361.1 329.7 363.7 330.4 366.4 329.7 369.4 330.6 372.0 330.9 374.8 332.4 377.3M332.4 377.3 331.3 378.2M407.5 649.8 405.8 648.6M404.7 638.9 404.5 642.2 406.3 645.2 405.8 648.6M390.0 616.4 389.9 619.8 387.3 622.7 387.9 626.2M395.7 628.7 393.3 627.3 390.2 627.9 387.9 626.2M377.8 621.6 381.2 622.5 382.7 626.2 386.2 626.9M387.9 626.2 386.2 626.9M371.0 630.4 374.2 631.1 376.5 633.5 379.3 635.0M371.0 630.4 370.5 633.2 369.4 636.0 370.0 638.9 371.2 641.8 370.0 644.6 369.7 647.4M379.3 635.0 378.4 638.6 377.8 642.3M364.4 625.1 362.7 627.2 362.5 630.3 361.0 632.6 359.1 634.6 357.4 636.7M364.4 625.1 365.8 624.5M357.4 636.7 358.2 639.3 360.1 641.5 360.2 644.3 361.6 646.7 361.4 649.6M368.5 648.8 369.7 647.4M368.5 648.8 365.3 649.7M410.9 720.8 407.8 721.8 404.9 720.4 401.9 720.1 398.8 720.0M410.9 720.8 413.0 718.5 414.0 715.8 414.1 712.7 415.4 710.1M398.8 720.0 400.4 717.5 400.4 714.8 399.2 711.8 400.3 709.3 401.6 706.8 402.0 704.1M402.0 704.1 404.8 705.3 408.1 704.1 410.6 706.3 413.5 706.8M415.4 710.1 413.5 706.8M413.9 727.4 411.4 724.6 410.9 720.8M424.7 711.6 421.5 711.6 418.6 709.5 415.4 710.1M394.8 697.8 396.4 700.8 399.8 701.8 402.0 704.1M420.0 687.9 419.0 690.5 418.9 693.5 417.3 696.0 415.6 698.4 414.8 701.2 414.1 704.0 413.5 706.8M391.9 675.3 390.5 672.9 389.5 670.3M407.9 663.2 405.2 662.2 402.2 662.4 399.6 660.7 397.1 659.2 394.0 659.4M389.5 670.3 390.2 667.4 392.1 665.0 393.6 662.4 394.0 659.4M368.5 648.8 371.1 650.3 374.1 651.0 376.5 652.7 379.2 653.9 381.4 656.1M476.0 664.6 476.6 662.2M476.0 664.6 473.5 666.6 470.9 668.0 467.9 668.9M467.9 668.9 464.8 667.4 461.5 666.6 458.1 666.4M478.6 660.7 476.6 662.2M477.2 669.7 476.0 664.6M462.9 680.4 464.0 677.4 466.3 675.0 467.6 672.2 467.9 668.9M453.5 669.9 455.7 667.9 458.1 666.4M211.3 602.3 208.8 603.3M201.5 593.9 200.7 596.8 202.2 599.5M202.2 599.5 205.6 601.3 208.8 603.3M310.7 460.3 307.5 460.1 305.7 457.5 303.1 456.2M300.4 468.2 300.5 464.9 299.1 462.0 297.9 459.1M295.6 512.0 293.2 513.7 290.7 515.1 287.7 515.5 285.0 516.4 282.2 517.1 280.1 519.3M289.7 503.3 287.4 504.6 285.4 506.3 283.6 508.3 281.3 509.6M281.3 509.6 281.3 512.9 279.4 516.0 280.1 519.3M282.4 491.7 283.7 494.1 285.8 496.1 287.7 498.1 288.4 500.9 289.7 503.3M301.6 521.2 300.3 518.7 298.5 516.7 296.5 514.6 295.6 512.0M105.6 444.1 103.7 441.0M105.6 444.1 103.5 446.9 100.2 448.2 97.4 450.1M97.4 450.1 95.8 447.2 94.3 444.3M84.8 441.4 85.3 444.4M85.3 444.4 88.3 444.2 91.3 444.8 94.3 444.3M107.9 429.7 106.7 432.5 107.2 435.9 104.4 438.0 103.7 441.0M420.6 382.0 418.5 384.6 417.9 387.8 416.6 390.7M406.4 384.4 408.8 385.9 408.8 389.1 410.1 391.4 412.6 392.8M412.6 392.8 416.6 390.7M403.1 383.9 406.4 384.4M423.6 394.3 424.7 391.1 426.6 388.2M423.6 394.3 424.3 397.2 426.2 399.7 426.0 402.8M437.6 400.4 437.2 401.6M437.2 401.6 434.3 401.7 431.9 403.1 429.2 404.0M429.2 404.0 426.0 402.8M420.6 382.0 422.8 383.8 424.5 386.2 426.6 388.2M416.6 390.7 419.5 390.9 421.1 393.6 423.6 394.3M450.9 394.1 448.2 395.2 445.9 397.3 443.4 398.9 440.3 399.2 437.6 400.4M427.7 416.2 429.1 413.3 429.5 410.2 428.9 407.1 429.2 404.0M193.4 560.8 191.9 558.1 189.7 555.9M193.4 560.8 191.0 562.3 188.1 563.1 186.4 565.5 185.0 568.2 182.5 569.5M198.1 574.5 195.6 573.3 193.0 572.2 190.4 571.4 187.5 571.9 184.9 571.0 182.2 570.3M194.4 561.2 194.8 564.4 196.7 567.0 198.6 569.7 199.3 572.8M194.4 561.2 193.4 560.8M182.2 570.3 182.5 569.5M267.2 525.2 269.0 527.7 271.4 530.0 272.0 533.2 272.5 536.4 274.3 539.0M267.2 525.2 264.6 525.9M265.1 543.2 264.3 540.6 261.8 538.6 262.1 535.5 261.2 532.8 259.7 530.4M259.7 530.4 261.8 527.8 264.6 525.9M129.2 444.1 128.6 447.2M128.6 447.2 125.5 449.0 124.8 452.5M124.8 452.5 122.6 454.6 119.5 454.7M77.6 432.5 76.7 433.3M85.3 444.4 84.2 447.2 83.6 450.1 81.4 452.3M81.4 452.3 79.8 452.4M74.0 456.4 77.6 455.3 79.8 452.4M79.1 426.1 76.1 426.2 74.7 425.2M134.5 407.1 132.2 408.6M132.2 408.6 129.3 406.9 125.7 407.0 123.0 405.0M110.4 393.0 112.4 394.9 114.5 396.7 115.7 399.2 117.0 401.6 118.1 404.2 120.4 405.9M123.0 405.0 120.4 405.9M93.8 403.0 95.6 405.8 97.3 408.6 100.3 410.3M83.4 402.7 86.9 402.6 90.4 402.3 93.8 403.0M118.0 408.9 120.4 405.9M99.3 414.2 100.3 410.3M111.6 423.0 114.1 421.8 115.8 419.7 117.6 417.8 119.5 416.0M119.5 416.0 119.6 412.3 118.0 408.9M372.2 739.5 373.3 738.0 375.1 735.6 377.1 733.7 380.0 733.0M381.4 741.2 381.3 740.8 381.1 738.1 380.9 735.4 380.0 733.0M377.1 722.0 379.8 724.0 380.0 727.6 382.0 730.1M380.0 733.0 382.0 730.1M402.4 746.5 404.5 749.1 406.1 750.4M420.1 748.3 417.9 750.5 414.5 750.2 414.3 750.2M405.0 741.8 403.6 744.1 402.4 746.5M421.5 749.4 420.2 752.3 419.6 753.4M437.1 760.1 437.6 757.6M437.6 757.6 436.2 754.7M448.1 757.0 445.5 757.5 442.9 758.0 440.2 757.6 437.6 757.6M442.1 741.7 441.2 744.4 439.4 746.7 437.5 749.0 436.9 751.9 436.2 754.7M309.5 624.2 312.8 621.2M316.9 637.9 319.0 635.8 319.5 633.0 319.6 629.9 322.7 628.4 323.3 625.6M313.2 621.2 316.1 621.7 318.2 623.6 320.7 624.9 323.3 625.6M322.0 644.0 324.7 642.3 327.6 641.2 330.0 639.2 332.3 637.1M332.3 637.1 335.6 638.8 338.5 641.3M316.9 637.9 317.2 639.6M327.2 625.2 327.9 628.0 330.5 629.5M332.3 637.1 330.8 633.4 330.5 629.5M346.6 651.7 344.8 649.3 343.9 646.4 342.8 643.5 340.4 641.5M340.4 641.5 338.5 641.3M357.4 636.7 354.9 635.7 352.3 635.6 349.5 636.2 347.1 635.0M340.4 641.5 342.1 638.8 343.9 636.2 347.1 635.0M347.1 635.0 345.7 630.1M353.6 620.9 351.5 623.0 349.2 625.1 347.6 627.7 345.7 630.1M353.6 620.9 351.1 619.0 349.6 616.2 347.9 613.6M303.1 594.0 303.8 595.6M254.8 597.3 258.1 600.9M254.8 597.3 250.7 596.7M258.1 600.9 256.8 603.7 256.3 606.9 253.3 608.7 252.4 611.6M250.7 596.7 249.3 599.0 247.8 601.2 244.9 602.0 243.1 603.9 240.5 605.1 239.3 607.6M239.3 607.6 240.6 611.3 243.3 614.0M258.9 587.7 257.0 589.7 257.1 592.6 256.9 595.4 254.8 597.3M258.3 617.0 255.3 616.2 254.6 613.1 252.4 611.6M236.4 606.3 239.3 607.6M240.3 619.7 241.5 622.1 240.8 625.2 242.8 627.2 244.3 629.4M240.3 619.7 242.8 617.5 243.3 614.0M244.3 629.4 247.2 629.6 250.1 630.1M285.0 590.3 284.3 593.1 284.0 595.9 283.5 598.7 281.5 601.2 281.6 604.1M279.4 604.8 281.6 604.1M275.5 617.7 276.9 615.9M276.9 615.9 277.8 613.2 278.6 610.4 277.6 607.3 279.4 604.8M275.0 580.5 271.7 582.3 268.0 580.9 264.7 582.2M275.0 580.5 276.6 583.8 276.6 587.5M276.6 587.5 272.8 588.4 269.5 590.6M269.5 590.6 267.3 589.0 264.9 587.9 262.6 586.5M262.6 586.5 264.7 582.2M276.1 575.3 275.2 577.9 275.0 580.5M258.9 587.7 262.6 586.5M279.7 520.0 277.7 520.0M268.0 506.0 269.7 508.2 271.7 510.3 273.1 512.8 274.9 515.0 275.8 517.9 277.7 520.0M283.1 477.2 281.1 475.4 280.9 472.4 278.6 470.8M268.3 481.1 268.9 478.0 269.6 475.0 272.1 472.7M272.1 472.7 275.6 472.8 278.6 470.8M291.5 471.4 289.8 468.5 287.7 465.8 286.4 462.7M286.4 462.7 283.2 462.9 280.3 464.5M278.6 470.8 279.2 467.6 280.3 464.5M268.3 481.1 265.7 478.6 262.7 477.0 259.8 475.1M259.8 475.1 257.8 477.6 255.1 479.2 253.6 482.0M262.0 666.9 262.9 665.6M262.0 666.9 258.9 666.4 255.9 666.9 252.8 667.4M252.8 667.4 251.2 665.7M251.2 665.7 252.6 663.0 251.2 660.2 251.5 657.4M251.5 657.4 255.0 657.1 258.3 658.1M270.2 663.3 266.4 664.0 262.9 665.6M262.8 674.2 263.1 673.0 262.7 670.0 262.0 666.9M264.1 652.5 262.2 654.3 259.7 655.7 258.3 658.1M248.5 667.3 251.2 665.7M222.6 653.2 223.2 656.3 222.8 657.1M222.6 653.2 223.9 651.7M226.5 650.2 223.9 651.7M226.0 628.1 229.3 628.7 232.6 627.7M226.0 628.1 226.0 624.6 223.9 621.8M225.6 617.1 228.6 617.4 230.9 620.2 234.2 619.8 237.1 620.9M225.6 617.1 223.9 621.8M237.1 620.9 235.9 623.3 235.0 626.0 232.6 627.7M209.7 623.6 210.9 626.2 212.1 628.8 214.6 630.4 217.5 631.7 218.3 634.7M209.7 623.6 212.5 623.3 215.3 622.8 218.3 623.2 221.1 622.4 223.9 621.8M225.2 614.6 225.6 617.1M240.3 619.7 237.1 620.9M307.7 644.4 304.3 644.2M304.3 644.2 302.0 642.6 299.5 641.3 298.4 638.4M278.4 646.8 282.4 646.6 285.9 644.5M284.9 636.8 286.2 639.1 287.3 641.6M287.3 641.6 285.9 644.5M287.4 624.4 290.3 625.3 293.3 625.6 296.3 625.8M296.3 625.8 297.4 628.9 296.5 632.2 296.7 635.3 297.9 638.4M309.5 624.2 306.7 624.1 304.0 623.8 301.5 622.2 298.8 622.2M296.3 625.8 298.8 622.2M251.5 657.4 251.0 656.8M251.7 644.5 252.0 647.6 251.2 650.6 250.1 653.7 251.0 656.8M240.1 664.7 242.4 666.4M240.1 664.7 241.1 661.1 242.8 657.8M242.8 657.8 245.6 657.8 248.2 656.5 251.0 656.8M351.9 250.8 350.8 247.9 348.6 245.4 348.7 242.0M353.8 252.5 351.9 250.8M349.8 235.6 349.5 238.8 348.7 242.0M413.6 189.7 416.3 187.4 416.2 186.0M533.8 368.3 533.3 364.6 534.8 361.1M549.8 367.4 548.2 365.2 547.2 362.7 547.5 359.7 545.9 357.5M534.8 361.1 538.2 357.3M540.5 356.5 543.2 357.2 545.9 357.5M555.1 368.7 552.5 367.9 549.8 367.4M522.0 373.1 524.5 370.9 527.9 370.8 531.2 370.5 533.8 368.3M524.3 356.9 527.1 357.6 530.0 357.9 532.6 359.1 534.8 361.1M548.7 356.8 548.4 356.8 545.9 357.5M531.9 346.5 533.2 349.4 536.0 351.4 537.7 354.0 538.2 357.3M544.0 346.4 544.0 346.5 542.2 348.8 541.8 351.4 540.3 353.7 540.5 356.5M354.6 358.2 354.7 361.2 352.3 363.5 352.2 366.4 351.6 369.2M347.9 402.0 348.1 399.3 348.8 396.7M336.6 390.8 339.4 391.1 342.0 389.3 344.8 389.7M348.8 396.7 348.7 393.7 346.1 392.1 344.8 389.7M386.5 646.0 386.7 648.8 388.2 651.2 388.5 653.9M397.5 640.3 394.4 638.1M397.6 648.5 395.1 650.4 393.3 652.9 391.2 655.1M391.2 655.1 388.5 653.9M395.7 628.7 395.2 631.8 393.5 634.8 394.4 638.1M377.8 642.3 380.8 643.3 384.0 643.7 386.5 646.0M381.4 656.1 384.6 653.8 388.5 653.9M404.7 638.9 401.1 639.8 397.5 640.3M405.8 648.6 403.1 648.1 400.3 649.9 397.6 648.5M149.9 586.9 150.0 587.1 152.1 589.4M151.6 576.0 152.4 576.4 155.1 577.7 158.3 577.8 160.7 579.6M149.7 591.1 152.0 590.0M305.3 428.0 301.0 430.0M293.9 429.3 291.9 426.4 290.6 423.2 288.5 420.4M288.5 420.4 286.7 420.6M266.6 417.5 268.8 420.1 270.1 423.1 270.6 426.4M286.7 420.6 284.5 422.1 282.9 424.1 282.1 427.0 280.4 429.0 277.7 430.0M270.6 426.4 273.1 427.4 275.0 429.4 277.7 430.0M270.6 426.4 267.8 428.2 265.7 430.6 263.7 433.1M263.7 433.1 262.9 436.3 264.7 439.3 264.5 442.4M264.5 442.4 267.9 441.8M282.2 447.3 279.4 446.0 276.7 444.5 273.5 444.5 270.6 443.5 267.9 441.8M297.9 459.1 294.8 457.0 291.1 456.7M293.9 429.3 292.1 431.5 291.2 434.1 291.8 437.1 290.5 439.5M142.2 572.4 143.3 570.4M143.3 570.4 145.8 571.5 148.6 571.3M216.2 559.9 213.4 560.3 211.2 562.5 208.2 562.3M216.2 559.0 214.8 556.3 214.0 553.2 211.3 551.2 209.2 548.9 208.1 546.0M208.2 562.3 206.3 560.4 203.2 559.8 201.9 557.1M201.9 557.1 202.7 554.5 202.7 551.6 204.3 549.2M204.3 549.2 208.1 546.0M231.2 553.9 228.8 552.8 226.2 551.9 224.2 550.2M221.1 566.0 217.9 563.6 216.2 559.9M224.2 550.2 221.5 551.8 219.9 554.3 218.7 557.2 216.2 559.0M194.4 561.2 197.2 560.4 198.8 557.3 201.9 557.1M189.7 555.9 190.1 553.3 189.5 550.7 189.7 548.1M194.5 537.5 197.5 538.1 200.3 539.2 203.5 539.3 206.3 540.7 209.1 541.9M253.3 545.2 253.6 541.7 253.8 538.3 253.6 534.8M259.7 530.4 257.1 531.0M253.6 534.8 255.0 532.6 257.1 531.0M131.2 418.1 127.5 420.5M122.9 427.4 126.1 426.2M127.5 420.5 127.4 423.5 126.1 426.2M129.2 444.1 130.2 443.2M130.2 443.2 130.9 440.4 130.5 437.7 129.7 435.1 128.1 432.5 128.8 429.7M126.1 426.2 128.8 429.7M130.2 443.2 132.7 441.7 135.6 441.3 138.5 440.8M131.2 418.1 134.1 418.0 136.5 419.2 138.5 421.3 141.1 422.0M141.1 422.0 142.7 424.5 143.8 427.3M134.5 407.1 137.4 408.1 139.3 410.7 141.6 412.7 144.5 413.7M148.8 405.1 149.6 407.7 150.5 410.2M144.5 413.7 147.8 412.4 150.5 410.2M113.4 534.5 114.6 534.5M116.3 534.8 118.6 535.9 121.6 534.8 124.6 534.2M81.5 452.4 81.9 455.2 83.8 457.6 84.3 460.3 84.5 463.2 85.0 465.9M85.0 465.9 83.3 469.5M106.8 522.9 106.3 522.4 103.6 520.9M109.1 503.7 110.3 502.6M110.3 502.6 111.9 505.7 115.6 506.9 117.1 510.1M103.6 520.9 102.4 518.2 102.8 515.3M315.8 604.6 317.7 603.1M317.7 603.1 320.8 602.4 323.9 603.3 327.0 603.1 330.1 602.8M330.1 602.8 328.2 605.5 326.9 608.7 325.2 611.6M327.2 625.2 329.5 621.0M329.5 621.0 328.2 617.8 325.9 615.1 325.2 611.6M347.1 613.3 345.8 615.9 343.2 616.9 341.3 618.8M338.9 598.9 338.4 601.7 337.8 604.5 336.5 607.1 336.1 609.9 334.1 612.2 333.1 614.8 332.1 617.5 331.1 620.1M331.1 620.1 334.5 619.7 337.8 618.3 341.3 618.8M347.9 613.6 347.1 613.3M349.4 594.5 346.6 594.8 344.2 596.2 342.2 598.3 339.5 599.1M329.5 621.0 331.1 620.1M315.8 604.6 313.2 605.3 310.5 603.7 307.8 604.8 305.2 604.7M303.7 596.1 303.7 599.1 305.5 601.7 305.2 604.7M285.0 590.3 287.1 592.5 290.3 593.4 291.9 596.3M303.7 596.1 300.7 595.6 297.8 597.3 294.8 596.5 291.9 596.3M281.6 604.1 284.3 605.9 287.4 605.5M291.9 596.3 289.3 598.8 288.7 602.3 287.4 605.5M244.1 469.6 245.4 472.1 247.2 474.4 247.5 477.2 247.9 480.0M244.1 469.6 245.2 468.9M247.9 480.0 251.0 480.1 253.6 482.0M289.4 653.5 292.1 653.6 294.9 653.7 297.7 654.0 300.5 653.4 303.3 653.7M303.3 653.7 304.0 656.6 305.4 659.1 307.5 661.2M307.5 661.2 306.1 664.7M306.5 672.1 305.7 668.4 306.1 664.7M285.9 644.5 288.3 647.0 289.2 650.1 289.4 653.5M309.6 660.0 307.5 661.2M242.6 644.0 239.5 644.9 236.5 646.2 234.4 648.8M242.6 644.0 241.4 641.4 242.3 638.3 242.1 635.4 240.2 632.9M237.4 632.7 235.4 634.9 233.3 636.9 230.4 637.9 228.3 640.0 226.4 642.3M237.4 632.7 240.2 632.9M234.4 648.8 231.0 648.9 227.5 649.0M227.5 649.0 225.7 645.8 226.4 642.3M251.7 644.5 248.8 642.9 245.6 644.9 242.6 644.0M242.8 657.8 241.0 655.3 238.4 653.5 235.6 651.9 234.4 648.8M232.6 627.7 235.3 629.9 237.4 632.7M226.5 650.2 227.5 649.0M344.8 389.7 345.6 387.5M351.6 369.2 349.5 371.0 347.9 373.3M354.5 392.4 355.4 389.7 354.8 386.8 355.3 384.0M354.5 392.4 356.9 393.4 359.7 393.7 362.0 394.8 364.2 396.4M368.7 388.7 367.7 386.2 365.1 384.7 364.1 382.2M368.7 388.7 367.9 391.7 364.8 393.3 364.2 396.4M364.1 382.2 362.0 381.5M362.0 381.5 359.4 381.9 356.7 382.0M348.8 396.7 351.7 394.7 354.5 392.4M345.6 387.5 349.1 387.0 352.1 385.1 355.3 384.0M372.9 371.6 370.5 373.2 369.0 375.5 367.8 378.0 366.6 380.6 364.1 382.2M371.5 388.9 368.7 388.7M347.9 373.3 349.4 376.2 352.6 377.4 354.6 379.7 356.7 382.0M160.7 579.6 163.1 578.5M152.0 590.0 153.9 591.7M165.6 591.0 164.1 588.1 164.3 584.8 164.1 581.6 163.1 578.5M203.3 654.0 204.0 651.8 202.1 649.6M191.7 647.6 194.4 647.6 197.0 648.2 199.3 650.1 202.1 649.6M191.7 647.6 190.7 648.6M222.6 653.2 220.2 654.6 217.3 653.8 214.7 654.0 212.1 654.3 210.8 654.7M191.7 647.6 190.1 645.4M280.3 464.5 278.5 461.8 274.9 461.6 272.9 459.2M272.9 459.2 270.5 462.3 266.9 463.8M282.2 447.3 280.8 449.7 278.6 451.5 276.5 453.3 274.4 455.1 273.0 457.5M272.9 459.2 273.0 457.5M266.9 463.8 265.1 461.4 262.7 459.7 259.9 458.5 257.8 456.5M247.0 454.8 250.5 454.5 253.4 452.8 256.0 450.6M247.0 454.8 246.2 457.6 246.3 460.5 246.2 463.3 246.0 466.1 245.2 468.9M257.8 456.5 256.6 453.6 256.0 450.6M291.7 440.1 293.8 442.4 294.6 445.6 297.2 447.4M291.7 440.1 294.5 440.4 297.2 439.5 299.9 438.7 302.7 439.2M297.2 447.4 300.9 447.2 304.6 447.8M302.7 439.2 305.7 440.1 307.3 442.9M307.3 442.9 305.9 446.7M305.9 446.7 304.6 447.8M291.1 456.7 292.2 454.1 294.2 452.1 296.0 449.9 297.2 447.4M290.5 439.5 291.7 440.1M301.0 430.0 301.9 433.0 302.8 436.0 302.7 439.2M303.1 456.2 303.4 453.4 304.7 450.7 304.6 447.8M308.8 441.9 307.3 442.9M314.9 454.0 312.1 452.9 309.6 451.3 308.3 448.4 305.9 446.7M181.8 570.8 179.2 569.2 176.2 569.1 173.5 568.4M173.5 568.4 172.7 565.5 172.4 562.4 172.4 559.4 171.0 556.6M234.0 551.5 233.9 548.8 234.1 546.0 233.2 543.4 232.9 540.7 232.8 538.0M245.4 545.6 243.0 543.7 242.1 540.9 240.5 538.5M240.5 538.5 236.7 538.2 232.8 538.0M240.5 538.5 242.2 535.8 244.3 533.4M128.6 447.2 130.8 448.7 133.0 450.3 134.4 452.8 136.6 454.5 139.1 455.7M138.5 440.8 139.3 443.4 140.8 445.6 143.1 447.2 144.1 449.7M144.1 449.7 141.6 452.7 139.1 455.7M152.2 411.0 155.4 412.8 156.6 416.2M152.2 411.0 154.5 409.3 155.9 406.6 157.9 404.6 160.7 403.5 162.9 401.8 164.9 399.8M156.6 416.2 159.6 415.6 162.8 415.6 165.8 415.1 168.9 414.7 171.8 413.6M164.9 399.8 167.0 399.7M167.0 399.7 169.0 401.9 169.6 404.6 169.5 407.6 170.3 410.2 171.8 412.5M171.8 412.5 171.8 413.6M153.9 425.4 155.4 422.6 154.6 419.0 156.6 416.2M153.9 425.4 150.3 424.7 147.4 427.9 143.8 427.3M150.5 410.2 152.2 411.0M156.5 397.4 159.1 399.1 162.3 398.4 164.9 399.8M175.4 426.2 175.5 422.3 175.2 418.5M153.9 425.4 156.2 426.9 157.7 429.2 159.8 430.9M167.8 398.1 167.0 399.7M184.8 401.4 182.6 403.2 180.2 404.8 178.5 407.2 176.7 409.6 174.4 411.2 171.8 412.5M190.5 406.5 189.9 410.1 186.6 412.0 184.9 415.0M184.9 415.0 181.7 416.1 178.2 416.7 175.2 418.5M233.9 464.0 231.2 464.5 228.8 465.7 226.5 467.2 224.1 468.3 221.4 468.8M233.9 464.0 237.2 467.7M237.2 467.7 235.0 469.9 232.7 472.0 230.6 474.4 227.8 475.9M241.5 469.7 237.2 467.7M235.2 483.2 232.9 480.5 230.9 477.7 227.8 475.9M244.1 469.6 241.5 469.7M232.7 458.7 233.1 455.7 234.0 453.0 236.3 450.9M121.2 511.3 123.8 513.3 124.2 516.5 125.1 519.3M121.2 511.3 123.3 509.0 125.8 507.1 128.7 505.9M133.2 519.8 130.5 519.5 127.7 520.2 125.1 519.3M117.1 510.1 121.2 511.3M81.5 452.4 84.0 453.9 87.1 453.4 89.8 454.0 92.5 455.1M85.0 465.9 87.5 465.3 90.3 465.3 92.5 463.7M92.5 463.7 92.8 460.8 91.7 457.9 92.5 455.1M83.3 469.5 86.3 470.7 88.7 472.9 90.9 475.5 94.3 476.1M94.3 476.1 92.6 478.5 92.6 481.7 90.4 483.8M93.1 494.5 92.0 491.8 93.6 488.7 91.9 486.0M93.1 494.5 90.7 496.1 88.3 495.6M90.4 483.8 91.9 486.0M90.5 505.9 91.9 506.2 94.6 504.6M96.3 512.1 95.3 508.7 95.2 505.1M95.2 505.1 94.6 504.6M102.8 515.3 99.7 513.4 96.3 512.1M109.1 503.7 106.3 504.3 103.6 505.3 100.7 503.9 98.0 504.7 95.2 505.1M304.9 606.8 304.9 605.3M304.9 606.8 302.8 609.2 301.9 612.6 299.1 614.4 297.1 616.9M304.9 605.3 302.3 606.6 299.6 606.0 296.8 605.5 294.2 606.1 291.6 607.2 288.9 606.9M297.1 616.9 293.6 615.7 289.9 615.9M289.9 615.9 289.1 615.0M287.4 605.5 288.9 606.9M287.4 624.4 287.2 621.3 289.3 618.8 289.9 615.9M276.9 615.9 280.1 616.6 283.0 614.7 286.0 614.5 289.1 615.0M232.5 405.9 232.1 408.6 230.4 410.8 229.9 413.4M240.1 413.6 236.6 414.5 235.0 417.7M235.0 417.7 232.7 415.2 229.9 413.4M239.6 427.9 237.3 425.4 234.6 423.3M235.0 417.7 234.4 420.5 234.6 423.3M218.9 407.9 219.7 410.7 221.3 413.1 221.3 416.0M229.9 413.4 227.0 414.1 224.1 414.8 221.3 416.0M175.6 582.3 174.3 584.6 173.2 587.0 173.4 589.9 172.2 592.3M175.3 594.5 172.2 592.3M175.3 594.5 178.0 595.4 180.6 594.6 183.1 594.0 185.7 593.7 188.3 593.1M188.8 592.4 188.3 593.1M201.5 593.9 198.2 593.9 195.2 592.6 192.0 592.4 188.8 592.4M164.8 574.2 164.7 576.9M164.7 576.9 167.7 577.7 170.1 579.7 172.5 581.8 175.6 582.3M165.6 591.0 168.8 593.3M164.7 576.9 163.1 578.5M208.1 640.9 208.6 639.9M208.6 639.9 208.1 637.1 207.9 634.3 207.3 631.5 205.3 629.1 204.2 626.5 203.8 623.7 203.4 620.9M193.8 633.3 195.5 630.6 197.0 627.9 198.9 625.5 201.1 623.2 202.6 620.5M189.2 635.0 191.1 633.8 193.8 633.3M223.9 651.7 221.2 650.9 219.0 649.3 216.9 647.5 214.9 645.6 212.9 643.7 210.8 641.8 208.1 640.9M218.3 634.7 215.6 635.5 213.4 637.1 211.4 639.2 208.6 639.9M209.7 623.6 206.8 621.7 203.4 620.9M256.2 450.2 254.6 447.7 251.7 446.9 249.2 445.6 246.8 444.2 245.3 441.6M262.0 444.7 260.1 442.5 258.4 439.9 255.8 438.3 252.7 437.2 251.4 434.3M250.8 434.3 248.4 436.0 247.7 439.0 245.4 440.8M264.5 442.4 262.0 444.7M239.6 427.9 237.7 432.3M237.7 432.3 240.2 433.9 241.7 436.4 242.7 439.3 245.4 440.8M124.9 534.4 124.7 537.4 123.6 540.2 123.3 542.0M124.9 534.4 127.5 533.3 130.1 534.0M130.1 534.0 132.3 535.4M182.6 469.2 179.9 470.3 177.1 469.4M177.1 469.4 174.9 471.7 173.4 474.6 170.5 476.4 169.0 479.2M178.4 486.4 179.6 483.8 179.9 480.6 181.7 478.4 184.5 476.6 185.2 473.7M169.0 479.2 170.5 482.2 171.5 485.4M171.5 485.4 172.7 486.6M178.1 486.8 175.4 486.4 172.7 486.6M161.9 472.2 163.9 474.9 167.6 475.9 169.0 479.2M161.9 472.2 161.0 475.3 158.8 477.2 155.6 478.4 154.1 480.9 152.7 483.5M171.5 485.4 168.8 485.2 166.2 485.8 163.5 485.6 161.0 487.5 158.4 488.2 155.7 488.2 152.9 487.7M152.9 487.7 152.7 483.5M161.8 471.8 158.9 473.0 155.8 473.2 152.7 472.2 149.7 472.4 146.7 472.7 143.8 474.0M152.7 483.5 150.6 480.9 149.1 477.9 145.9 476.5 143.8 474.0M178.4 486.4 181.1 486.5 183.8 486.6 186.3 485.6 188.7 484.3 191.0 482.8 193.6 482.0 196.3 482.5M185.6 495.6 182.8 494.2 181.9 491.1 180.9 488.1 178.1 486.8M197.2 483.0 196.3 482.5M185.2 473.7 187.9 475.5 190.8 474.2M196.3 482.5 194.4 479.8 193.1 476.7 190.8 474.2M244.3 533.4 242.8 530.4 243.8 527.1 243.5 524.0M246.8 521.8 243.5 524.0M182.6 469.2 182.5 466.3 183.9 463.8 185.3 461.3 186.2 458.6 186.4 455.8M161.8 471.8 161.8 469.7M147.8 464.6 151.1 464.7 154.3 464.3 157.5 465.0M147.8 464.6 145.0 466.4 142.8 468.8 141.1 471.7M157.5 465.0 159.1 467.8 161.8 469.7M181.5 438.9 179.0 441.0 175.5 441.2 173.1 443.3 170.6 445.3M228.6 434.7 231.1 433.4 233.9 434.2 236.5 433.3M228.6 434.7 226.2 439.3M226.2 439.3 228.3 441.3 230.1 443.7 233.5 443.8 235.7 445.6M236.5 433.3 236.6 436.4 237.3 439.6 235.8 442.6 235.7 445.6M237.7 432.3 236.5 433.3M221.4 468.8 218.6 467.2 216.4 465.0M207.1 478.3 207.0 475.2M92.5 463.7 95.7 465.4 98.4 467.6M98.4 467.6 100.8 465.2 103.6 463.3 106.5 461.7M98.4 467.6 99.0 471.5 96.8 474.7M119.5 454.7 117.8 456.9 117.1 459.8 115.0 461.7 113.0 463.6M113.0 463.6 109.3 463.9 106.5 461.7M234.6 423.3 231.3 423.1 228.1 424.3 224.8 424.5M228.6 434.7 226.5 432.4 226.0 429.3 224.2 426.9M224.2 426.9 224.8 424.5M156.5 598.5 159.6 599.0 162.6 599.8 165.4 601.2M153.9 591.7 155.8 594.9 156.5 598.5M168.8 593.3 167.5 595.8 166.9 598.7 165.4 601.2M175.3 594.5 175.4 597.3 175.3 600.2 177.1 602.7 177.4 605.5M188.3 593.1 188.3 597.0 187.8 600.9M187.8 600.9 185.6 603.1 182.7 603.5 179.8 603.9 177.4 605.5M202.6 620.5 200.1 618.6 197.3 617.2 195.3 614.8M189.7 548.1 186.7 547.0 183.3 546.7 180.4 545.3 177.7 543.5M194.5 537.5 193.1 535.0 192.3 532.3 191.0 529.7M177.7 543.5 179.7 541.7 181.3 539.4 182.3 536.6 184.9 535.3 187.4 533.8 189.4 532.0 191.0 529.7M176.1 544.2 176.8 543.6M177.7 543.5 176.8 543.6M159.5 534.8 162.2 534.2 164.1 532.2M159.5 534.8 160.2 537.9 159.7 541.1M164.1 532.2 166.4 533.8 169.1 534.6 172.0 534.7 174.4 536.3M176.1 544.2 173.0 544.5 170.0 544.3 167.0 543.2 164.1 542.2 161.0 542.6M174.4 536.3 175.4 540.0 176.8 543.6M159.7 541.1 161.0 542.6M137.0 555.0 139.2 552.6M132.3 535.4 135.1 536.1 138.0 536.6 140.9 536.2M139.2 552.6 139.7 549.9 140.6 547.2 141.3 544.5 140.1 541.6 140.6 538.9 140.9 536.2M162.6 557.6 161.6 560.2 162.1 562.9 161.6 565.5 160.9 568.1M160.5 556.0 159.0 555.9M159.0 555.9 156.3 557.8 153.7 560.0 150.1 560.3M151.1 568.9 151.4 566.0 150.2 563.2 150.1 560.3M171.0 556.6 168.1 556.4 165.5 557.8 162.6 557.6M161.0 542.6 160.6 545.3 159.9 547.9 161.1 550.7 161.0 553.3 160.5 556.0M164.8 574.2 163.5 570.7 160.9 568.1M148.6 571.3 151.1 568.9M137.0 555.0 139.7 555.8 142.5 556.5 145.0 557.8 147.6 559.1 150.1 560.3M133.2 519.8 134.4 521.4M130.1 534.0 130.9 531.0 132.5 528.5 134.2 525.9 134.5 522.9M135.3 493.6 137.7 496.3M137.7 496.3 140.6 496.5 143.2 495.4 145.6 493.3 148.3 492.7 151.2 492.8M124.5 496.5 125.3 499.9 126.0 503.4 128.7 505.9M124.5 496.5 127.4 496.4 129.7 494.3 132.2 493.1 135.3 493.6M201.0 482.4 197.2 483.0M201.0 482.4 202.8 484.9 201.7 488.3 202.4 491.2 205.5 493.3 205.4 496.4M205.4 496.4 202.9 498.5M185.6 495.6 184.3 499.0 186.9 502.2 186.0 505.6M190.8 505.4 186.0 505.6M190.8 505.4 193.5 504.7 195.6 502.9 197.8 501.2 200.4 500.4 202.7 499.1M215.2 489.5 217.9 488.5 219.7 486.5 220.9 484.0 222.4 481.9M215.2 489.5 215.6 494.0M215.6 494.0 218.4 495.2 219.9 497.8M222.4 481.9 224.4 483.8 227.4 484.2 229.0 486.6M201.0 482.4 204.0 480.3 207.1 478.4M205.4 496.4 207.9 495.6 210.5 495.4 212.8 493.4 215.6 494.0M235.2 483.2 235.3 485.7M235.3 485.7 232.1 485.4 229.0 486.6M264.6 525.9 262.2 524.3 260.1 522.3 257.7 520.6 256.3 517.8 253.7 516.4M246.8 521.8 248.2 519.0 249.5 516.2M253.7 516.4 249.5 516.2M268.0 506.0 263.9 508.4M157.3 455.2 160.3 453.5M157.3 455.2 154.5 453.5 151.2 453.1M151.2 453.1 150.2 451.1M150.2 451.1 151.6 448.1 150.9 444.5 152.8 441.5M152.8 441.5 154.1 441.1M157.5 465.0 157.1 461.7 158.1 458.4 157.3 455.2M169.9 455.4 166.8 453.9 163.5 454.0 160.3 453.5M147.8 464.6 146.8 461.7 147.3 458.6M147.3 458.6 149.9 456.3 151.2 453.1M170.6 445.3 169.3 448.6 169.2 452.0 169.9 455.4M159.8 430.9 157.6 433.0 157.2 436.1 156.5 439.1 154.1 441.1M202.2 470.0 203.1 466.7 203.6 463.3 205.5 460.3M190.6 452.6 191.8 450.4M207.0 475.2 204.8 472.4 202.2 470.0M186.4 455.8 188.9 454.7 190.6 452.6M216.4 465.0 216.0 462.6M216.0 462.6 213.3 462.6 210.4 462.9 208.3 459.8 205.5 460.3M216.0 462.6 217.1 459.9M210.9 452.0 213.9 453.9 214.4 457.8 217.1 459.9M232.7 458.7 229.5 459.5 226.8 456.8 223.6 457.7 220.6 456.8M212.5 434.8 211.3 433.6M212.5 434.8 214.6 432.8 217.0 431.3 220.0 430.8 222.3 429.1 224.2 426.9M202.6 413.1 204.1 415.8 202.7 418.5M184.9 415.0 187.4 416.5 189.8 418.2 193.1 418.0 195.5 419.8 197.9 421.4M197.9 421.4 199.7 419.0 202.7 418.5M195.3 614.8 192.5 615.1 189.6 615.3 187.0 616.5 184.3 617.3M177.4 605.5 176.4 606.9M184.3 617.3 180.1 616.0M176.4 606.9 178.8 609.5 178.6 613.1 180.1 616.0M134.4 521.4 137.4 520.2 140.5 521.2 143.6 521.3 146.7 520.4M134.5 522.9 136.7 525.3 139.3 527.1 142.3 528.6 144.0 531.5M146.7 520.4 146.5 523.3 145.6 526.0 144.7 528.8 144.0 531.5M159.5 534.8 156.9 533.6 154.9 531.5M154.9 531.5 152.4 532.3 149.8 532.5 147.2 533.0 144.7 534.1M140.9 536.2 144.6 534.0M144.0 531.5 144.6 534.0M164.1 532.2 165.3 529.0 166.5 525.8M154.9 531.5 153.9 528.8 154.9 526.1 156.0 523.4 154.4 520.8 154.6 518.1M185.0 507.0 186.3 509.6 187.5 512.3 189.5 514.4 191.7 516.4 193.6 518.6 195.1 521.0 196.6 523.5M185.0 507.0 181.4 507.3 178.9 510.0M178.9 510.0 177.9 512.9 176.9 515.7 177.7 518.9 176.7 521.8M196.6 523.5 194.1 526.3 191.0 528.6M191.0 528.6 188.6 527.4 186.2 526.0 183.6 525.2 180.7 525.4 178.3 523.9M178.3 523.9 176.7 521.8M172.7 486.6 171.9 489.3 170.4 491.6M170.4 491.6 171.0 494.3 172.2 496.8 173.2 499.3 173.2 502.1 174.0 504.7 173.8 507.5M173.8 507.5 176.7 508.1 178.9 510.0M191.0 529.7 191.0 528.6M166.5 525.8 169.3 523.6 172.5 522.3M172.5 522.3 176.7 521.8M242.9 523.9 240.5 525.6 238.4 527.5 235.4 528.2 232.7 529.4 230.3 530.9 228.1 532.8M263.9 508.4 261.4 506.7 259.2 504.5 256.1 503.9 253.6 502.3 251.0 500.8M247.9 480.0 247.2 483.3 244.4 485.2 242.3 487.5M249.5 516.2 247.5 514.0 246.8 511.3 246.2 508.5 245.2 505.9M251.0 500.8 249.1 504.5 245.2 505.9M235.3 485.7 237.2 487.8M242.3 487.5 237.2 487.8M213.6 447.9 216.4 446.9 218.9 448.4 221.5 448.8M213.6 447.9 211.9 445.7 210.9 443.1 210.6 440.3M212.7 435.4 210.5 437.4 210.6 440.3M212.7 435.4 215.2 436.6 217.3 438.7 219.8 440.1 222.5 441.2M222.5 441.2 223.7 444.6 222.2 447.9M210.9 452.0 213.6 447.9M220.6 456.8 221.4 454.2 220.6 451.4 221.5 448.8M236.3 450.9 233.4 450.9 230.5 450.6 227.9 448.7 225.1 448.2 222.2 447.9M141.1 471.7 138.8 471.3M138.8 471.3 136.6 473.6 136.4 476.8 136.4 480.1 134.0 482.3 133.0 485.2M138.8 471.3 136.3 470.4 134.4 468.4M123.4 496.0 124.9 493.2 124.5 489.8 126.1 487.0 127.6 484.2M133.0 485.2 130.1 486.1 127.6 484.2M124.8 452.5 125.8 455.0 127.0 457.3 128.6 459.4 130.7 461.2 132.7 463.1 133.6 465.6 134.1 468.4M200.9 435.0 199.0 432.8 198.9 429.6 197.9 427.0 195.8 424.8M200.9 435.0 199.7 437.5 198.0 439.5 196.6 441.7 194.3 443.1 191.7 444.3 190.4 446.7M187.1 442.6 188.8 444.6 190.4 446.7M187.1 442.6 188.5 440.2 189.5 437.6 190.1 434.9 191.1 432.3 192.9 430.1 194.8 428.0 195.3 425.1M211.3 433.6 208.8 434.7 206.2 435.1 203.4 434.0 200.9 435.0M197.9 421.4 195.8 424.8M191.8 450.4 190.4 446.7M181.5 438.9 183.7 441.6 187.1 442.6M175.4 426.2 178.3 425.7 181.1 426.0 184.0 426.0 186.9 426.9 189.7 425.6 192.5 425.6 195.3 425.1M175.9 618.9 173.8 618.6M175.9 618.9 175.5 619.9M180.1 616.0 175.9 618.9M161.5 508.5 161.1 505.5 160.1 502.7 158.4 500.2M161.5 508.5 159.7 512.1M159.7 512.1 155.9 513.6 154.2 517.2M153.3 497.3 155.2 499.9 158.4 500.2M170.4 491.6 167.5 492.7 165.5 495.0 163.9 497.7 161.0 498.8 158.4 500.2M173.8 507.5 170.7 507.8 167.6 507.1 164.6 508.7 161.5 508.5M172.5 522.3 169.9 521.2 168.4 518.7 166.4 516.9 164.0 515.5 161.2 514.6 159.7 512.1M154.6 518.1 154.2 517.2M151.2 492.8 153.3 497.3M209.1 541.9 209.2 536.8M190.8 505.4 192.7 507.4 195.1 508.4 198.0 508.8 199.7 511.1 202.0 512.4M202.7 499.1 203.5 502.4 203.9 505.8 205.9 508.7M205.9 508.7 203.6 510.2 202.0 512.4M235.5 512.9 232.4 512.3 229.3 511.3 226.1 511.7 222.9 511.9M235.5 512.9 238.0 510.9 238.8 507.5 241.2 505.3M241.2 505.3 239.2 503.5 237.9 501.0 235.0 500.3M222.0 501.6 221.1 504.5 220.1 507.4M220.1 507.4 222.1 509.3 222.9 511.9M235.3 518.9 236.7 516.0 235.5 512.9M224.9 523.8 224.3 520.8 223.6 517.9 224.4 514.8 222.9 511.9M242.9 523.9 239.9 523.0 238.3 519.9 235.3 518.9M245.2 505.9 241.2 505.3M237.2 487.8 235.8 490.8 236.0 494.0 235.7 497.2 235.0 500.3M219.9 497.8 222.0 501.6M214.1 510.1 217.0 508.4 220.1 507.4M102.6 486.4 104.0 483.4M104.0 483.4 107.2 483.6 110.4 483.6M110.7 499.1 112.4 496.9 114.8 495.6M91.9 486.0 94.6 484.9 97.3 485.8 99.9 486.4 102.6 486.4M96.8 474.7 98.8 477.1 102.0 477.5M110.3 502.6 110.7 499.1M123.4 496.0 120.5 496.5 117.7 495.9 114.8 495.6M108.5 474.9 109.8 478.2 112.4 480.6M112.4 480.6 115.6 480.3 118.9 480.2 121.9 478.8M122.9 472.7 122.0 475.7 121.9 478.8M102.0 477.5 105.4 476.7 108.5 474.9M134.1 468.4 131.7 470.3 128.2 469.7 125.6 471.2 122.9 472.7M110.4 483.6 112.4 480.6M213.7 530.4 216.6 529.9 219.0 528.0 221.8 527.4 224.7 527.0M224.7 527.0 224.7 524.4M224.7 524.4 222.3 522.6 219.7 521.9 217.2 520.6 214.3 520.5 211.5 520.2M209.2 536.8 210.4 534.5 211.1 531.8 213.7 530.4M228.1 532.8 227.7 529.2 224.7 527.0M214.1 510.1 213.4 513.5 212.2 516.8 211.5 520.2M48.2 182.2 45.3 184.2 42.7 186.7 45.3 188.4 48.3 189.2 50.9 190.8 53.7 192.3 57.2 191.3 59.6 193.9 62.7 194.4 65.5 194.7 68.3 195.2 70.7 197.0 73.3 198.0 76.2 198.1 78.9 198.9 81.5 199.9 84.5 199.4 87.1 200.3 90.8 200.7 94.4 201.2 96.0 198.8 98.9 198.5 102.5 196.3 98.9 193.1 96.2 189.5 94.7 186.5 92.0 184.5 89.4 185.1 87.1 186.4 85.0 188.0 82.5 187.0 80.0 185.6 77.0 186.4 74.5 185.0 72.0 184.0 69.3 182.2 66.1 181.8 62.9 181.2 60.0 180.0 57.3 177.7 54.0 176.5 52.5 179.7 48.2 182.2M175.2 165.2 174.4 167.7 174.7 170.6 172.7 172.7 169.8 172.4 166.7 173.9 163.8 172.9 160.9 172.4 158.0 171.8 155.0 172.0 152.7 173.5 150.2 174.2 147.8 175.3 145.2 175.6 142.4 175.3 139.9 176.2 137.4 176.9 135.0 178.0 131.7 178.4 128.8 177.0 126.1 175.2 123.2 174.2 120.0 174.0 117.3 173.4 114.7 174.9 112.0 174.5 109.8 176.8 112.5 176.4 115.2 176.3 119.7 178.6 121.5 183.1 124.3 186.7 128.3 187.2 129.7 191.3 129.7 194.9 127.0 195.9 124.3 196.7 127.0 198.5 129.8 200.2 132.4 202.2 129.6 202.2 126.8 201.9 124.2 203.2 121.6 204.0 120.6 206.7 117.0 209.4 112.5 209.4 109.6 208.1 107.1 206.2 103.4 207.6 100.2 207.9 97.1 208.3 93.9 207.2 90.7 208.0 87.8 207.5 84.7 208.2 82.0 206.4 79.2 205.5 76.2 205.3 73.6 203.8 70.8 203.2 67.7 203.3 64.8 203.1 62.3 201.3 59.7 199.8 56.8 199.4 57.7 202.1 57.2 204.9 56.8 207.7 58.1 210.3 60.6 212.4 60.8 215.7 63.3 217.9 66.3 219.4 68.2 221.8 69.0 224.8 69.8 227.3 69.9 230.0 71.2 233.5 73.5 236.3 75.6 239.6 75.8 243.6 79.0 244.4 82.4 244.1 85.3 245.9 81.6 246.6 78.0 247.7 79.9 251.7 81.9 253.8 84.4 255.4 82.8 258.8 82.6 262.6 82.5 259.3 79.9 257.2 78.5 259.9 78.4 263.5 78.9 267.1 80.3 268.9 81.7 270.3 81.0 273.5 83.2 276.6 82.1 279.8 82.8 282.5 81.4 285.3 81.0 288.0 82.1 290.7 82.6 293.4 81.8 296.4 81.8 299.5 81.2 302.5 80.8 306.3 80.3 310.0 80.5 307.0 79.4 309.5 79.1 312.1 79.6 314.9 80.1 317.6 78.8 320.1 77.3 323.2 78.0 326.8 77.0 330.0 76.6 333.4 74.4 336.6 75.1 340.2 75.5 343.7 73.4 346.7 73.2 350.0 73.0 353.5 72.6 356.9 71.3 360.2 70.7 363.8 69.0 367.0 67.5 369.8 66.3 372.7 64.1 374.9 64.2 378.0 63.1 382.7 64.6 385.7 65.0 389.0 66.4 392.1 67.6 395.2 69.3 398.0 70.5 401.0 72.1 404.2 72.6 407.7 73.4 410.8 73.5 414.0 73.2 417.2 73.8 420.3 73.7 423.7 75.3 426.7 75.5 430.0 76.6 433.0 77.6 436.0 76.2 438.3 76.0 441.0 73.8 445.0 72.1 447.3 71.5 450.0 70.5 452.5 69.6 455.0 70.4 458.0 69.8 461.0 69.3 464.5 71.3 467.5 73.4 469.9 76.6 471.0 78.0 474.0 80.6 475.8 83.4 477.3 85.1 480.1 87.3 482.6 87.0 486.0 86.8 489.3 87.6 492.6 87.4 495.6 89.1 498.2 89.5 501.0 89.1 504.2 92.2 506.8 91.4 510.1 95.1 511.8 97.0 515.5 98.3 518.6 101.4 520.0 105.1 521.3 108.2 523.6 109.3 526.0 110.9 528.2 114.9 531.3 117.2 534.5 114.9 535.4 113.6 531.3 114.5 535.2 113.1 539.0 115.4 537.2 118.9 538.8 121.7 541.3 124.1 543.3 127.2 543.6 129.0 545.4 129.4 548.5 129.0 551.7 130.3 556.2 132.6 560.0 133.5 562.0 134.8 564.9 136.4 567.7 138.3 569.8 140.5 571.5 142.9 572.5 145.2 573.9 148.5 574.0 151.4 575.2 152.5 579.0 152.2 582.7 150.0 586.5 148.9 590.2 151.2 593.3 154.0 596.0 155.7 598.6 157.9 600.7 160.2 602.7 162.7 604.7 163.7 607.9 166.0 610.0 168.9 612.0 169.5 615.9 172.7 617.7 175.3 619.3 177.5 621.5 179.5 624.2 182.7 625.3 183.0 628.0 184.0 630.3 187.0 632.0 189.0 634.0 190.8 636.8 190.0 640.0 190.2 643.8 190.1 647.6 192.5 651.5 196.4 653.8 199.7 653.9 203.0 654.0 206.5 655.3 210.1 654.6 212.8 654.9 215.4 655.4 218.0 656.0 221.3 658.0 225.2 657.6 228.1 659.5 231.0 661.5 234.2 662.6 236.4 665.1 239.7 665.6 243.0 666.5 246.6 667.3 250.2 667.6 255.0 668.5 257.8 668.8 260.2 670.1 262.5 671.7 263.0 674.5 265.2 678.8 269.0 678.3 272.7 678.8 275.7 680.9 279.0 682.5 282.1 684.5 285.2 686.4 287.9 688.6 290.5 691.0 293.8 692.9 295.2 696.4 298.0 700.5 300.3 705.1 301.0 709.0 301.5 712.6 303.5 715.0 305.3 717.1 306.9 719.8 307.8 722.7 310.2 724.7 310.2 728.1 311.3 730.8 313.8 732.7 315.3 735.2 318.2 734.8 319.8 732.1 322.4 731.1 325.0 730.2 327.9 729.9 330.7 729.2 333.6 729.5 336.5 729.7 339.4 729.5 342.2 728.5 345.0 728.0 347.9 728.2 350.5 726.4 353.4 726.5 356.2 725.8 359.1 726.3 362.0 726.4 364.9 726.3 367.6 725.2 368.5 728.1 368.7 731.1 367.8 734.3 369.5 737.0 370.0 740.0 373.2 738.9 376.6 738.4 379.6 739.0 381.7 741.1 384.1 742.7 386.5 743.9 389.0 745.1 391.3 746.6 393.9 747.6 396.9 747.5 399.3 748.7 401.9 749.6 404.1 751.4 406.4 749.7 409.1 748.9 412.3 750.2 415.8 750.4 419.1 751.4 420.4 756.4 423.4 756.3 426.3 756.9 429.1 758.2 431.7 759.9 434.8 759.8 437.7 760.2 440.6 759.0 443.7 759.5 446.8 759.4 449.8 758.7 452.7 757.7 453.3 760.3 453.7 763.1 455.2 765.4 455.7 768.1 457.7 770.2 455.0 771.5 454.1 774.6 452.5 777.0 449.6 778.1 447.7 780.2 449.1 782.5 449.5 785.3 451.4 787.3 452.6 789.7 455.2 791.2 456.5 793.5 457.6 796.0 458.5 798.5 460.2 800.6 462.9 801.3 465.5 800.3 468.2 800.0 470.8 800.6 473.5 799.8 476.1 800.0 478.8 799.3 481.4 799.8 484.1 799.8 486.7 800.4 489.4 800.0 492.0 801.5 494.7 801.3 497.3 801.7 500.0 801.5 502.6 800.7 505.3 800.6 505.8 797.9 507.8 795.8 509.1 793.5 510.2 791.1 511.2 788.6 512.0 786.0 513.9 783.7 515.6 781.2 517.3 778.7 518.1 775.8 518.7 772.7 520.3 770.2 523.1 769.3 525.8 767.9 528.8 767.8 531.6 767.0 534.7 767.0 537.5 766.3 540.3 765.2 542.1 767.4 543.0 770.1 545.1 772.2 545.8 775.0 546.4 777.8 546.8 780.8 548.8 782.9 550.3 785.3 552.2 783.5 554.0 781.5 556.1 780.0 558.8 779.0 560.6 777.1 562.7 775.5 564.0 773.0 565.9 771.1 567.8 769.2 569.9 767.5 572.3 766.1 574.6 764.6 576.0 762.2 577.8 760.2 578.1 757.2 578.6 754.3 579.5 751.5 581.3 748.9 582.0 746.1 582.6 743.2 582.9 740.2 585.7 739.0 588.3 737.5 590.7 735.6 592.5 732.9 595.1 731.4 597.9 730.2 597.7 727.4 598.3 724.6 598.9 721.9 598.7 719.1 599.9 716.4 600.4 713.6 600.8 710.9 600.3 708.0 600.4 705.2 601.1 702.7 601.5 700.1 602.5 697.6 604.2 695.5 605.0 693.0 606.1 690.4 608.0 688.2 608.4 685.3 609.1 682.6 610.4 680.1 608.0 678.6 606.4 676.2 604.5 674.1 602.5 672.2 599.5 671.3 597.4 669.5 595.4 667.6 597.0 665.2 599.2 663.0 599.9 660.0 601.6 657.6 601.6 654.7 601.9 651.7 601.6 648.8 600.4 645.9 600.8 642.9 601.0 640.0 601.8 637.2 602.1 634.3 601.5 631.5 600.6 628.8 599.8 626.0 599.5 623.2 599.8 620.3 600.4 617.5 603.0 616.4 605.0 614.2 607.4 612.7 610.4 612.4 613.0 611.6 615.5 610.2 618.0 609.0 620.2 607.1 622.9 606.3 625.2 604.6 627.4 602.7 630.1 601.9 632.8 601.0 635.4 600.0 636.9 597.2 635.5 593.8 636.4 590.8 637.9 588.0 639.0 585.5 639.6 582.7 641.1 580.4 643.1 578.2 644.3 575.8 645.1 573.1 646.2 570.6 646.5 567.7 647.9 565.3 647.5 562.4 647.1 559.6 647.8 556.7 648.8 553.8 649.2 550.9 647.6 548.1 647.9 545.2 648.7 542.2 651.5 540.7 653.4 538.5 655.0 536.0 657.1 533.6 657.4 530.0 659.3 527.4 661.7 525.2 660.4 522.7 658.8 520.4 658.0 517.6 656.6 515.2 655.4 512.7 656.2 510.2 656.1 507.4 657.3 505.0 658.6 502.6 659.9 500.3 660.5 497.7 662.9 496.3 665.4 495.0 667.7 493.3 670.2 492.0 672.5 490.5 675.5 490.2 676.8 487.9 677.9 485.5 677.9 482.8 678.7 480.3 680.0 478.0 679.7 475.3 680.5 472.8 681.5 470.3 682.1 467.8 681.7 465.1 680.4 462.0 677.3 460.3 675.5 457.6 672.8 458.0 669.9 457.3 667.4 458.8 664.9 460.6 662.0 460.0 659.3 461.3 656.3 461.9 653.1 461.7 650.7 464.1 647.9 465.1 648.5 461.7 648.0 458.4 648.0 455.0 648.7 451.7 647.7 448.4 647.9 445.1 645.2 443.4 643.3 440.8 640.5 439.3 637.9 437.6 637.3 434.9 635.3 432.6 635.2 429.8 635.0 427.0 634.3 424.0 635.4 420.7 633.6 418.0 632.9 415.0 631.9 411.9 633.2 408.8 633.8 405.6 632.9 402.5 630.2 401.8 627.5 400.9 624.7 400.3 622.1 399.4 619.3 398.6 616.5 398.1 613.8 397.6 610.9 397.4 608.2 396.8 605.4 396.3 602.4 395.7 599.2 395.7 596.6 393.8 594.1 391.8 591.1 391.3 588.0 391.0 585.2 390.4 582.6 389.1 580.0 388.1 576.8 388.6 574.3 387.2 571.8 385.5 569.0 385.0 567.7 382.6 565.1 381.4 562.7 380.0 562.2 376.9 560.3 375.0 559.4 372.0 557.8 369.5 556.2 367.0 554.1 364.8 552.5 362.3 550.3 360.2 549.7 357.2 548.4 354.4 546.8 351.9 545.7 349.0 544.0 346.5 542.0 344.6 540.0 342.7 538.9 340.1 536.7 338.3 535.8 335.6 534.5 333.1 532.8 331.0 530.6 329.1 527.8 328.6 524.8 328.9 522.3 327.6 520.0 326.0 517.3 325.3 514.7 324.7 512.0 325.9 509.3 326.8 506.7 326.1 504.0 325.7 501.2 324.5 498.7 322.7 496.8 320.2 494.0 319.0 491.6 320.5 490.2 323.3 487.7 324.7 484.9 324.4 482.1 323.8 479.4 324.3 476.6 325.1 473.8 325.8 471.1 326.4 468.3 325.3 465.5 325.5 462.7 325.2 459.7 325.5 456.8 326.3 454.2 328.0 451.3 328.8 448.2 328.7 445.2 329.0 442.6 327.4 441.9 324.3 440.9 321.5 438.2 320.0 436.4 317.7 433.8 316.8 431.2 315.8 429.4 313.6 427.7 311.4 425.2 310.2 422.6 309.1 421.2 306.7 420.1 304.0 417.6 302.7 416.9 300.1 415.1 297.9 413.8 295.6 413.9 292.7 412.1 289.5 408.9 287.7 411.6 287.6 414.3 288.1 417.0 288.9 419.7 288.3 422.4 289.3 425.1 289.1 427.9 288.8 430.6 288.4 433.3 287.4 436.0 288.0 438.9 286.8 442.0 287.2 445.2 287.5 448.0 286.0 451.1 286.1 453.9 285.4 456.3 283.4 458.9 281.8 462.0 282.0 463.5 279.3 463.5 276.4 462.7 273.3 463.2 270.5 464.7 267.8 465.5 265.0 465.0 262.0 463.9 259.2 463.6 256.4 463.3 253.5 464.0 250.5 464.3 247.5 462.5 244.9 462.0 242.0 460.0 240.1 458.5 237.8 457.4 235.3 456.3 232.9 454.4 230.8 453.2 228.4 452.0 226.0 449.8 224.1 448.3 221.6 446.3 219.6 444.6 217.2 443.6 214.4 442.0 212.1 440.0 210.0 438.7 207.7 436.2 206.3 434.2 204.5 432.8 202.3 431.0 200.3 429.2 198.4 428.0 196.0 426.5 193.4 424.3 191.6 422.1 189.8 419.1 189.0 416.9 187.2 415.0 185.0 411.6 184.4 409.5 181.7 407.1 179.7M176.0 163.9 175.2 165.2M255.1 50.2 252.2 49.6 249.7 51.6 247.2 53.2 244.1 51.7 241.5 52.7 238.8 53.7 236.2 54.5 233.4 54.6 230.5 54.5 227.5 53.5 224.8 54.2 222.1 54.5 219.5 56.1 222.1 58.2 225.0 59.6 228.5 59.7 231.4 61.2 234.4 60.9 237.3 61.2 240.1 63.6 243.2 62.1 243.5 65.5 245.9 68.0 248.6 70.3 248.3 74.0 248.4 76.9 246.9 79.2 245.0 81.4 244.9 84.2 247.1 86.1 249.3 88.0 251.1 90.2 253.0 92.3 254.3 94.8 255.1 97.8 256.5 100.4 257.8 103.0 258.3 106.0 259.6 108.6 261.6 110.9 263.6 113.1 265.5 115.3 267.2 117.6 267.9 120.3 269.3 122.7 269.9 125.5 270.4 128.3 270.4 131.5 268.9 134.3 266.7 136.9 267.0 140.2 263.7 141.4 260.2 141.9 257.2 141.6 254.3 141.9 251.4 142.2 248.6 143.3 245.8 144.8 242.9 144.6 239.9 144.5 241.2 142.0 240.7 138.8 243.2 136.8 242.2 133.6 240.7 130.7 238.2 128.6 235.6 126.6 232.9 127.5 231.2 130.4 228.7 131.8 225.0 130.4 222.9 132.6 220.1 134.6 219.9 137.9 220.0 141.3 217.8 143.6 215.0 143.9 213.9 147.4 211.7 148.7 208.5 148.2 206.0 149.2 204.2 151.3 201.5 150.5 199.1 148.5 196.4 147.7 193.5 147.8 190.6 147.9 188.2 149.3 185.2 149.2 182.3 149.4 180.4 152.1 179.3 154.8 179.1 157.8 178.8 160.8 177.2 163.3 175.3 165.7 175.2 169.2 172.7 171.7M248.3 74.0 251.4 74.0 254.6 74.1 257.6 74.5 260.5 76.1 263.6 76.5 264.9 79.3 268.8 79.4 270.7 81.4 272.1 84.2 273.8 86.4 276.2 88.2 277.2 91.0 278.4 93.7 277.4 96.9 278.9 99.5 281.3 101.1 283.6 102.9 287.0 102.4 289.1 104.6 292.6 105.5 295.9 107.1 298.2 109.1 298.5 112.2M278.9 99.5 278.9 102.8 275.2 104.6 275.5 108.0 272.0 109.0 270.6 113.1 267.0 113.9 263.6 113.1M298.5 112.2 297.2 115.3 294.7 117.5 292.5 119.9 289.1 121.7 289.4 126.1 286.6 128.3 288.9 129.8 292.3 129.7 292.9 133.9 295.9 134.3 299.1 135.6 301.0 138.5M298.5 112.2 297.8 108.3 299.3 104.6 298.9 101.8 299.3 99.2 300.9 96.9 301.9 94.4 304.2 92.8 307.3 93.1 309.6 91.3 312.1 90.1M298.5 112.2 302.2 112.4 304.5 115.6 307.8 116.5 310.8 117.4 312.7 120.1 314.7 122.6 318.0 123.2 320.6 125.7 323.1 128.3 322.8 131.2 325.5 133.6 324.3 136.6 324.8 139.4M333.3 104.6 331.3 106.6 330.6 109.6 328.2 111.4 330.1 113.8 333.1 114.6 336.6 114.8 337.7 118.2 340.1 119.9 341.7 122.3 344.3 124.1 346.6 126.0 347.5 128.9 348.6 131.7 349.4 134.8 348.6 138.0 349.4 141.1M260.2 141.9 263.2 141.4 266.3 140.7 269.5 141.6 272.5 141.2 275.5 140.2 278.5 140.6 281.6 139.8 284.5 141.2 287.4 141.9 289.8 139.9 292.5 139.0 295.9 141.1 298.5 139.9 301.0 138.5 302.7 141.5 306.1 141.9 308.6 140.2 311.2 139.7 314.1 141.1 316.9 141.4 319.7 141.6 322.1 139.7 324.8 139.4 327.9 138.7 331.0 137.8 334.1 138.2 337.1 139.5 340.1 140.2 343.1 141.8 346.2 142.1 349.4 141.1 352.5 140.7 355.5 140.6 358.1 142.8 360.9 143.5 363.9 143.6 366.5 141.8 369.5 142.0 372.4 141.9 372.4 138.9 372.7 135.8 371.0 133.0 370.7 130.0M260.2 141.9 260.5 144.9 261.8 147.5 263.3 149.9 265.3 152.1 265.3 154.9 268.6 156.7 267.8 159.8 268.7 162.3 271.3 164.2 271.9 167.5 272.8 170.6 275.5 172.5 277.3 175.8 275.5 179.0M287.4 141.9 289.4 144.2 290.8 147.0 289.0 149.4 286.6 150.7 284.4 152.4 281.2 152.3 278.9 153.8 277.4 156.2 275.1 157.5 272.3 158.4 269.8 159.5 268.7 162.3M324.8 139.4 322.3 141.6 323.0 145.2 322.2 148.2 319.7 150.4 319.3 153.7 322.3 156.1 322.1 159.4 323.1 162.3 325.5 163.6 328.0 164.5 330.7 164.5 333.4 164.7 336.2 164.6 338.4 166.6 341.2 167.4 343.8 165.3 346.4 164.0 349.2 164.9 352.0 165.7 354.3 164.2 356.3 162.4 356.8 159.3 358.3 157.1 360.5 155.5 361.7 152.6 361.2 149.3 363.8 146.8 363.9 143.6M301.0 138.5 303.5 140.5 303.0 143.5 302.0 146.7 304.4 148.7 303.0 151.1 301.6 153.4 302.6 156.6 301.0 158.9 297.8 158.9 296.4 162.4 293.8 163.5 290.8 164.0 291.1 167.5 293.5 169.6 296.2 171.5 297.6 174.2 294.1 175.6 292.5 179.0M372.4 141.9 371.8 144.7 372.9 147.7 373.3 150.6 371.3 153.2 370.1 156.0 370.7 158.9 372.1 161.6 372.7 164.5 371.7 167.6 371.4 170.6 371.5 173.5 373.1 176.2 374.1 179.0M386.0 164.0 382.9 166.2 379.2 165.7 381.4 167.9 383.1 170.3 382.9 173.4 383.6 176.2 384.3 179.0M204.2 151.3 206.6 153.6 208.0 156.6 208.7 159.9 211.0 162.3 212.6 165.4 215.5 166.7 218.4 167.7 221.2 169.1 221.6 171.7 224.1 173.6 225.0 176.1 224.6 179.0M231.4 157.2 231.3 160.8 234.2 163.0 235.7 165.9 236.5 169.1 236.3 172.5 237.1 176.0 234.8 179.0M231.4 157.2 233.2 154.8 235.9 154.2 238.5 153.4 241.6 153.5 244.0 152.2 245.8 149.7 248.3 148.7 250.3 146.7 252.8 145.5 255.4 144.6 257.9 143.4 260.2 141.9M307.8 179.0 308.6 176.4 310.4 173.9 310.4 171.2 308.9 168.3 309.5 165.7 306.7 164.8 304.7 163.0 303.9 159.6 301.0 158.9M352.0 165.7 349.4 167.8 348.8 170.6 350.0 174.1 349.2 176.8 346.9 179.0M338.4 166.6 338.9 170.1 337.1 172.9 334.5 175.5 335.0 179.0M243.2 62.1 246.5 62.5 249.7 62.2 252.3 60.2 255.1 58.7 257.3 60.3 258.7 63.2 261.1 64.5 263.9 65.3 267.3 65.2 268.7 68.0M263.6 76.5 266.2 74.9 265.7 71.0 268.7 69.7M303.5 718.6 301.9 716.1 299.7 714.1 299.5 714.0 299.4 713.8 299.3 713.6 299.2 713.4 299.2 713.2 299.1 713.0 298.8 709.4 298.0 705.8 296.0 701.8 294.8 699.0 291.3 698.2 290.3 695.3 288.8 692.8 285.9 692.0 283.2 690.6 281.5 688.0 278.8 686.7 276.5 684.9 274.5 682.7 272.0 681.2 268.6 681.6 265.2 681.2 265.0 681.2 264.7 681.2 264.5 681.1 264.3 681.0 264.1 680.9 263.9 680.8 263.7 680.7 263.5 680.5 263.4 680.4 263.2 680.2 263.1 680.0 261.6 677.4 259.0 675.5 258.7 672.2 255.8 671.5 252.9 671.4 250.3 669.8 247.5 668.6 244.5 669.1 241.5 669.1 238.6 668.5 235.9 667.4 235.7 667.4 235.5 667.3 235.3 667.2 235.1 667.1 233.4 664.9 231.4 663.3 228.4 663.0 225.8 662.2 224.3 659.9 221.4 659.1 218.7 657.4 215.6 658.3 212.5 658.6 209.8 657.0 207.1 656.8 204.4 655.9 201.7 655.9 198.9 656.7 196.3 656.2 196.0 656.2 195.8 656.1 195.6 656.1 195.4 656.0 195.2 655.9 191.3 653.6 191.1 653.4 190.9 653.3 190.7 653.1 190.6 653.0 190.5 652.8 188.1 648.9 187.9 648.7 187.9 648.5 187.8 648.2 187.7 648.0 187.7 647.8 186.9 644.7 186.1 641.6 186.6 638.4 186.7 635.3 182.6 632.2 182.4 632.1 182.2 631.9 182.1 631.7 181.9 631.5 181.8 631.3 181.7 631.1 181.7 630.9 180.6 626.7 178.8 624.2 175.6 623.5 173.2 621.8 171.2 619.6 171.1 619.5 170.9 619.3 169.4 616.9 166.8 615.4 164.8 613.4 162.8 611.5 161.2 609.1 159.7 606.7 157.6 604.8 155.9 602.7 154.7 600.0 153.1 597.7 151.1 595.7 149.0 593.8 147.1 591.8 146.9 591.6 146.8 591.4 146.7 591.1 146.6 590.9 146.5 590.7 146.5 590.4 146.5 590.2 146.5 589.9 146.6 589.7 146.6 589.5 146.7 589.2 148.7 586.0 149.7 582.3 149.2 577.2 144.7 576.2 144.5 576.2 144.2 576.1 144.0 576.0 143.8 575.9 141.3 574.8 139.0 573.3 137.4 571.0 135.0 569.7 134.8 569.5 134.7 569.4 134.5 569.2 134.4 569.0 134.3 568.8 133.1 566.5 131.1 564.6 130.7 561.9 130.4 559.1 128.2 557.3 128.1 557.1 128.0 556.9 128.0 556.7 127.9 556.5 127.4 553.3 128.3 549.9 126.8 546.9 124.2 546.1 121.9 544.8 119.7 543.4 117.4 542.1 115.6 540.1 114.6 540.9 114.4 541.0 114.2 541.1 114.0 541.2 113.7 541.3 113.5 541.4 113.3 541.4 113.0 541.4 112.8 541.4 112.5 541.3 112.3 541.3 112.1 541.2 111.9 541.1 111.7 540.9 111.5 540.8 111.3 540.6 111.2 540.4 111.0 540.2 110.9 540.0 110.8 539.8 110.8 539.6 110.7 539.3 110.7 539.1 110.7 538.8 110.3 535.1 111.2 531.5 109.4 530.1 109.3 529.9 109.1 529.8 109.0 529.6 108.8 529.4 106.5 525.4 103.1 524.2 100.3 522.1 100.1 522.0 99.9 521.9 99.7 521.7 97.9 519.5 96.3 517.2 93.6 515.9 91.8 513.7 89.7 511.8 89.6 511.6 89.4 511.4 89.3 511.2 89.2 511.0 89.1 510.8 89.1 510.6 88.1 508.0 87.9 505.3 87.3 502.6 86.5 500.0 85.2 497.5 84.6 494.9 84.9 492.0 84.0 489.5 83.7 486.7 84.3 483.8 82.9 481.4 80.7 479.3 78.2 477.7 75.5 476.2 73.6 473.8 72.1 471.1 69.7 469.3 69.5 469.1 69.4 468.9 69.2 468.7 69.1 468.5 69.0 468.3 69.0 468.0 68.9 464.6 67.5 461.5 67.4 461.3 67.4 461.1 66.4 458.1 67.2 455.1 67.2 454.8 67.2 454.6 67.3 454.3 67.4 454.1 69.0 451.7 70.0 449.1 70.7 446.3 70.6 443.2 72.1 440.8 74.6 438.8 75.0 435.9 73.9 433.4 73.2 430.8 73.2 430.6 73.1 430.3 72.2 427.6 72.5 424.8 72.4 422.0 72.2 419.2 71.5 416.5 71.3 413.8 70.0 411.1 70.3 408.3 69.2 405.9 69.2 403.0 67.8 400.7 66.9 398.2 66.1 395.7 64.7 393.4 62.9 391.3 62.5 388.6 61.8 386.0 60.9 383.6 60.8 383.3 60.7 383.1 60.7 382.8 60.7 382.6 60.7 382.4 60.8 382.1 60.8 381.9 62.1 379.5 63.2 377.1 64.7 374.9 64.6 372.0 64.2 369.1 65.4 366.7 67.0 364.5 68.2 362.1 69.0 359.6 70.1 357.0 69.7 354.2 70.9 351.7 70.7 349.0 70.9 346.3 71.5 343.6 72.1 341.0 72.7 338.4 72.6 335.6 72.5 332.9 72.8 330.2 72.9 327.5 73.3 324.8 74.7 322.3 74.9 319.6 75.9 317.1 75.9 314.4 76.5 311.7 76.8 309.1 78.2 306.5 78.4 303.9 79.3 301.3 80.1 298.7 80.3 296.0 80.2 293.2 79.2 290.5 79.6 287.8 78.7 285.0 79.8 282.2 80.6 279.5 79.9 276.7 80.2 274.0 79.3 271.2 77.1 268.7 77.0 268.5 76.8 268.3 76.7 268.1 76.6 267.9 76.6 267.7 76.5 267.5 76.5 267.2 76.6 263.6 76.1 260.0 76.1 259.8 76.1 259.5 76.2 259.3 76.3 259.0 76.4 258.8 77.8 256.1 77.9 255.9 78.0 255.7 78.2 255.5 78.4 255.4 78.6 255.2 78.8 255.1 79.0 255.0 79.2 254.9 79.4 254.8 79.7 254.8 79.9 254.8 78.4 253.6 78.2 253.4 78.0 253.2 77.9 253.0 77.7 252.7 75.8 248.7 75.7 248.5 75.7 248.3 75.6 248.1 75.6 247.8 75.6 247.6 75.6 247.3 75.7 247.1 75.7 246.9 75.8 246.7 75.9 246.5 76.1 246.3 76.2 246.2 75.2 245.9 75.0 245.9 74.8 245.8 74.6 245.7 74.4 245.6 74.2 245.4 74.1 245.2 73.9 245.1 73.8 244.9 73.7 244.7 73.6 244.5 72.0 242.1 70.6 239.6 69.5 237.0 68.8 234.3 68.4 231.5 67.4 228.8 66.4 226.2 65.8 223.4 64.3 221.0 62.1 219.0 59.5 217.7 59.3 217.5 59.1 217.4 58.9 217.2 58.8 217.0 58.7 216.8 57.6 213.9 56.0 211.4 55.9 211.2 55.8 211.0 55.8 210.8 55.7 210.6 55.3 207.9 55.7 205.1 55.6 202.3 54.4 199.7" fill="none" stroke="#b3b3b3" stroke-width="1.2" stroke-linejoin="round"/>
<polygon points="135.0,178.6 138.1,176.8 141.3,174.5 145.4,175.0 149.0,176.3 153.5,175.9 156.2,174.0 160.8,172.7 163.5,174.0 167.1,175.0 168.0,170.9 170.7,169.1 174.4,168.5 178.0,169.5 181.1,168.6 184.3,169.1 183.4,173.6 182.5,176.3 184.2,178.6 186.1,180.8 187.5,185.4 189.3,188.1 187.1,190.8 188.9,194.0 187.5,195.3 184.3,194.0 181.0,194.6 178.0,196.2 176.6,199.0 174.4,199.9 171.8,198.3 168.9,199.0 166.1,200.0 163.5,198.5 160.6,198.3 158.1,196.7 154.4,194.0 151.7,190.8 150.8,188.1 153.5,185.4 158.1,184.0 161.2,183.1 159.9,181.7 156.2,181.6 152.6,181.7 149.8,182.3 147.2,181.0 142.7,181.0 139.5,181.3 138.1,183.6 136.3,184.0 134.5,182.2 133.6,180.4" fill="#ffd700"/>
<polygon points="146.3,211.2 149.9,212.1 153.1,212.7 156.2,211.6 159.9,210.3 162.6,210.7 163.5,213.5 166.2,213.4 168.9,213.2 171.7,214.7 174.4,213.5 175.3,217.1 176.2,220.7 174.4,224.3 171.6,226.1 168.9,228.0 165.3,230.2 162.6,233.4 158.1,231.6 153.5,230.2 150.1,229.2 147.2,227.1 145.4,223.4 144.5,218.9 145.4,214.4" fill="#ffd700"/>
<polygon points="157.6,196.7 160.7,197.4 163.5,199.0 166.0,200.7 168.9,199.9 171.6,200.5 174.4,200.3 177.5,202.1 179.8,204.9 181.6,206.7 178.9,208.9 175.7,210.3 174.8,212.6 171.9,212.9 168.9,213.0 166.2,213.0 163.5,213.0 164.4,209.8 160.8,208.5 156.2,207.1 158.5,204.9 159.0,201.7 158.1,199.0" fill="#ff0000"/>
<g fill="none" stroke="#000" stroke-width="1.45" stroke-linejoin="round">
<polyline points="103.5,179.7 702.2,179.7" />
<polyline points="538.4,48.9 538.4,179.7" />
<polyline points="72.6,408.4 504.1,408.4" />
<polyline points="504.1,310.1 702.2,310.1" />
<polyline points="504.1,310.1 504.1,441.0" />
<polyline points="504.1,441.0 702.2,441.0" />
<polyline points="211.2,408.4 211.2,507.6 386.6,637.5" />
<polyline points="406.3,408.4 406.3,598.0" />
<polyline points="406.3,571.7 702.2,571.7" />
<polyline points="569.5,441.0 569.5,757.2" />
<polyline points="305.3,717.1 382.9,711.9" />
<polyline points="380.3,719.4 504.0,757.2 597.1,757.2 597.1,742.7 652.9,742.7" />
<polyline points="647.9,735.4 702.2,735.4" />
<polyline points="308.1,179.7 308.1,265.0" />
<polyline points="340.6,179.7 340.6,210.0" />
<polyline points="244.1,277.6 311.6,277.6" />
</g>
<g fill="none" stroke="#000" stroke-width="1.6" stroke-linejoin="round">
<polyline points="255.3,48.9 256.6,51.9 259.6,53.9 260.1,57.4 262.0,60.0 264.3,62.4 265.8,65.6 269.0,67.0 272.5,66.8 276.0,66.0 279.1,68.2 282.9,67.6 283.4,70.5 285.4,72.6 288.7,72.0 292.0,73.0 293.9,75.2 296.9,74.8 299.1,76.3 300.6,79.0 303.7,80.2 305.0,83.0 306.5,85.8 309.6,86.7 311.6,88.9 315.0,87.0 319.1,87.6 320.6,90.1 323.5,91.3 324.9,94.0 327.0,96.0 328.7,98.2 331.5,99.0 333.6,100.6 335.4,102.6 337.6,104.8 339.8,106.8 342.6,108.2 345.0,110.0 347.4,111.9 350.5,112.7 353.2,114.1 355.4,116.4 357.2,119.0 359.9,120.7 362.0,123.0 365.1,124.1 367.2,127.0 370.5,127.7 373.0,129.6 376.0,129.0 379.0,129.9 380.5,132.7 381.2,136.4 384.0,139.0 384.8,142.4 386.7,145.2 387.5,148.8 385.5,152.0 385.6,155.6 386.7,159.0 389.2,161.8 391.0,165.0 393.5,167.3 395.5,170.2 398.3,171.4 400.0,174.0 403.0,176.1 405.5,178.6" />
<polyline points="308.1,265.0 309.8,268.0 311.3,270.1 312.0,273.0 312.5,276.4 317.5,280.5 323.8,285.2 325.6,287.5 326.0,290.2 324.8,295.0 322.5,300.2 317.5,307.7 312.5,315.2 307.5,323.0 303.0,330.2 303.5,332.5 305.0,334.0 308.0,335.5 311.3,336.5 311.0,341.0 310.0,345.2 309.2,348.0 308.9,350.2 308.9,408.4" />
<polyline points="340.6,210.0 345.5,216.0 351.3,222.6 352.3,226.0 352.6,230.1 361.0,236.5 370.1,242.6 377.5,248.5 383.0,252.8 385.1,253.9 390.0,256.0 396.4,255.9 396.0,260.0 395.1,265.1 393.0,271.0 391.4,277.6 393.9,280.5 393.9,282.7 391.5,284.5 390.1,287.7 392.5,291.0 396.4,292.7 402.5,290.5 408.9,287.7 411.5,290.0 413.9,292.7 415.8,297.5 417.6,302.7 421.5,306.5 425.2,310.2 426.5,313.0 427.7,315.2 432.0,316.2 436.4,317.7 438.5,321.5 440.2,325.2 442.5,327.5 445.2,329.0 446.5,327.0 447.7,326.5 455.0,325.8 462.7,325.2 475.0,325.0 487.7,324.7 489.0,322.0 490.2,320.2 492.0,319.0 494.0,319.0 496.0,320.8 497.7,322.7 501.0,324.2 504.1,325.7" />
<polyline points="107.0,272.1 112.5,272.6 117.0,275.3 119.7,280.7 121.5,286.2 125.1,289.3 135.1,290.7 142.4,290.2 148.7,288.0 157.8,286.6 168.6,287.5 173.2,289.3 181.3,288.9 190.0,287.1 200.3,285.6 213.0,283.0 225.3,280.1 235.0,278.5 244.1,277.6" />
<polyline points="382.6,602.5 384.5,610.0 386.4,617.5 387.3,627.0 387.6,636.3 392.0,644.5 396.4,652.6 400.0,656.0 403.4,659.3 398.5,664.5 393.9,670.1 392.0,676.5 390.1,682.6 387.5,686.5 385.1,690.1 384.6,695.0 385.1,700.1 388.5,702.5 391.4,705.2 391.2,708.5 390.1,711.4 386.0,712.0 382.9,711.9 381.5,715.5 380.3,719.4" />
<polyline points="55.9,196.3 67.2,199.9 78.1,203.5 88.9,205.8 98.0,205.8 105.2,203.1 108.9,199.4 107.1,195.8 105.2,192.2 107.1,189.5 112.5,187.7 113.4,185.4 108.9,182.2 103.4,179.5" />
</g>
<g fill="none" stroke="#000" stroke-width="2" stroke-linejoin="round">
<polyline points="305.3,717.1 382.9,711.9" />
<polyline points="380.3,719.4 504.0,757.2 597.1,757.2 597.1,742.7 652.9,742.7" />
<polyline points="647.9,735.7 652.9,742.7 656.5,746.5 660.5,750.2 665.5,754.0 670.5,757.7 677.0,762.5 683.0,767.7 688.0,771.0 693.0,774.0 698.0,776.3 702.2,778.2" />
<polyline points="103.5,179.7 702.2,179.7" />
</g>
<g fill="none" stroke="#000" stroke-width="2.25" stroke-linejoin="round" stroke-linecap="round">
<polyline points="15.1,130.4 19.3,129.7 22.7,130.4 27.0,130.8 28.3,126.1 30.0,125.3 30.0,130.0 35.5,130.8 42.3,130.4 46.5,128.3 49.5,124.0 49.1,119.8 52.1,117.6 52.9,122.7 51.6,127.0 48.2,130.8 45.7,132.9 47.4,134.6 49.9,135.5 50.8,138.0 53.3,141.4 55.0,145.3 59.3,148.2 65.2,151.6 71.2,153.3 76.3,152.5 81.4,149.9 83.1,145.7 83.9,143.1 81.8,140.6 85.6,141.0 87.7,143.1 86.9,145.7 84.3,147.0 83.9,150.8 85.2,155.9 87.3,158.4 91.6,157.2 94.5,156.7 92.4,159.3 88.2,160.1 84.8,158.4 82.2,155.0 79.2,156.3 79.7,159.3 83.1,161.8 89.0,164.4 95.0,165.6 98.4,164.4 101.8,163.1 102.2,160.1 106.9,156.7 105.2,162.7 104.3,166.9 107.7,168.6 113.7,168.2 117.1,166.1 116.6,168.6 113.7,169.9 106.9,170.7 106.9,173.7 109.4,175.4 110.3,177.5 109.8,176.8 115.2,176.3 119.7,178.6 121.6,183.1 124.3,186.7 128.3,187.2 129.7,191.3 129.7,194.9 124.3,196.7 127.0,198.5 132.4,202.2 134.2,205.8 138.3,211.2 134.2,216.6 133.3,223.0 134.2,228.4 133.3,233.9 129.7,235.7 127.0,238.4 123.4,240.2 117.0,240.2 112.5,239.8 116.1,235.7 119.7,233.9 125.2,233.0 127.0,228.4 125.2,224.8 123.4,223.0 126.1,219.4 127.9,215.7 125.2,215.3 120.6,218.5 115.2,223.0 109.8,228.4 108.9,232.5 114.3,232.5 116.1,230.7 112.5,229.3 116.1,226.6 121.6,221.2" />
<polyline points="15.1,132.9 22.7,133.8 30.4,135.5 34.6,139.7 38.9,144.8 44.0,149.1 49.9,155.0 50.8,158.4 54.2,161.8 61.0,165.2 69.5,167.8 76.3,169.5 82.2,172.0 85.3,175.0 88.9,180.4 92.6,184.9 96.2,189.5 98.9,193.1 102.5,196.3 98.9,198.5 94.4,201.2 87.1,200.3 76.2,198.1 62.7,194.4 50.9,190.8 42.7,186.7 42.7,186.7 44.0,184.8 48.2,182.2 52.5,179.7 54.6,175.4 53.8,172.0 52.5,174.6 49.9,178.0 44.0,178.8 35.5,179.2 31.2,181.4 25.3,178.0 20.2,176.3 24.4,175.4 27.0,173.3 22.7,172.9 21.0,170.3 16.8,169.5 17.2,166.1 15.1,166.1" />
<polyline points="56.3,199.0 76.2,205.3 90.7,208.0 103.4,207.6 107.1,206.2 112.5,209.4 117.0,209.4 120.6,206.7 121.6,204.0" />
<polyline points="56.8,199.4 57.2,204.9 58.1,210.3 60.8,215.7 66.3,219.4 69.0,224.8 69.9,230.0 73.5,236.3 75.8,243.6 85.3,245.9 78.0,247.7 79.9,251.7 84.4,255.4 82.6,262.6 79.9,257.2 78.5,259.9 78.9,267.1 80.3,268.9 81.7,270.3 82.1,279.8 82.6,293.4 81.2,302.5 80.3,310.0 80.5,307.0 78.8,320.1 77.0,330.0 75.1,340.2 73.2,350.0 71.3,360.2 69.0,367.0 66.3,372.7 64.2,378.0 63.1,382.7 65.0,389.0 67.6,395.2 70.5,401.0 72.6,407.7 73.5,414.0 73.8,420.3 75.5,430.0 77.6,436.0 76.0,441.0 73.8,445.0 71.5,450.0 69.6,455.0 69.8,461.0 71.3,467.5 78.0,474.0 85.1,480.1 87.0,486.0 87.6,492.6 89.5,501.0 91.4,510.1 97.0,515.5 101.4,520.0 108.2,523.6 110.9,528.2 114.9,531.3 117.2,534.5 114.9,535.4 113.6,531.3 113.1,539.0 115.4,537.2 121.7,541.3 127.2,543.6 129.0,545.4 129.0,551.7 130.3,556.2 132.6,560.0 133.5,562.0 136.4,567.7 140.5,571.5 145.2,573.9 148.5,574.0 151.4,575.2 152.5,579.0 152.2,582.7 150.0,586.5 148.9,590.2 154.0,596.0 160.2,602.7 166.0,610.0 172.7,617.7 177.5,621.5 182.7,625.3 183.0,628.0 184.0,630.3 187.0,632.0 189.0,634.0 190.0,640.0 190.1,647.6 192.5,651.5 196.4,653.8 203.0,654.0 210.1,654.6 218.0,656.0 225.2,657.6 231.0,661.5 236.4,665.1 243.0,666.5 250.2,667.6 255.0,668.5 260.2,670.1 263.0,674.5 265.2,678.8 269.0,678.3 272.7,678.8 279.0,682.5 285.2,686.4 290.5,691.0 295.2,696.4 298.0,700.5 300.3,705.1 301.0,709.0 301.5,712.6 303.5,715.0 305.3,717.1 306.0,720.0 307.8,722.7 311.5,729.0 315.3,735.2 318.5,739.0 321.5,742.7 319.5,745.0 320.3,747.7 325.5,754.0 330.3,760.2 332.5,765.0 334.0,770.2 338.0,774.0 341.6,777.7 342.0,781.5 342.8,785.2 345.5,787.5 347.8,790.2 348.6,795.0 349.1,800.6" />
<polyline points="129.0,545.4 129.4,539.0 129.9,535.4 133.1,534.0 136.2,534.9 138.5,536.3 144.4,534.9 147.1,535.4 154.3,536.3 161.1,537.0 156.2,537.9 145.3,537.7 137.1,538.1 133.5,539.9 134.4,542.6 137.1,546.3 139.9,549.0 142.1,553.5 143.5,556.0 140.8,555.8 136.2,552.6 133.5,550.3 132.6,546.3 129.0,546.3" />
<polyline points="376.6,738.4 380.0,740.0 384.1,742.7 382.0,745.0 380.4,747.7 379.5,754.0 379.1,760.2 382.0,770.0 385.4,780.2 386.2,786.5 386.6,792.7 388.5,796.5 390.4,800.6" />
<polyline points="384.1,742.7 394.0,747.0 404.1,751.4 406.5,749.5 409.1,748.9 414.0,750.0 419.1,751.4 419.5,754.0 420.4,756.4 429.0,759.5 437.9,762.7 437.0,767.5 436.7,772.7 440.5,779.0 444.2,785.2 447.0,793.0 449.2,800.6" />
<polyline points="15.1,123.6 18.5,123.8" />
<polygon points="36.3,134.6 39.7,133.4 44.8,138.9 43.1,142.3 40.6,143.1 37.2,138.0" fill="none"/>
<polygon points="48.2,139.3 51.6,144.0 47.4,146.5 46.5,142.7" fill="none"/>
<polygon points="58.9,153.8 65.2,154.2 71.2,157.6 76.3,163.1 69.5,161.0 62.7,157.2" fill="none"/>
<polygon points="90.3,175.4 101.6,182.7 98.9,184.9 99.8,188.6 97.1,192.6 94.4,186.7 92.6,180.4" fill="#000"/>
<polygon points="107.5,191.7 111.6,191.3 112.5,194.9 109.8,196.7 107.5,194.9" fill="none"/>
<polygon points="112.9,189.0 120.2,189.0 120.6,191.7 116.1,192.2 112.9,190.8" fill="#000"/>
<polygon points="115.7,193.5 119.3,194.0 119.7,198.1 116.6,198.5 115.2,195.8" fill="#000"/>
<polygon points="122.0,201.7 127.0,200.3 131.5,204.0 134.2,207.6 137.4,211.2 135.1,214.4 131.5,212.1 129.3,208.0 125.2,205.3 122.0,203.5" fill="none"/>
<polygon points="123.8,204.9 128.3,207.6 130.6,212.1 133.3,214.8 130.6,215.7 127.0,212.1 124.7,208.5" fill="none"/>
<polygon points="124.3,220.3 129.3,219.4 130.6,223.9 129.3,227.5 126.1,225.7" fill="none"/>
<polygon points="128.3,228.4 132.4,227.5 133.3,232.1 130.2,234.8 127.9,232.1" fill="none"/>
<polygon points="78.9,267.1 88.9,267.6 98.0,268.9 101.6,271.2 107.0,272.1 98.0,271.2 90.7,270.3 81.7,270.3" fill="#000"/>
<polygon points="403.0,209.0 406.0,209.5 407.6,213.0 407.8,217.5 406.5,220.8 403.5,221.3 401.8,219.0 400.6,216.8 402.0,215.0 400.5,213.0 401.8,211.0" />
<polygon points="323.8,204.2 327.0,202.8 331.0,202.8 335.0,205.0 331.5,206.0 329.0,206.3 327.8,209.0 326.5,212.6 324.3,212.3 325.3,208.5 326.0,206.0 324.5,205.8" />
<polygon points="520.3,328.0 524.0,327.0 526.0,324.5 528.5,324.0 530.5,326.5 532.5,329.5 532.3,332.5 529.5,332.5 527.0,331.0 524.5,329.0" />
<polygon points="246.6,362.5 249.5,361.4 253.0,362.0 256.6,363.3 256.0,366.5 253.0,366.3 250.5,367.7 248.0,366.5" />
<polygon points="196.0,407.0 197.8,405.2 199.8,406.0 200.3,409.5 199.3,413.5 197.3,415.2 195.5,414.0 195.3,410.5" />
<polygon points="221.8,468.5 223.5,467.5 226.0,468.0 228.0,471.0 229.8,474.5 230.2,477.3 228.3,477.3 226.3,476.0 224.3,473.0 222.5,470.5" />
<polygon points="208.3,500.5 209.5,498.5 211.5,497.6 213.5,498.3 214.0,501.5 213.5,505.0 212.0,507.4 210.0,507.0 208.5,504.5" />
<polygon points="220.6,571.0 222.5,570.0 224.8,570.2 225.0,571.5 222.8,572.3 221.0,572.3" />
<polygon points="440.2,421.3 444.0,419.3 448.9,418.8 450.0,421.5 451.4,423.8 454.0,424.5 456.4,426.3 457.5,429.5 459.0,432.6 461.0,432.8 462.7,431.3 461.0,429.0 461.5,427.6 466.0,427.3 471.5,427.6 471.5,428.9 466.0,429.3 463.0,430.0 464.5,432.5 466.5,435.1 470.0,438.5 474.0,442.6 472.5,445.5 470.2,447.6 466.0,449.3 461.5,450.6 459.5,447.0 457.7,443.8 455.0,444.0 452.7,445.1 449.5,440.0 446.4,435.1 443.5,431.0 441.4,427.6 440.5,424.5" />
<polygon points="465.3,440.5 467.3,439.5 468.5,441.0 467.5,444.0 465.5,444.5 464.5,442.5" />
<polygon points="478.5,461.4 480.5,462.5 481.5,465.0 484.0,466.5 483.5,468.5 480.5,468.8 478.0,471.2 475.8,471.0 476.5,467.5 477.5,464.5" />
<polygon points="493.0,403.5 494.5,402.5 496.0,403.5 496.5,407.5 496.0,411.5 494.3,412.6 492.8,411.5 492.3,407.5" />
<polygon points="340.3,687.0 341.5,685.3 343.8,685.0 347.0,687.2 351.0,690.5 354.5,693.8 355.8,696.3 355.0,698.3 352.5,698.8 349.5,697.3 345.5,694.0 342.0,690.5" />
<polygon points="196.4,668.3 198.5,667.8 200.0,669.0 198.0,669.5" fill="#000" stroke-width="1.6"/>
<polygon points="202.5,669.3 205.0,668.5 208.5,669.0 211.0,670.8 209.5,672.6 206.0,672.8 203.5,671.5" fill="none" stroke-width="1.8"/>
<polygon points="213.9,668.3 217.0,667.6 220.0,668.5 218.5,670.3 215.5,670.0" fill="#000" stroke-width="1.6"/>
<polygon points="219.5,668.8 223.0,668.3 226.4,669.0 224.0,670.3 221.0,670.3" fill="#000" stroke-width="1.6"/>
<polygon points="257.7,686.4 260.5,687.0 264.0,689.0 266.5,691.5 266.0,692.8 263.0,692.0 260.0,690.0 258.3,688.3" fill="none" stroke-width="1.8"/>
<polygon points="225.2,693.3 227.5,693.0 230.0,694.0 229.8,695.6 227.5,695.8 225.5,695.0" fill="#000" stroke-width="1.6"/>
<polygon points="256.4,701.6 258.3,701.4 261.0,703.5 263.8,706.5 265.2,708.9 263.3,709.2 260.5,707.0 258.0,704.5" fill="#000" stroke-width="1.6"/>
<polygon points="376.6,738.4 384.1,742.7 383.5,745.5 380.0,742.0" fill="#000"/>
</g>
<g fill="none" stroke="#000" stroke-width="3" stroke-linejoin="round" stroke-linecap="round">
<polyline points="275.5,153.0 274.0,157.0 274.5,162.0 276.5,166.0 279.5,168.0" />
<polyline points="190.6,203.0 197.5,207.7 204.2,212.3 210.6,216.8" />
<polyline points="596.7,225.2 604.0,225.5 606.7,227.7 606.4,232.0 608.9,229.3 613.2,225.0 617.6,223.9 623.0,222.8 625.2,221.4 631.1,221.7 636.6,222.8 639.8,221.7 641.5,223.9 641.7,221.7 638.7,219.5 644.7,217.9 650.1,215.7 649.6,213.0 655.0,210.9 658.8,212.5 657.7,215.2 661.0,217.9 662.1,222.8 661.0,226.6" />
<polyline points="641.5,221.7 651.2,220.1 654.5,215.7 657.7,218.5 660.5,224.4" />
<polyline points="380.1,601.8 384.0,600.5 388.0,599.5 392.0,598.7 395.1,598.0 395.5,593.0 395.6,588.8 396.3,594.0 397.0,599.0 398.5,601.6 401.4,603.3 404.0,600.8 406.4,597.5 409.5,599.5 412.6,602.5 416.0,606.0 418.9,609.5" stroke-width="3.5"/>
</g>
</g>
<rect x="15.1" y="48.9" width="687.1" height="751.7" fill="none" stroke="#000" stroke-width="1.7"/>
<g fill="none" stroke="#d3d3d3" stroke-width="3.1" stroke-linejoin="round" stroke-linecap="square" clip-path="url(#cpR)">
<polyline points="824.2,401.6 892.5,736.0 960.8,757.2 1029.1,762.7 1097.4,795.7 1165.8,787.3 1234.1,785.4 1302.4,796.4 1370.7,798.9 1439.0,801.1 1507.3,801.7 1575.6,801.7 1643.9,797.6"/>
<polyline points="824.2,322.5 892.5,624.1 960.8,777.7 1029.1,764.2 1097.4,793.1 1165.8,795.6 1234.1,747.9 1302.4,773.5 1370.7,797.4 1439.0,800.8 1507.3,801.7 1575.6,801.7 1643.9,801.7"/>
<polyline points="824.2,544.5 892.5,784.0 960.8,787.1 1029.1,785.8 1097.4,792.5 1165.8,794.2 1234.1,747.9 1302.4,758.6 1370.7,792.9 1439.0,799.9 1507.3,801.7 1575.6,801.7 1643.9,801.7"/>
<polyline points="824.2,356.1 892.5,711.8 960.8,733.1 1029.1,783.9 1097.4,789.2 1165.8,798.5 1234.1,768.6 1302.4,776.2 1370.7,791.1 1439.0,799.6 1507.3,801.7 1575.6,801.7 1643.9,793.4"/>
<polyline points="824.2,245.4 892.5,684.0 960.8,677.6 1029.1,784.9 1097.4,774.9 1165.8,783.1 1234.1,770.7 1302.4,786.3 1370.7,796.1 1439.0,800.6 1507.3,801.7 1575.6,801.7 1643.9,799.6"/>
<polyline points="824.2,267.2 892.5,707.0 960.8,737.3 1029.1,762.9 1097.4,789.2 1165.8,796.6 1234.1,789.5 1302.4,798.2 1370.7,800.4 1439.0,801.4 1507.3,801.7 1575.6,801.7 1643.9,801.7"/>
<polyline points="824.2,553.5 892.5,752.1 960.8,781.0 1029.1,789.3 1097.4,793.4 1165.8,789.3 1234.1,739.7 1302.4,760.3 1370.7,777.7 1439.0,797.6 1507.3,801.7 1575.6,783.1 1643.9,787.2"/>
<polyline points="824.2,470.8 892.5,698.3 960.8,760.3 1029.1,781.0 1097.4,789.3 1165.8,783.1 1234.1,694.2 1302.4,754.1 1370.7,777.7 1439.0,796.7 1507.3,800.9 1575.6,801.7 1643.9,801.7"/>
<polyline points="824.2,390.2 892.5,698.8 960.8,754.8 1029.1,749.3 1097.4,782.7 1165.8,798.2 1234.1,798.4 1302.4,799.7 1370.7,801.0 1439.0,801.6 1507.3,801.7 1575.6,801.7 1643.9,797.6"/>
<polyline points="824.2,436.3 892.5,733.1 960.8,772.9 1029.1,780.5 1097.4,783.1 1165.8,798.1 1234.1,798.0 1302.4,798.7 1370.7,800.3 1439.0,801.4 1507.3,801.7 1575.6,801.7 1643.9,801.7"/>
<polyline points="824.2,483.5 892.5,724.1 960.8,749.4 1029.1,760.8 1097.4,789.3 1165.8,795.3 1234.1,793.7 1302.4,795.1 1370.7,799.5 1439.0,801.3 1507.3,801.7 1575.6,801.7 1643.9,801.7"/>
<polyline points="824.2,367.4 892.5,658.9 960.8,740.4 1029.1,747.1 1097.4,789.1 1165.8,786.4 1234.1,783.6 1302.4,796.4 1370.7,800.5 1439.0,801.5 1507.3,801.7 1575.6,801.7 1643.9,799.6"/>
<polyline points="824.2,234.5 892.5,629.1 960.8,700.3 1029.1,791.2 1097.4,797.9 1165.8,785.6 1234.1,798.5 1302.4,800.3 1370.7,801.5 1439.0,801.7 1507.3,801.7 1575.6,801.7 1643.9,801.7"/>
<polyline points="824.2,622.9 892.5,798.3 960.8,800.2 1029.1,800.9 1097.4,798.9 1165.8,796.7 1234.1,785.6 1302.4,793.2 1370.7,797.2 1439.0,800.8 1507.3,801.7 1575.6,801.7 1643.9,801.7"/>
<polyline points="824.2,256.3 892.5,613.3 960.8,741.6 1029.1,762.0 1097.4,790.3 1165.8,780.6 1234.1,798.7 1302.4,799.3 1370.7,801.3 1439.0,801.6 1507.3,801.7 1575.6,801.7 1643.9,801.7"/>
<polyline points="824.2,637.1 892.5,796.4 960.8,798.7 1029.1,800.4 1097.4,800.0 1165.8,799.4 1234.1,783.8 1302.4,795.8 1370.7,799.4 1439.0,801.2 1507.3,801.7 1575.6,801.7 1643.9,801.7"/>
<polyline points="824.2,429.5 892.5,719.0 960.8,764.5 1029.1,781.0 1097.4,774.8 1165.8,649.5 1234.1,570.5 1302.4,756.2 1370.7,789.3 1439.0,799.6 1507.3,801.7 1575.6,801.7 1643.9,801.7"/>
<polyline points="824.2,512.2 892.5,739.7 960.8,776.9 1029.1,785.2 1097.4,785.2 1165.8,776.9 1234.1,676.4 1302.4,764.5 1370.7,791.4 1439.0,799.6 1507.3,801.7 1575.6,801.7 1643.9,801.7"/>
<polyline points="824.2,652.1 892.5,801.1 960.8,798.1 1029.1,796.7 1097.4,800.1 1165.8,800.1 1234.1,797.1 1302.4,799.0 1370.7,800.9 1439.0,801.5 1507.3,801.7 1575.6,801.7 1643.9,801.7"/>
<polyline points="824.2,202.0 892.5,626.6 960.8,758.7 1029.1,763.5 1097.4,775.8 1165.8,794.2 1234.1,772.3 1302.4,793.0 1370.7,800.4 1439.0,801.4 1507.3,801.7 1575.6,801.7 1643.9,799.6"/>
<polyline points="824.2,300.3 892.5,629.1 960.8,693.0 1029.1,738.1 1097.4,792.3 1165.8,789.9 1234.1,747.9 1302.4,782.9 1370.7,798.1 1439.0,801.0 1507.3,801.7 1575.6,801.7 1643.9,801.7"/>
<polyline points="824.2,131.7 892.5,570.9 960.8,677.6 1029.1,752.1 1097.4,785.2 1165.8,793.4 1234.1,747.9 1302.4,776.9 1370.7,793.4 1439.0,801.7 1507.3,801.7 1575.6,801.7 1643.9,797.6"/>
<polyline points="824.2,255.7 892.5,623.9 960.8,558.5 1029.1,710.7 1097.4,781.0 1165.8,789.3 1234.1,785.2 1302.4,789.3 1370.7,797.6 1439.0,801.7 1507.3,801.7 1575.6,801.7 1643.9,795.5"/>
<polyline points="824.2,378.8 892.5,728.8 960.8,714.6 1029.1,746.0 1097.4,783.8 1165.8,795.2 1234.1,789.5 1302.4,798.2 1370.7,800.0 1439.0,801.4 1507.3,801.7 1575.6,801.7 1643.9,797.6"/>
<polyline points="824.2,311.4 892.5,671.9 960.8,723.4 1029.1,766.7 1097.4,785.2 1165.8,787.7 1234.1,761.1 1302.4,772.5 1370.7,791.4 1439.0,799.6 1507.3,801.7 1575.6,801.7 1643.9,801.7"/>
<polyline points="824.2,557.0 892.5,761.4 960.8,768.9 1029.1,793.2 1097.4,796.7 1165.8,794.3 1234.1,777.7 1302.4,794.0 1370.7,799.2 1439.0,801.2 1507.3,801.7 1575.6,801.7 1643.9,799.6"/>
<polyline points="824.2,595.8 892.5,780.0 960.8,788.8 1029.1,791.3 1097.4,789.6 1165.8,798.0 1234.1,794.7 1302.4,796.8 1370.7,799.8 1439.0,801.3 1507.3,801.7 1575.6,801.7 1643.9,793.4"/>
<polyline points="824.2,181.3 892.5,611.4 960.8,681.8 1029.1,739.7 1097.4,776.9 1165.8,789.3 1234.1,764.5 1302.4,785.2 1370.7,797.6 1439.0,801.7 1507.3,801.7 1575.6,801.7 1643.9,801.7"/>
<polyline points="824.2,77.9 892.5,558.5 960.8,585.0 1029.1,743.8 1097.4,781.0 1165.8,789.3 1234.1,776.9 1302.4,789.3 1370.7,797.6 1439.0,801.7 1507.3,801.7 1575.6,801.7 1643.9,799.6"/>
<polyline points="824.2,226.8 892.5,623.9 960.8,506.4 1029.1,493.2 1097.4,752.1 1165.8,762.4 1234.1,772.7 1302.4,781.0 1370.7,793.4 1439.0,799.6 1507.3,801.7 1575.6,801.7 1643.9,789.3"/>
<polyline points="824.2,519.7 892.5,738.0 960.8,786.4 1029.1,768.9 1097.4,784.9 1165.8,794.1 1234.1,758.4 1302.4,768.3 1370.7,786.1 1439.0,798.6 1507.3,801.7 1575.6,801.7 1643.9,793.4"/>
<polyline points="824.2,284.7 892.5,367.4 960.8,649.9 1029.1,764.5 1097.4,789.3 1165.8,793.4 1234.1,789.3 1302.4,793.4 1370.7,799.6 1439.0,801.7 1507.3,801.7 1575.6,801.7 1643.9,801.7"/>
<polyline points="824.2,569.7 892.5,756.8 960.8,779.9 1029.1,783.0 1097.4,791.6 1165.8,797.3 1234.1,775.4 1302.4,794.1 1370.7,799.2 1439.0,801.2 1507.3,801.7 1575.6,801.7 1643.9,801.7"/>
<polyline points="824.2,289.2 892.5,686.3 960.8,713.4 1029.1,770.2 1097.4,793.5 1165.8,794.7 1234.1,798.5 1302.4,799.2 1370.7,800.7 1439.0,801.5 1507.3,801.7 1575.6,801.7 1643.9,801.7"/>
<polyline points="824.2,367.4 892.5,669.3 960.8,735.5 1029.1,764.5 1097.4,752.1 1165.8,762.4 1234.1,663.6 1302.4,760.3 1370.7,793.4 1439.0,801.7 1507.3,801.7 1575.6,801.7 1643.9,777.7"/>
<polyline points="824.2,212.8 892.5,613.2 960.8,780.3 1029.1,744.5 1097.4,768.6 1165.8,778.7 1234.1,795.6 1302.4,799.3 1370.7,801.1 1439.0,801.6 1507.3,801.7 1575.6,801.7 1643.9,801.7"/>
<polyline points="824.2,582.6 892.5,789.7 960.8,793.9 1029.1,796.3 1097.4,793.4 1165.8,797.4 1234.1,771.1 1302.4,785.3 1370.7,794.8 1439.0,800.3 1507.3,801.7 1575.6,801.7 1643.9,801.7"/>
<polyline points="824.2,677.6 892.5,799.6 960.8,801.7 1029.1,801.7 1097.4,801.7 1165.8,801.7 1234.1,799.6 1302.4,801.7 1370.7,801.7 1439.0,801.7 1507.3,801.7 1575.6,801.7 1643.9,801.7"/>
<polyline points="824.2,702.4 892.5,800.9 960.8,801.7 1029.1,801.7 1097.4,801.7 1165.8,801.7 1234.1,797.6 1302.4,797.6 1370.7,801.7 1439.0,801.7 1507.3,801.7 1575.6,801.7 1643.9,801.7"/>
<polyline points="824.2,609.2 892.5,796.8 960.8,794.8 1029.1,799.5 1097.4,794.5 1165.8,797.4 1234.1,750.7 1302.4,779.6 1370.7,789.5 1439.0,799.3 1507.3,801.7 1575.6,801.7 1643.9,801.7"/>
<polyline points="824.2,223.6 892.5,584.3 960.8,775.6 1029.1,734.7 1097.4,797.5 1165.8,781.5 1234.1,784.7 1302.4,787.7 1370.7,797.3 1439.0,800.8 1507.3,801.7 1575.6,801.7 1643.9,801.7"/>
<polyline points="824.2,532.0 892.5,754.8 960.8,756.0 1029.1,799.4 1097.4,787.5 1165.8,799.3 1234.1,795.2 1302.4,798.4 1370.7,800.7 1439.0,801.5 1507.3,801.7 1575.6,801.7 1643.9,799.6"/>
<polyline points="824.2,424.7 892.5,723.4 960.8,735.0 1029.1,753.2 1097.4,790.5 1165.8,787.4 1234.1,765.8 1302.4,790.2 1370.7,799.6 1439.0,801.3 1507.3,801.7 1575.6,801.7 1643.9,801.7"/>
<polyline points="824.2,459.7 892.5,719.8 960.8,741.4 1029.1,759.6 1097.4,785.2 1165.8,797.1 1234.1,797.0 1302.4,798.6 1370.7,800.9 1439.0,801.5 1507.3,801.7 1575.6,801.7 1643.9,801.7"/>
<polyline points="824.2,278.2 892.5,711.9 960.8,687.5 1029.1,733.6 1097.4,793.2 1165.8,781.6 1234.1,777.7 1302.4,792.9 1370.7,798.0 1439.0,801.0 1507.3,801.7 1575.6,801.7 1643.9,801.7"/>
<polyline points="824.2,507.6 892.5,702.1 960.8,758.1 1029.1,784.7 1097.4,793.9 1165.8,795.7 1234.1,792.6 1302.4,798.9 1370.7,801.1 1439.0,801.6 1507.3,801.7 1575.6,801.7 1643.9,801.7"/>
<polyline points="824.2,344.9 892.5,615.4 960.8,747.7 1029.1,745.2 1097.4,786.6 1165.8,791.5 1234.1,797.8 1302.4,798.8 1370.7,800.3 1439.0,801.4 1507.3,801.7 1575.6,801.7 1643.9,799.6"/>
<polyline points="824.2,333.7 892.5,741.7 960.8,708.1 1029.1,788.1 1097.4,787.0 1165.8,787.8 1234.1,781.1 1302.4,788.3 1370.7,796.8 1439.0,800.7 1507.3,801.7 1575.6,801.7 1643.9,801.7"/>
<polyline points="824.2,346.7 892.5,652.8 960.8,706.6 1029.1,672.7 1097.4,768.6 1165.8,785.2 1234.1,768.6 1302.4,789.3 1370.7,797.6 1439.0,801.7 1507.3,801.7 1575.6,801.7 1643.9,801.7"/>
<polyline points="824.2,495.5 892.5,752.3 960.8,753.6 1029.1,795.6 1097.4,790.4 1165.8,794.8 1234.1,747.9 1302.4,786.2 1370.7,793.8 1439.0,800.1 1507.3,801.7 1575.6,801.7 1643.9,799.6"/>
<polyline points="824.2,669.3 892.5,800.8 960.8,797.3 1029.1,801.1 1097.4,797.1 1165.8,799.6 1234.1,794.5 1302.4,798.9 1370.7,801.2 1439.0,801.6 1507.3,801.7 1575.6,801.7 1643.9,801.7"/>
<polyline points="824.2,471.6 892.5,727.8 960.8,782.5 1029.1,767.9 1097.4,786.1 1165.8,795.0 1234.1,747.9 1302.4,786.2 1370.7,793.4 1439.0,800.0 1507.3,801.7 1575.6,801.7 1643.9,799.6"/>
<polyline points="824.2,448.0 892.5,657.0 960.8,764.9 1029.1,789.2 1097.4,789.2 1165.8,794.2 1234.1,747.9 1302.4,762.9 1370.7,781.0 1439.0,798.4 1507.3,801.7 1575.6,801.7 1643.9,793.4"/>
<polyline points="824.2,574.2 892.5,768.6 960.8,785.2 1029.1,793.4 1097.4,793.4 1165.8,789.3 1234.1,747.9 1302.4,764.5 1370.7,785.2 1439.0,797.6 1507.3,801.7 1575.6,801.7 1643.9,783.1"/>
<polyline points="824.2,413.1 892.5,728.6 960.8,774.0 1029.1,768.1 1097.4,779.7 1165.8,788.4 1234.1,783.8 1302.4,788.9 1370.7,799.5 1439.0,801.3 1507.3,801.7 1575.6,801.7 1643.9,797.6"/>
</g>
<g fill="none" stroke="#000" stroke-width="6.25" stroke-linejoin="round" clip-path="url(#cpR)">
<polyline stroke-linecap="square" points="824.2,453.9 892.5,696.2 960.8,750.4 1029.1,770.9 1097.4,788.7 1165.8,793.0 1234.1,778.5 1302.4,789.3 1370.7,797.6 1439.0,800.5 1507.3,800.9 1575.6,800.0 1643.9,798.4"/>
<polyline stroke-dasharray="23.1 10" points="824.2,296.7 892.5,633.4 960.8,710.7 1029.1,754.1 1097.4,783.9 1165.8,788.5 1234.1,762.0 1302.4,781.4 1370.7,795.1 1439.0,800.0 1507.3,800.9 1575.6,800.5 1643.9,799.2"/>
</g>
<rect x="824.2" y="47.9" width="819.3" height="753.8" fill="none" stroke="#000" stroke-width="1.67"/>
<g stroke="#000" stroke-width="1.67"><line x1="816.9" x2="824.2" y1="801.70" y2="801.70"/><line x1="816.9" x2="824.2" y1="698.30" y2="698.30"/><line x1="816.9" x2="824.2" y1="594.90" y2="594.90"/><line x1="816.9" x2="824.2" y1="491.50" y2="491.50"/><line x1="816.9" x2="824.2" y1="388.10" y2="388.10"/><line x1="816.9" x2="824.2" y1="284.70" y2="284.70"/><line x1="816.9" x2="824.2" y1="181.30" y2="181.30"/><line x1="816.9" x2="824.2" y1="77.90" y2="77.90"/><line x1="824.20" x2="824.20" y1="801.7" y2="809"/><line x1="960.82" x2="960.82" y1="801.7" y2="809"/><line x1="1097.44" x2="1097.44" y1="801.7" y2="809"/><line x1="1234.06" x2="1234.06" y1="801.7" y2="809"/><line x1="1370.68" x2="1370.68" y1="801.7" y2="809"/><line x1="1507.30" x2="1507.30" y1="801.7" y2="809"/></g>
<g font-size="25" fill="#000">
<text x="809.9" y="811.6" text-anchor="end">0.0</text>
<text x="809.9" y="708.2" text-anchor="end">2.5</text>
<text x="809.9" y="604.8" text-anchor="end">5.0</text>
<text x="809.9" y="501.4" text-anchor="end">7.5</text>
<text x="809.9" y="398.0" text-anchor="end">10.0</text>
<text x="809.9" y="294.6" text-anchor="end">12.5</text>
<text x="809.9" y="191.2" text-anchor="end">15.0</text>
<text x="809.9" y="87.8" text-anchor="end">17.5</text>
<text x="824.2" y="835.8" text-anchor="middle">00Z</text>
<text x="824.2" y="863.7" text-anchor="middle">03/21</text>
<text x="960.8" y="835.8" text-anchor="middle">12Z</text>
<text x="960.8" y="863.7" text-anchor="middle">03/21</text>
<text x="1097.4" y="835.8" text-anchor="middle">00Z</text>
<text x="1097.4" y="863.7" text-anchor="middle">03/22</text>
<text x="1234.1" y="835.8" text-anchor="middle">12Z</text>
<text x="1234.1" y="863.7" text-anchor="middle">03/22</text>
<text x="1370.7" y="835.8" text-anchor="middle">00Z</text>
<text x="1370.7" y="863.7" text-anchor="middle">03/23</text>
<text x="1507.3" y="835.8" text-anchor="middle">12Z</text>
<text x="1507.3" y="863.7" text-anchor="middle">03/23</text>
</g>
<text x="746.1" y="38.9" font-size="31.25" text-anchor="middle">2026031900 48-120 hour Precipitation, 0.757 of variance</text>
<text transform="translate(735.2 426.6) rotate(-90)" font-size="31.25" letter-spacing="0.11" text-anchor="middle">Precipitation Rate (mm 6 h<tspan font-size="21.9" dy="-12.4">−1</tspan><tspan dy="12.4">)</tspan></text>
</svg>
</body></html>
